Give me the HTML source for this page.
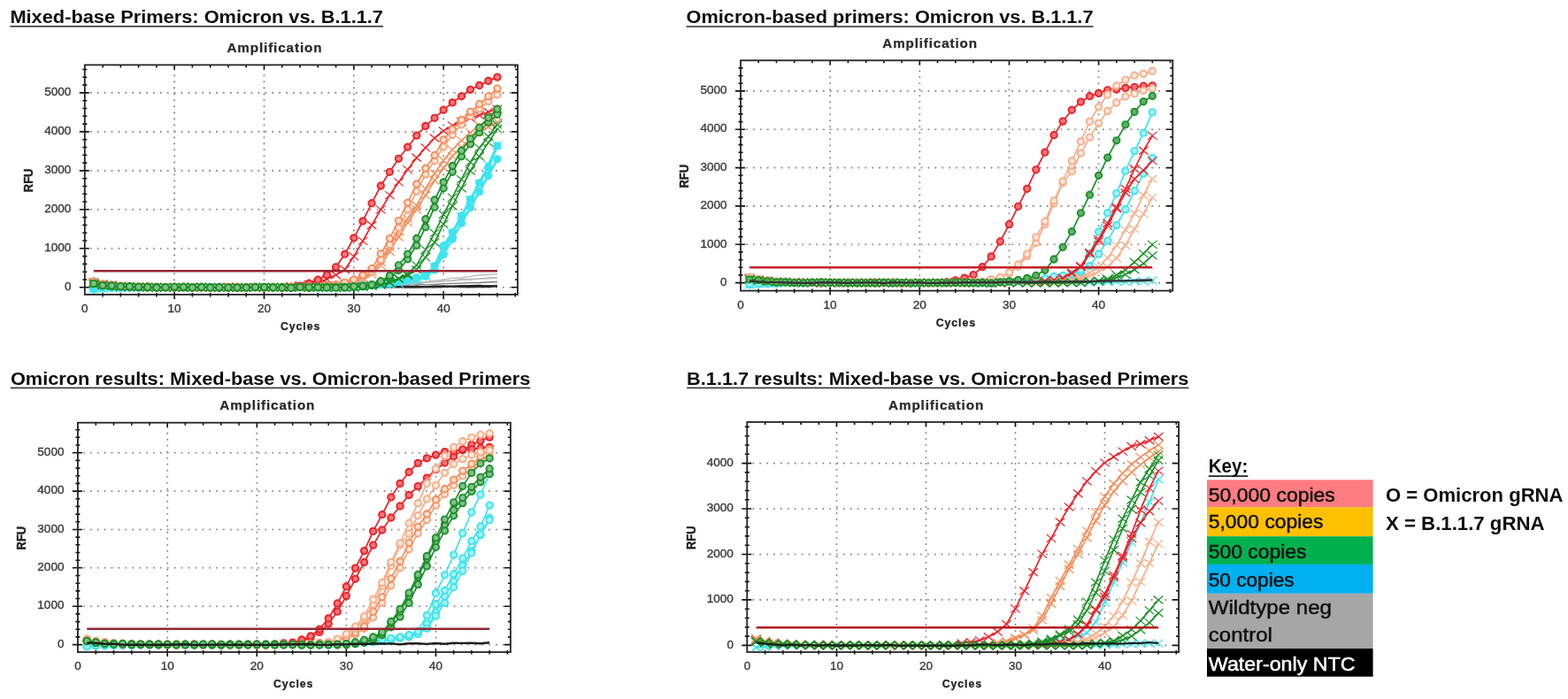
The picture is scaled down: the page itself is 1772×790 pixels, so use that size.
<!DOCTYPE html>
<html><head><meta charset="utf-8"><title>Amplification</title>
<style>html,body{margin:0;padding:0;background:#fff;width:1772px;height:790px;overflow:hidden}svg{display:block}text{font-family:"Liberation Sans", Arial, sans-serif}</style>
</head><body>
<svg width="1772" height="790" viewBox="0 0 1772 790">
<defs><filter id="bl" x="0" y="0" width="100%" height="100%"><feGaussianBlur stdDeviation="0.45"/></filter></defs>
<rect width="1772" height="790" fill="#fff"/>
<g filter="url(#bl)">
<text x="11.4" y="26.2" font-size="20" font-weight="bold" text-anchor="start" fill="#111" textLength="421.6" lengthAdjust="spacingAndGlyphs">Mixed-base Primers: Omicron vs. B.1.1.7</text>
<rect x="11.4" y="29" width="421.6" height="1.6" fill="#333"/>
<text x="256.4" y="58.8" font-size="13.9" font-weight="bold" text-anchor="start" fill="#2a2a2a" textLength="108" lengthAdjust="spacingAndGlyphs" stroke="#2a2a2a" stroke-width="0.25" letter-spacing="0.8">Amplification</text>
<path d="M197.1 78.4V329.9M298.5 78.4V329.9M399.9 78.4V329.9M501.2 78.4V329.9" stroke="#8c8c8c" stroke-width="2.1" stroke-dasharray="0 7" stroke-linecap="round" fill="none"/>
<path d="M102.8 324.8H582M102.8 280.8H582M102.8 236.8H582M102.8 192.9H582M102.8 148.9H582M102.8 104.9H582" stroke="#8c8c8c" stroke-width="2.1" stroke-dasharray="0 7.9" stroke-linecap="round" fill="none"/>
<path d="M89.8 324.8H100.8M578 324.8H585M93.3 316H98.3M582 316H585M93.3 307.2H98.3M582 307.2H585M93.3 298.4H98.3M582 298.4H585M93.3 289.6H98.3M582 289.6H585M89.8 280.8H100.8M578 280.8H585M93.3 272H98.3M582 272H585M93.3 263.2H98.3M582 263.2H585M93.3 254.4H98.3M582 254.4H585M93.3 245.6H98.3M582 245.6H585M89.8 236.8H100.8M578 236.8H585M93.3 228H98.3M582 228H585M93.3 219.2H98.3M582 219.2H585M93.3 210.5H98.3M582 210.5H585M93.3 201.7H98.3M582 201.7H585M89.8 192.9H100.8M578 192.9H585M93.3 184.1H98.3M582 184.1H585M93.3 175.3H98.3M582 175.3H585M93.3 166.5H98.3M582 166.5H585M93.3 157.7H98.3M582 157.7H585M89.8 148.9H100.8M578 148.9H585M93.3 140.1H98.3M582 140.1H585M93.3 131.3H98.3M582 131.3H585M93.3 122.5H98.3M582 122.5H585M93.3 113.7H98.3M582 113.7H585M89.8 104.9H100.8M578 104.9H585M93.3 96.1H98.3M582 96.1H585M93.3 87.3H98.3M582 87.3H585M93.3 78.5H98.3M582 78.5H585M116.1 330.9V335.4M116.1 73.4V76.4M136.3 330.9V335.4M136.3 73.4V76.4M156.6 330.9V335.4M156.6 73.4V76.4M176.9 330.9V335.4M176.9 73.4V76.4M197.1 328.9V337.9M197.1 73.4V78.4M217.4 330.9V335.4M217.4 73.4V76.4M237.7 330.9V335.4M237.7 73.4V76.4M258 330.9V335.4M258 73.4V76.4M278.2 330.9V335.4M278.2 73.4V76.4M298.5 328.9V337.9M298.5 73.4V78.4M318.8 330.9V335.4M318.8 73.4V76.4M339 330.9V335.4M339 73.4V76.4M359.3 330.9V335.4M359.3 73.4V76.4M379.6 330.9V335.4M379.6 73.4V76.4M399.9 328.9V337.9M399.9 73.4V78.4M420.1 330.9V335.4M420.1 73.4V76.4M440.4 330.9V335.4M440.4 73.4V76.4M460.7 330.9V335.4M460.7 73.4V76.4M480.9 330.9V335.4M480.9 73.4V76.4M501.2 328.9V337.9M501.2 73.4V78.4M521.5 330.9V335.4M521.5 73.4V76.4M541.7 330.9V335.4M541.7 73.4V76.4M562 330.9V335.4M562 73.4V76.4M582.3 330.9V335.4M582.3 73.4V76.4" stroke="#111" stroke-width="1.6" fill="none"/>
<rect x="95.8" y="73.4" width="489.2" height="259.5" fill="none" stroke="#222" stroke-width="1.8"/>
<text x="80.4" y="328" font-size="12.8" font-weight="normal" text-anchor="end" fill="#3a3a3a" textLength="7.5" lengthAdjust="spacingAndGlyphs" stroke="#3a3a3a" stroke-width="0.35">0</text>
<text x="80.4" y="284" font-size="12.8" font-weight="normal" text-anchor="end" fill="#3a3a3a" textLength="30.2" lengthAdjust="spacingAndGlyphs" stroke="#3a3a3a" stroke-width="0.35">1000</text>
<text x="80.4" y="240" font-size="12.8" font-weight="normal" text-anchor="end" fill="#3a3a3a" textLength="30.2" lengthAdjust="spacingAndGlyphs" stroke="#3a3a3a" stroke-width="0.35">2000</text>
<text x="80.4" y="196.1" font-size="12.8" font-weight="normal" text-anchor="end" fill="#3a3a3a" textLength="30.2" lengthAdjust="spacingAndGlyphs" stroke="#3a3a3a" stroke-width="0.35">3000</text>
<text x="80.4" y="152.1" font-size="12.8" font-weight="normal" text-anchor="end" fill="#3a3a3a" textLength="30.2" lengthAdjust="spacingAndGlyphs" stroke="#3a3a3a" stroke-width="0.35">4000</text>
<text x="80.4" y="108.1" font-size="12.8" font-weight="normal" text-anchor="end" fill="#3a3a3a" textLength="30.2" lengthAdjust="spacingAndGlyphs" stroke="#3a3a3a" stroke-width="0.35">5000</text>
<text x="95.8" y="353.3" font-size="12.8" font-weight="normal" text-anchor="middle" fill="#3a3a3a" textLength="7.5" lengthAdjust="spacingAndGlyphs" stroke="#3a3a3a" stroke-width="0.35">0</text>
<text x="197.1" y="353.3" font-size="12.8" font-weight="normal" text-anchor="middle" fill="#3a3a3a" textLength="15.1" lengthAdjust="spacingAndGlyphs" stroke="#3a3a3a" stroke-width="0.35">10</text>
<text x="298.5" y="353.3" font-size="12.8" font-weight="normal" text-anchor="middle" fill="#3a3a3a" textLength="15.1" lengthAdjust="spacingAndGlyphs" stroke="#3a3a3a" stroke-width="0.35">20</text>
<text x="399.9" y="353.3" font-size="12.8" font-weight="normal" text-anchor="middle" fill="#3a3a3a" textLength="15.1" lengthAdjust="spacingAndGlyphs" stroke="#3a3a3a" stroke-width="0.35">30</text>
<text x="501.2" y="353.3" font-size="12.8" font-weight="normal" text-anchor="middle" fill="#3a3a3a" textLength="15.1" lengthAdjust="spacingAndGlyphs" stroke="#3a3a3a" stroke-width="0.35">40</text>
<text x="339.6" y="373.1" font-size="12" font-weight="bold" text-anchor="middle" fill="#222" textLength="45.4" lengthAdjust="spacingAndGlyphs" stroke="#222" stroke-width="0.25" letter-spacing="0.9">Cycles</text>
<text x="0" y="0" font-size="14.2" font-weight="bold" fill="#222" stroke="#222" stroke-width="0.4" text-anchor="middle" textLength="26.6" lengthAdjust="spacingAndGlyphs" transform="translate(37.2 203.9) rotate(-90)">RFU</text>
<clipPath id="cp1"><rect x="95.8" y="73.4" width="489.2" height="259.5"/></clipPath>
<g clip-path="url(#cp1)">
<g>
<path d="M105.9 323 116.1 323.5 126.2 323.6 136.3 324 146.5 324.2 156.6 324.6 166.7 324.3 176.9 324.7 187 325.2 197.1 324.8 207.3 325.3 217.4 324.3 227.6 324.3 237.7 325 247.8 325 258 324.5 268.1 325.1 278.2 325.1 288.4 325.1 298.5 325 308.6 324.7 318.8 324.3 328.9 325.1 339 324.3 349.2 324.7 359.3 324.4 369.4 324.3 379.6 324.7 389.7 323.9 399.9 324.2 410 324 420.1 323.2 430.3 322.2 440.4 321.6 450.5 321.2 460.7 319.6 470.8 318.6 480.9 318.4 491.1 317.1 501.2 315.9 511.3 314.4 521.5 314 531.6 312.4 541.7 311 551.9 310.5 562 309.6" stroke="#bababa" stroke-width="1.3" fill="none" stroke-linejoin="round"/>
</g>
<g>
<path d="M105.9 322.5 116.1 323.7 126.2 323.4 136.3 323.8 146.5 324.5 156.6 324.4 166.7 325 176.9 325 187 325 197.1 324.6 207.3 325.1 217.4 324.3 227.6 325.2 237.7 325.1 247.8 325.2 258 324.5 268.1 324.9 278.2 324.8 288.4 325 298.5 324.7 308.6 324.9 318.8 325.1 328.9 324.9 339 325 349.2 325.2 359.3 324.5 369.4 324.5 379.6 324.2 389.7 323.7 399.9 324 410 323.7 420.1 323.3 430.3 322.9 440.4 322 450.5 322.1 460.7 320.9 470.8 320 480.9 319.3 491.1 318.7 501.2 317.1 511.3 317 521.5 315.6 531.6 315.3 541.7 314.8 551.9 314 562 313.7" stroke="#bababa" stroke-width="1.3" fill="none" stroke-linejoin="round"/>
</g>
<g>
<path d="M105.9 323 116.1 323.3 126.2 324.3 136.3 324 146.5 324.3 156.6 324.7 166.7 324.5 176.9 324.6 187 325.2 197.1 324.7 207.3 324.7 217.4 324.8 227.6 324.4 237.7 324.5 247.8 324.9 258 325.1 268.1 325.2 278.2 324.5 288.4 324.6 298.5 324.7 308.6 324.9 318.8 324.8 328.9 325.1 339 324.8 349.2 325.2 359.3 324.7 369.4 324.6 379.6 324.4 389.7 324.7 399.9 324.6 410 324.1 420.1 323.5 430.3 323.4 440.4 322.7 450.5 322.6 460.7 322.3 470.8 321.4 480.9 321.8 491.1 321.5 501.2 320.7 511.3 320.3 521.5 320.2 531.6 319.7 541.7 319.5 551.9 319 562 318.5" stroke="#7a7a7a" stroke-width="1.3" fill="none" stroke-linejoin="round"/>
</g>
<g>
<path d="M105.9 322.1 116.1 323.5 126.2 323.7 136.3 324 146.5 324.7 156.6 325 166.7 324.5 176.9 325.1 187 324.9 197.1 324.4 207.3 324.4 217.4 325.2 227.6 325.2 237.7 325.1 247.8 324.4 258 325.3 268.1 325.1 278.2 325.2 288.4 325.2 298.5 324.8 308.6 325.1 318.8 324.9 328.9 324.6 339 324.6 349.2 324.9 359.3 324.5 369.4 324.7 379.6 324.2 389.7 324.7 399.9 324.3 410 323.7 420.1 323 430.3 322.9 440.4 322.5 450.5 322.2 460.7 321.5 470.8 320.9 480.9 319.3 491.1 318.6 501.2 317.8 511.3 317.4 521.5 316.3 531.6 316 541.7 315.1 551.9 314.8 562 313.9" stroke="#bababa" stroke-width="1.3" fill="none" stroke-linejoin="round"/>
</g>
<g>
<path d="M105.9 322.1 116.1 323 126.2 323.7 136.3 324.5 146.5 324.6 156.6 324.3 166.7 324.3 176.9 325.2 187 325.1 197.1 324.3 207.3 325.2 217.4 324.6 227.6 325 237.7 324.6 247.8 324.4 258 324.7 268.1 324.9 278.2 325 288.4 324.7 298.5 324.7 308.6 324.9 318.8 324.8 328.9 324.7 339 325 349.2 325 359.3 324.5 369.4 325 379.6 324.4 389.7 324.1 399.9 324 410 324.6 420.1 324.3 430.3 323.7 440.4 324.2 450.5 323.5 460.7 324.2 470.8 323.4 480.9 324.2 491.1 323.4 501.2 323.2 511.3 323.3 521.5 323.1 531.6 322.7 541.7 322.5 551.9 323.3 562 322.8" stroke="#1c1c1c" stroke-width="1.6" fill="none" stroke-linejoin="round"/>
</g>
<g>
<path d="M105.9 322.2 116.1 323.6 126.2 323.6 136.3 323.8 146.5 324.6 156.6 324.3 166.7 324.8 176.9 325.1 187 324.9 197.1 324.5 207.3 325.1 217.4 324.6 227.6 324.9 237.7 325.1 247.8 324.9 258 324.9 268.1 324.8 278.2 324.4 288.4 324.5 298.5 325.3 308.6 324.5 318.8 324.9 328.9 324.5 339 324.6 349.2 324.8 359.3 325.1 369.4 324.3 379.6 324.2 389.7 324.5 399.9 325 410 324.2 420.1 324.2 430.3 324 440.4 323.8 450.5 323.8 460.7 324 470.8 324.2 480.9 324 491.1 324 501.2 323.6 511.3 323.7 521.5 323.4 531.6 323.7 541.7 323.5 551.9 323.1 562 323.2" stroke="#1c1c1c" stroke-width="1.6" fill="none" stroke-linejoin="round"/>
</g>
<g>
<path d="M105.9 322.4 116.1 323 126.2 324.4 136.3 323.8 146.5 324.1 156.6 325 166.7 324.3 176.9 324.4 187 325.1 197.1 324.3 207.3 324.9 217.4 324.8 227.6 324.6 237.7 324.6 247.8 324.5 258 325 268.1 324.8 278.2 325.2 288.4 325.3 298.5 325.2 308.6 325.7 318.8 325.4 328.9 324.8 339 325.5 349.2 325.1 359.3 325.5 369.4 324.7 379.6 325.3 389.7 325.2 399.9 324.5 410 324.8 420.1 324.7 430.3 324.6 440.4 324.6 450.5 324.7 460.7 324.9 470.8 324.9 480.9 324.8 491.1 324.7 501.2 324.5 511.3 323.9 521.5 324.5 531.6 324.6 541.7 324.3 551.9 324.4 562 323.6" stroke="#333" stroke-width="1.6" fill="none" stroke-linejoin="round"/>
</g>
<g>
<path d="M105.9 326.8 116.1 325.8 126.2 325 136.3 325.1 146.5 325.1 156.6 325.2 166.7 325.3 176.9 324.3 187 324.6 197.1 325.1 207.3 324.7 217.4 324.6 227.6 324.4 237.7 325 247.8 325 258 325.1 268.1 324.7 278.2 324.4 288.4 324.6 298.5 325.2 308.6 324.9 318.8 325.2 328.9 325.2 339 324.8 349.2 325.2 359.3 325 369.4 325.1 379.6 324.9 389.7 324 399.9 324 410 322.9 420.1 322.5 430.3 321.5 440.4 320.4 450.5 318.6 460.7 317 470.8 315.1 480.9 312.1 491.1 305.2 501.2 287.6 511.3 270.1 521.5 252.2 531.6 234.5 541.7 216.7 551.9 198.6 562 179.8" stroke="#3ce4ef" stroke-width="2.6" fill="none" stroke-linejoin="round"/>
<path d="M102.2 326.8a3.7 3.7 0 1 0 7.4 0a3.7 3.7 0 1 0 -7.4 0M112.4 325.8a3.7 3.7 0 1 0 7.4 0a3.7 3.7 0 1 0 -7.4 0M122.5 325a3.7 3.7 0 1 0 7.4 0a3.7 3.7 0 1 0 -7.4 0M132.6 325.1a3.7 3.7 0 1 0 7.4 0a3.7 3.7 0 1 0 -7.4 0M142.8 325.1a3.7 3.7 0 1 0 7.4 0a3.7 3.7 0 1 0 -7.4 0M152.9 325.2a3.7 3.7 0 1 0 7.4 0a3.7 3.7 0 1 0 -7.4 0M163 325.3a3.7 3.7 0 1 0 7.4 0a3.7 3.7 0 1 0 -7.4 0M173.2 324.3a3.7 3.7 0 1 0 7.4 0a3.7 3.7 0 1 0 -7.4 0M183.3 324.6a3.7 3.7 0 1 0 7.4 0a3.7 3.7 0 1 0 -7.4 0M193.4 325.1a3.7 3.7 0 1 0 7.4 0a3.7 3.7 0 1 0 -7.4 0M203.6 324.7a3.7 3.7 0 1 0 7.4 0a3.7 3.7 0 1 0 -7.4 0M213.7 324.6a3.7 3.7 0 1 0 7.4 0a3.7 3.7 0 1 0 -7.4 0M223.9 324.4a3.7 3.7 0 1 0 7.4 0a3.7 3.7 0 1 0 -7.4 0M234 325a3.7 3.7 0 1 0 7.4 0a3.7 3.7 0 1 0 -7.4 0M244.1 325a3.7 3.7 0 1 0 7.4 0a3.7 3.7 0 1 0 -7.4 0M254.3 325.1a3.7 3.7 0 1 0 7.4 0a3.7 3.7 0 1 0 -7.4 0M264.4 324.7a3.7 3.7 0 1 0 7.4 0a3.7 3.7 0 1 0 -7.4 0M274.5 324.4a3.7 3.7 0 1 0 7.4 0a3.7 3.7 0 1 0 -7.4 0M284.7 324.6a3.7 3.7 0 1 0 7.4 0a3.7 3.7 0 1 0 -7.4 0M294.8 325.2a3.7 3.7 0 1 0 7.4 0a3.7 3.7 0 1 0 -7.4 0M304.9 324.9a3.7 3.7 0 1 0 7.4 0a3.7 3.7 0 1 0 -7.4 0M315.1 325.2a3.7 3.7 0 1 0 7.4 0a3.7 3.7 0 1 0 -7.4 0M325.2 325.2a3.7 3.7 0 1 0 7.4 0a3.7 3.7 0 1 0 -7.4 0M335.3 324.8a3.7 3.7 0 1 0 7.4 0a3.7 3.7 0 1 0 -7.4 0M345.5 325.2a3.7 3.7 0 1 0 7.4 0a3.7 3.7 0 1 0 -7.4 0M355.6 325a3.7 3.7 0 1 0 7.4 0a3.7 3.7 0 1 0 -7.4 0M365.7 325.1a3.7 3.7 0 1 0 7.4 0a3.7 3.7 0 1 0 -7.4 0M375.9 324.9a3.7 3.7 0 1 0 7.4 0a3.7 3.7 0 1 0 -7.4 0M386 324a3.7 3.7 0 1 0 7.4 0a3.7 3.7 0 1 0 -7.4 0M396.2 324a3.7 3.7 0 1 0 7.4 0a3.7 3.7 0 1 0 -7.4 0M406.3 322.9a3.7 3.7 0 1 0 7.4 0a3.7 3.7 0 1 0 -7.4 0M416.4 322.5a3.7 3.7 0 1 0 7.4 0a3.7 3.7 0 1 0 -7.4 0M426.6 321.5a3.7 3.7 0 1 0 7.4 0a3.7 3.7 0 1 0 -7.4 0M436.7 320.4a3.7 3.7 0 1 0 7.4 0a3.7 3.7 0 1 0 -7.4 0M446.8 318.6a3.7 3.7 0 1 0 7.4 0a3.7 3.7 0 1 0 -7.4 0M457 317a3.7 3.7 0 1 0 7.4 0a3.7 3.7 0 1 0 -7.4 0M467.1 315.1a3.7 3.7 0 1 0 7.4 0a3.7 3.7 0 1 0 -7.4 0M477.2 312.1a3.7 3.7 0 1 0 7.4 0a3.7 3.7 0 1 0 -7.4 0M487.4 305.2a3.7 3.7 0 1 0 7.4 0a3.7 3.7 0 1 0 -7.4 0M497.5 287.6a3.7 3.7 0 1 0 7.4 0a3.7 3.7 0 1 0 -7.4 0M507.6 270.1a3.7 3.7 0 1 0 7.4 0a3.7 3.7 0 1 0 -7.4 0M517.8 252.2a3.7 3.7 0 1 0 7.4 0a3.7 3.7 0 1 0 -7.4 0M527.9 234.5a3.7 3.7 0 1 0 7.4 0a3.7 3.7 0 1 0 -7.4 0M538 216.7a3.7 3.7 0 1 0 7.4 0a3.7 3.7 0 1 0 -7.4 0M548.2 198.6a3.7 3.7 0 1 0 7.4 0a3.7 3.7 0 1 0 -7.4 0M558.3 179.8a3.7 3.7 0 1 0 7.4 0a3.7 3.7 0 1 0 -7.4 0" stroke="#3ce4ef" stroke-width="1.9" fill="#3ce4ef"/>
</g>
<g>
<path d="M105.9 326.9 116.1 325.6 126.2 325.1 136.3 325.4 146.5 325.3 156.6 325.3 166.7 325.4 176.9 325.2 187 325.2 197.1 324.5 207.3 325.1 217.4 325.1 227.6 324.4 237.7 324.4 247.8 325.2 258 325 268.1 324.3 278.2 324.9 288.4 324.7 298.5 324.6 308.6 324.6 318.8 325.3 328.9 324.6 339 324.5 349.2 324.9 359.3 325 369.4 324.6 379.6 324.3 389.7 323.8 399.9 323.8 410 322.5 420.1 322 430.3 320.3 440.4 319 450.5 318 460.7 315.8 470.8 313.8 480.9 311.1 491.1 300.6 501.2 277.7 511.3 262.6 521.5 243.8 531.6 225.4 541.7 206.8 551.9 189 562 165" stroke="#3ce4ef" stroke-width="2.6" fill="none" stroke-linejoin="round"/>
<path d="M102.2 326.9a3.7 3.7 0 1 0 7.4 0a3.7 3.7 0 1 0 -7.4 0M112.4 325.6a3.7 3.7 0 1 0 7.4 0a3.7 3.7 0 1 0 -7.4 0M122.5 325.1a3.7 3.7 0 1 0 7.4 0a3.7 3.7 0 1 0 -7.4 0M132.6 325.4a3.7 3.7 0 1 0 7.4 0a3.7 3.7 0 1 0 -7.4 0M142.8 325.3a3.7 3.7 0 1 0 7.4 0a3.7 3.7 0 1 0 -7.4 0M152.9 325.3a3.7 3.7 0 1 0 7.4 0a3.7 3.7 0 1 0 -7.4 0M163 325.4a3.7 3.7 0 1 0 7.4 0a3.7 3.7 0 1 0 -7.4 0M173.2 325.2a3.7 3.7 0 1 0 7.4 0a3.7 3.7 0 1 0 -7.4 0M183.3 325.2a3.7 3.7 0 1 0 7.4 0a3.7 3.7 0 1 0 -7.4 0M193.4 324.5a3.7 3.7 0 1 0 7.4 0a3.7 3.7 0 1 0 -7.4 0M203.6 325.1a3.7 3.7 0 1 0 7.4 0a3.7 3.7 0 1 0 -7.4 0M213.7 325.1a3.7 3.7 0 1 0 7.4 0a3.7 3.7 0 1 0 -7.4 0M223.9 324.4a3.7 3.7 0 1 0 7.4 0a3.7 3.7 0 1 0 -7.4 0M234 324.4a3.7 3.7 0 1 0 7.4 0a3.7 3.7 0 1 0 -7.4 0M244.1 325.2a3.7 3.7 0 1 0 7.4 0a3.7 3.7 0 1 0 -7.4 0M254.3 325a3.7 3.7 0 1 0 7.4 0a3.7 3.7 0 1 0 -7.4 0M264.4 324.3a3.7 3.7 0 1 0 7.4 0a3.7 3.7 0 1 0 -7.4 0M274.5 324.9a3.7 3.7 0 1 0 7.4 0a3.7 3.7 0 1 0 -7.4 0M284.7 324.7a3.7 3.7 0 1 0 7.4 0a3.7 3.7 0 1 0 -7.4 0M294.8 324.6a3.7 3.7 0 1 0 7.4 0a3.7 3.7 0 1 0 -7.4 0M304.9 324.6a3.7 3.7 0 1 0 7.4 0a3.7 3.7 0 1 0 -7.4 0M315.1 325.3a3.7 3.7 0 1 0 7.4 0a3.7 3.7 0 1 0 -7.4 0M325.2 324.6a3.7 3.7 0 1 0 7.4 0a3.7 3.7 0 1 0 -7.4 0M335.3 324.5a3.7 3.7 0 1 0 7.4 0a3.7 3.7 0 1 0 -7.4 0M345.5 324.9a3.7 3.7 0 1 0 7.4 0a3.7 3.7 0 1 0 -7.4 0M355.6 325a3.7 3.7 0 1 0 7.4 0a3.7 3.7 0 1 0 -7.4 0M365.7 324.6a3.7 3.7 0 1 0 7.4 0a3.7 3.7 0 1 0 -7.4 0M375.9 324.3a3.7 3.7 0 1 0 7.4 0a3.7 3.7 0 1 0 -7.4 0M386 323.8a3.7 3.7 0 1 0 7.4 0a3.7 3.7 0 1 0 -7.4 0M396.2 323.8a3.7 3.7 0 1 0 7.4 0a3.7 3.7 0 1 0 -7.4 0M406.3 322.5a3.7 3.7 0 1 0 7.4 0a3.7 3.7 0 1 0 -7.4 0M416.4 322a3.7 3.7 0 1 0 7.4 0a3.7 3.7 0 1 0 -7.4 0M426.6 320.3a3.7 3.7 0 1 0 7.4 0a3.7 3.7 0 1 0 -7.4 0M436.7 319a3.7 3.7 0 1 0 7.4 0a3.7 3.7 0 1 0 -7.4 0M446.8 318a3.7 3.7 0 1 0 7.4 0a3.7 3.7 0 1 0 -7.4 0M457 315.8a3.7 3.7 0 1 0 7.4 0a3.7 3.7 0 1 0 -7.4 0M467.1 313.8a3.7 3.7 0 1 0 7.4 0a3.7 3.7 0 1 0 -7.4 0M477.2 311.1a3.7 3.7 0 1 0 7.4 0a3.7 3.7 0 1 0 -7.4 0M487.4 300.6a3.7 3.7 0 1 0 7.4 0a3.7 3.7 0 1 0 -7.4 0M497.5 277.7a3.7 3.7 0 1 0 7.4 0a3.7 3.7 0 1 0 -7.4 0M507.6 262.6a3.7 3.7 0 1 0 7.4 0a3.7 3.7 0 1 0 -7.4 0M517.8 243.8a3.7 3.7 0 1 0 7.4 0a3.7 3.7 0 1 0 -7.4 0M527.9 225.4a3.7 3.7 0 1 0 7.4 0a3.7 3.7 0 1 0 -7.4 0M538 206.8a3.7 3.7 0 1 0 7.4 0a3.7 3.7 0 1 0 -7.4 0M548.2 189a3.7 3.7 0 1 0 7.4 0a3.7 3.7 0 1 0 -7.4 0M558.3 165a3.7 3.7 0 1 0 7.4 0a3.7 3.7 0 1 0 -7.4 0" stroke="#3ce4ef" stroke-width="1.9" fill="#3ce4ef"/>
</g>
<g>
<path d="M105.9 326.8 116.1 326 126.2 325.5 136.3 325.7 146.5 325.1 156.6 324.5 166.7 324.8 176.9 324.9 187 324.5 197.1 324.9 207.3 325.1 217.4 324.5 227.6 325.2 237.7 324.4 247.8 324.4 258 324.8 268.1 324.8 278.2 325.3 288.4 325.1 298.5 324.5 308.6 324.6 318.8 324.7 328.9 325.2 339 324.6 349.2 324.3 359.3 324.4 369.4 324.6 379.6 324.9 389.7 324.9 399.9 325.2 410 324.7 420.1 322.8 430.3 322.5 440.4 321.6 450.5 320.4 460.7 318.1 470.8 316 480.9 312.3 491.1 301.6 501.2 283 511.3 264 521.5 244.4 531.6 225.7 541.7 207.4 551.9 186.3 562 164.2" stroke="#3ce4ef" stroke-width="2.6" fill="none" stroke-linejoin="round"/>
<path d="M100.6 322.3l10.6 9m0 -9l-10.6 9M110.8 321.5l10.6 9m0 -9l-10.6 9M120.9 321l10.6 9m0 -9l-10.6 9M131 321.2l10.6 9m0 -9l-10.6 9M141.2 320.6l10.6 9m0 -9l-10.6 9M151.3 320l10.6 9m0 -9l-10.6 9M161.4 320.3l10.6 9m0 -9l-10.6 9M171.6 320.4l10.6 9m0 -9l-10.6 9M181.7 320l10.6 9m0 -9l-10.6 9M191.8 320.4l10.6 9m0 -9l-10.6 9M202 320.6l10.6 9m0 -9l-10.6 9M212.1 320l10.6 9m0 -9l-10.6 9M222.3 320.7l10.6 9m0 -9l-10.6 9M232.4 319.9l10.6 9m0 -9l-10.6 9M242.5 319.9l10.6 9m0 -9l-10.6 9M252.7 320.3l10.6 9m0 -9l-10.6 9M262.8 320.3l10.6 9m0 -9l-10.6 9M272.9 320.8l10.6 9m0 -9l-10.6 9M283.1 320.6l10.6 9m0 -9l-10.6 9M293.2 320l10.6 9m0 -9l-10.6 9M303.3 320.1l10.6 9m0 -9l-10.6 9M313.5 320.2l10.6 9m0 -9l-10.6 9M323.6 320.7l10.6 9m0 -9l-10.6 9M333.7 320.1l10.6 9m0 -9l-10.6 9M343.9 319.8l10.6 9m0 -9l-10.6 9M354 319.9l10.6 9m0 -9l-10.6 9M364.1 320.1l10.6 9m0 -9l-10.6 9M374.3 320.4l10.6 9m0 -9l-10.6 9M384.4 320.4l10.6 9m0 -9l-10.6 9M394.6 320.7l10.6 9m0 -9l-10.6 9M404.7 320.2l10.6 9m0 -9l-10.6 9M414.8 318.3l10.6 9m0 -9l-10.6 9M425 318l10.6 9m0 -9l-10.6 9M435.1 317.1l10.6 9m0 -9l-10.6 9M445.2 315.9l10.6 9m0 -9l-10.6 9M455.4 313.6l10.6 9m0 -9l-10.6 9M465.5 311.5l10.6 9m0 -9l-10.6 9M475.6 307.8l10.6 9m0 -9l-10.6 9M485.8 297.1l10.6 9m0 -9l-10.6 9M495.9 278.5l10.6 9m0 -9l-10.6 9M506 259.5l10.6 9m0 -9l-10.6 9M516.2 239.9l10.6 9m0 -9l-10.6 9M526.3 221.2l10.6 9m0 -9l-10.6 9M536.4 202.9l10.6 9m0 -9l-10.6 9M546.6 181.8l10.6 9m0 -9l-10.6 9M556.7 159.7l10.6 9m0 -9l-10.6 9" stroke="#3ce4ef" stroke-width="1.2" fill="none"/>
</g>
<g>
<path d="M105.9 319.1 116.1 321.6 126.2 322.3 136.3 323.7 146.5 324 156.6 324.5 166.7 324.4 176.9 325 187 324.7 197.1 324.9 207.3 325.2 217.4 324.4 227.6 324.3 237.7 325.2 247.8 324.7 258 324.8 268.1 324.9 278.2 324.7 288.4 324.6 298.5 325 308.6 324.9 318.8 324.8 328.9 323.7 339 322.6 349.2 321.4 359.3 319.6 369.4 315.6 379.6 310.7 389.7 304.5 399.9 289.9 410 272.4 420.1 254.5 430.3 236.9 440.4 220.6 450.5 205.9 460.7 191.6 470.8 178.2 480.9 166.9 491.1 156 501.2 148 511.3 141.9 521.5 137.5 531.6 133.3 541.7 130.3 551.9 126.5 562 123.2" stroke="#ec2027" stroke-width="1.7" fill="none" stroke-linejoin="round"/>
<path d="M100.6 314.6l10.6 9m0 -9l-10.6 9M110.8 317.1l10.6 9m0 -9l-10.6 9M120.9 317.8l10.6 9m0 -9l-10.6 9M131 319.2l10.6 9m0 -9l-10.6 9M141.2 319.5l10.6 9m0 -9l-10.6 9M151.3 320l10.6 9m0 -9l-10.6 9M161.4 319.9l10.6 9m0 -9l-10.6 9M171.6 320.5l10.6 9m0 -9l-10.6 9M181.7 320.2l10.6 9m0 -9l-10.6 9M191.8 320.4l10.6 9m0 -9l-10.6 9M202 320.7l10.6 9m0 -9l-10.6 9M212.1 319.9l10.6 9m0 -9l-10.6 9M222.3 319.8l10.6 9m0 -9l-10.6 9M232.4 320.7l10.6 9m0 -9l-10.6 9M242.5 320.2l10.6 9m0 -9l-10.6 9M252.7 320.3l10.6 9m0 -9l-10.6 9M262.8 320.4l10.6 9m0 -9l-10.6 9M272.9 320.2l10.6 9m0 -9l-10.6 9M283.1 320.1l10.6 9m0 -9l-10.6 9M293.2 320.5l10.6 9m0 -9l-10.6 9M303.3 320.4l10.6 9m0 -9l-10.6 9M313.5 320.3l10.6 9m0 -9l-10.6 9M323.6 319.2l10.6 9m0 -9l-10.6 9M333.7 318.1l10.6 9m0 -9l-10.6 9M343.9 316.9l10.6 9m0 -9l-10.6 9M354 315.1l10.6 9m0 -9l-10.6 9M364.1 311.1l10.6 9m0 -9l-10.6 9M374.3 306.2l10.6 9m0 -9l-10.6 9M384.4 300l10.6 9m0 -9l-10.6 9M394.6 285.4l10.6 9m0 -9l-10.6 9M404.7 267.9l10.6 9m0 -9l-10.6 9M414.8 250l10.6 9m0 -9l-10.6 9M425 232.4l10.6 9m0 -9l-10.6 9M435.1 216.1l10.6 9m0 -9l-10.6 9M445.2 201.4l10.6 9m0 -9l-10.6 9M455.4 187.1l10.6 9m0 -9l-10.6 9M465.5 173.7l10.6 9m0 -9l-10.6 9M475.6 162.4l10.6 9m0 -9l-10.6 9M485.8 151.5l10.6 9m0 -9l-10.6 9M495.9 143.5l10.6 9m0 -9l-10.6 9M506 137.4l10.6 9m0 -9l-10.6 9M516.2 133l10.6 9m0 -9l-10.6 9M526.3 128.8l10.6 9m0 -9l-10.6 9M536.4 125.8l10.6 9m0 -9l-10.6 9M546.6 122l10.6 9m0 -9l-10.6 9M556.7 118.7l10.6 9m0 -9l-10.6 9" stroke="#ec2027" stroke-width="1.2" fill="none"/>
</g>
<g>
<path d="M105.9 319.2 116.1 321.8 126.2 322.2 136.3 323.5 146.5 324.1 156.6 324.1 166.7 324.8 176.9 324.9 187 324.7 197.1 325 207.3 324.6 217.4 324.9 227.6 324.9 237.7 325 247.8 325.1 258 324.6 268.1 324.4 278.2 325 288.4 324.5 298.5 325 308.6 324.5 318.8 325.1 328.9 324.2 339 323.1 349.2 320.2 359.3 316.2 369.4 310.7 379.6 301.8 389.7 287.2 399.9 268.9 410 249.9 420.1 229.7 430.3 210 440.4 194.3 450.5 179.3 460.7 166.2 470.8 153.2 480.9 142.4 491.1 133.3 501.2 124.3 511.3 115.9 521.5 108.8 531.6 101.3 541.7 96.5 551.9 91.4 562 87.1" stroke="#ec2027" stroke-width="1.7" fill="none" stroke-linejoin="round"/>
<path d="M102.2 319.2a3.7 3.7 0 1 0 7.4 0a3.7 3.7 0 1 0 -7.4 0M112.4 321.8a3.7 3.7 0 1 0 7.4 0a3.7 3.7 0 1 0 -7.4 0M122.5 322.2a3.7 3.7 0 1 0 7.4 0a3.7 3.7 0 1 0 -7.4 0M132.6 323.5a3.7 3.7 0 1 0 7.4 0a3.7 3.7 0 1 0 -7.4 0M142.8 324.1a3.7 3.7 0 1 0 7.4 0a3.7 3.7 0 1 0 -7.4 0M152.9 324.1a3.7 3.7 0 1 0 7.4 0a3.7 3.7 0 1 0 -7.4 0M163 324.8a3.7 3.7 0 1 0 7.4 0a3.7 3.7 0 1 0 -7.4 0M173.2 324.9a3.7 3.7 0 1 0 7.4 0a3.7 3.7 0 1 0 -7.4 0M183.3 324.7a3.7 3.7 0 1 0 7.4 0a3.7 3.7 0 1 0 -7.4 0M193.4 325a3.7 3.7 0 1 0 7.4 0a3.7 3.7 0 1 0 -7.4 0M203.6 324.6a3.7 3.7 0 1 0 7.4 0a3.7 3.7 0 1 0 -7.4 0M213.7 324.9a3.7 3.7 0 1 0 7.4 0a3.7 3.7 0 1 0 -7.4 0M223.9 324.9a3.7 3.7 0 1 0 7.4 0a3.7 3.7 0 1 0 -7.4 0M234 325a3.7 3.7 0 1 0 7.4 0a3.7 3.7 0 1 0 -7.4 0M244.1 325.1a3.7 3.7 0 1 0 7.4 0a3.7 3.7 0 1 0 -7.4 0M254.3 324.6a3.7 3.7 0 1 0 7.4 0a3.7 3.7 0 1 0 -7.4 0M264.4 324.4a3.7 3.7 0 1 0 7.4 0a3.7 3.7 0 1 0 -7.4 0M274.5 325a3.7 3.7 0 1 0 7.4 0a3.7 3.7 0 1 0 -7.4 0M284.7 324.5a3.7 3.7 0 1 0 7.4 0a3.7 3.7 0 1 0 -7.4 0M294.8 325a3.7 3.7 0 1 0 7.4 0a3.7 3.7 0 1 0 -7.4 0M304.9 324.5a3.7 3.7 0 1 0 7.4 0a3.7 3.7 0 1 0 -7.4 0M315.1 325.1a3.7 3.7 0 1 0 7.4 0a3.7 3.7 0 1 0 -7.4 0M325.2 324.2a3.7 3.7 0 1 0 7.4 0a3.7 3.7 0 1 0 -7.4 0M335.3 323.1a3.7 3.7 0 1 0 7.4 0a3.7 3.7 0 1 0 -7.4 0M345.5 320.2a3.7 3.7 0 1 0 7.4 0a3.7 3.7 0 1 0 -7.4 0M355.6 316.2a3.7 3.7 0 1 0 7.4 0a3.7 3.7 0 1 0 -7.4 0M365.7 310.7a3.7 3.7 0 1 0 7.4 0a3.7 3.7 0 1 0 -7.4 0M375.9 301.8a3.7 3.7 0 1 0 7.4 0a3.7 3.7 0 1 0 -7.4 0M386 287.2a3.7 3.7 0 1 0 7.4 0a3.7 3.7 0 1 0 -7.4 0M396.2 268.9a3.7 3.7 0 1 0 7.4 0a3.7 3.7 0 1 0 -7.4 0M406.3 249.9a3.7 3.7 0 1 0 7.4 0a3.7 3.7 0 1 0 -7.4 0M416.4 229.7a3.7 3.7 0 1 0 7.4 0a3.7 3.7 0 1 0 -7.4 0M426.6 210a3.7 3.7 0 1 0 7.4 0a3.7 3.7 0 1 0 -7.4 0M436.7 194.3a3.7 3.7 0 1 0 7.4 0a3.7 3.7 0 1 0 -7.4 0M446.8 179.3a3.7 3.7 0 1 0 7.4 0a3.7 3.7 0 1 0 -7.4 0M457 166.2a3.7 3.7 0 1 0 7.4 0a3.7 3.7 0 1 0 -7.4 0M467.1 153.2a3.7 3.7 0 1 0 7.4 0a3.7 3.7 0 1 0 -7.4 0M477.2 142.4a3.7 3.7 0 1 0 7.4 0a3.7 3.7 0 1 0 -7.4 0M487.4 133.3a3.7 3.7 0 1 0 7.4 0a3.7 3.7 0 1 0 -7.4 0M497.5 124.3a3.7 3.7 0 1 0 7.4 0a3.7 3.7 0 1 0 -7.4 0M507.6 115.9a3.7 3.7 0 1 0 7.4 0a3.7 3.7 0 1 0 -7.4 0M517.8 108.8a3.7 3.7 0 1 0 7.4 0a3.7 3.7 0 1 0 -7.4 0M527.9 101.3a3.7 3.7 0 1 0 7.4 0a3.7 3.7 0 1 0 -7.4 0M538 96.5a3.7 3.7 0 1 0 7.4 0a3.7 3.7 0 1 0 -7.4 0M548.2 91.4a3.7 3.7 0 1 0 7.4 0a3.7 3.7 0 1 0 -7.4 0M558.3 87.1a3.7 3.7 0 1 0 7.4 0a3.7 3.7 0 1 0 -7.4 0" stroke="#ec2027" stroke-width="1.9" fill="#f37479"/>
</g>
<g>
<path d="M105.9 318.4 116.1 320.6 126.2 322.1 136.3 323 146.5 323.3 156.6 323.9 166.7 324.7 176.9 324.8 187 324.7 197.1 324.8 207.3 324.2 217.4 324.5 227.6 324.8 237.7 324.9 247.8 325.1 258 324.7 268.1 324.3 278.2 325.1 288.4 324.8 298.5 325 308.6 324.7 318.8 325.1 328.9 325.3 339 324.6 349.2 325 359.3 324.6 369.4 323.6 379.6 322.5 389.7 320.6 399.9 318.3 410 315.6 420.1 310.1 430.3 300 440.4 284.2 450.5 267.8 460.7 251.4 470.8 236.7 480.9 220.6 491.1 204 501.2 189.8 511.3 176.4 521.5 166.3 531.6 156.9 541.7 149.3 551.9 143.5 562 138.1" stroke="#f58d5a" stroke-width="1.7" fill="none" stroke-linejoin="round"/>
<path d="M100.6 313.9l10.6 9m0 -9l-10.6 9M110.8 316.1l10.6 9m0 -9l-10.6 9M120.9 317.6l10.6 9m0 -9l-10.6 9M131 318.5l10.6 9m0 -9l-10.6 9M141.2 318.8l10.6 9m0 -9l-10.6 9M151.3 319.4l10.6 9m0 -9l-10.6 9M161.4 320.2l10.6 9m0 -9l-10.6 9M171.6 320.3l10.6 9m0 -9l-10.6 9M181.7 320.2l10.6 9m0 -9l-10.6 9M191.8 320.3l10.6 9m0 -9l-10.6 9M202 319.7l10.6 9m0 -9l-10.6 9M212.1 320l10.6 9m0 -9l-10.6 9M222.3 320.3l10.6 9m0 -9l-10.6 9M232.4 320.4l10.6 9m0 -9l-10.6 9M242.5 320.6l10.6 9m0 -9l-10.6 9M252.7 320.2l10.6 9m0 -9l-10.6 9M262.8 319.8l10.6 9m0 -9l-10.6 9M272.9 320.6l10.6 9m0 -9l-10.6 9M283.1 320.3l10.6 9m0 -9l-10.6 9M293.2 320.5l10.6 9m0 -9l-10.6 9M303.3 320.2l10.6 9m0 -9l-10.6 9M313.5 320.6l10.6 9m0 -9l-10.6 9M323.6 320.8l10.6 9m0 -9l-10.6 9M333.7 320.1l10.6 9m0 -9l-10.6 9M343.9 320.5l10.6 9m0 -9l-10.6 9M354 320.1l10.6 9m0 -9l-10.6 9M364.1 319.1l10.6 9m0 -9l-10.6 9M374.3 318l10.6 9m0 -9l-10.6 9M384.4 316.1l10.6 9m0 -9l-10.6 9M394.6 313.8l10.6 9m0 -9l-10.6 9M404.7 311.1l10.6 9m0 -9l-10.6 9M414.8 305.6l10.6 9m0 -9l-10.6 9M425 295.5l10.6 9m0 -9l-10.6 9M435.1 279.7l10.6 9m0 -9l-10.6 9M445.2 263.3l10.6 9m0 -9l-10.6 9M455.4 246.9l10.6 9m0 -9l-10.6 9M465.5 232.2l10.6 9m0 -9l-10.6 9M475.6 216.1l10.6 9m0 -9l-10.6 9M485.8 199.5l10.6 9m0 -9l-10.6 9M495.9 185.3l10.6 9m0 -9l-10.6 9M506 171.9l10.6 9m0 -9l-10.6 9M516.2 161.8l10.6 9m0 -9l-10.6 9M526.3 152.4l10.6 9m0 -9l-10.6 9M536.4 144.8l10.6 9m0 -9l-10.6 9M546.6 139l10.6 9m0 -9l-10.6 9M556.7 133.6l10.6 9m0 -9l-10.6 9" stroke="#f58d5a" stroke-width="1.2" fill="none"/>
</g>
<g>
<path d="M105.9 318.9 116.1 320.4 126.2 322 136.3 323.7 146.5 323.7 156.6 324.4 166.7 324 176.9 324.2 187 324.8 197.1 324.6 207.3 324.7 217.4 325 227.6 324.8 237.7 324.9 247.8 324.8 258 324.3 268.1 324.6 278.2 325.3 288.4 325 298.5 324.3 308.6 324.5 318.8 324.7 328.9 324.6 339 324.6 349.2 325.2 359.3 324.9 369.4 324.1 379.6 322.5 389.7 320.2 399.9 318.3 410 314.1 420.1 307.4 430.3 296.2 440.4 279.3 450.5 262 460.7 247.1 470.8 232.2 480.9 213.2 491.1 196.3 501.2 181.3 511.3 169.1 521.5 158.9 531.6 149.6 541.7 142 551.9 136.7 562 131.5" stroke="#f58d5a" stroke-width="1.7" fill="none" stroke-linejoin="round"/>
<path d="M100.6 314.4l10.6 9m0 -9l-10.6 9M110.8 315.9l10.6 9m0 -9l-10.6 9M120.9 317.5l10.6 9m0 -9l-10.6 9M131 319.2l10.6 9m0 -9l-10.6 9M141.2 319.2l10.6 9m0 -9l-10.6 9M151.3 319.9l10.6 9m0 -9l-10.6 9M161.4 319.5l10.6 9m0 -9l-10.6 9M171.6 319.7l10.6 9m0 -9l-10.6 9M181.7 320.3l10.6 9m0 -9l-10.6 9M191.8 320.1l10.6 9m0 -9l-10.6 9M202 320.2l10.6 9m0 -9l-10.6 9M212.1 320.5l10.6 9m0 -9l-10.6 9M222.3 320.3l10.6 9m0 -9l-10.6 9M232.4 320.4l10.6 9m0 -9l-10.6 9M242.5 320.3l10.6 9m0 -9l-10.6 9M252.7 319.8l10.6 9m0 -9l-10.6 9M262.8 320.1l10.6 9m0 -9l-10.6 9M272.9 320.8l10.6 9m0 -9l-10.6 9M283.1 320.5l10.6 9m0 -9l-10.6 9M293.2 319.8l10.6 9m0 -9l-10.6 9M303.3 320l10.6 9m0 -9l-10.6 9M313.5 320.2l10.6 9m0 -9l-10.6 9M323.6 320.1l10.6 9m0 -9l-10.6 9M333.7 320.1l10.6 9m0 -9l-10.6 9M343.9 320.7l10.6 9m0 -9l-10.6 9M354 320.4l10.6 9m0 -9l-10.6 9M364.1 319.6l10.6 9m0 -9l-10.6 9M374.3 318l10.6 9m0 -9l-10.6 9M384.4 315.7l10.6 9m0 -9l-10.6 9M394.6 313.8l10.6 9m0 -9l-10.6 9M404.7 309.6l10.6 9m0 -9l-10.6 9M414.8 302.9l10.6 9m0 -9l-10.6 9M425 291.7l10.6 9m0 -9l-10.6 9M435.1 274.8l10.6 9m0 -9l-10.6 9M445.2 257.5l10.6 9m0 -9l-10.6 9M455.4 242.6l10.6 9m0 -9l-10.6 9M465.5 227.7l10.6 9m0 -9l-10.6 9M475.6 208.7l10.6 9m0 -9l-10.6 9M485.8 191.8l10.6 9m0 -9l-10.6 9M495.9 176.8l10.6 9m0 -9l-10.6 9M506 164.6l10.6 9m0 -9l-10.6 9M516.2 154.4l10.6 9m0 -9l-10.6 9M526.3 145.1l10.6 9m0 -9l-10.6 9M536.4 137.5l10.6 9m0 -9l-10.6 9M546.6 132.2l10.6 9m0 -9l-10.6 9M556.7 127l10.6 9m0 -9l-10.6 9" stroke="#f58d5a" stroke-width="1.2" fill="none"/>
</g>
<g>
<path d="M105.9 318.7 116.1 321.2 126.2 322.1 136.3 323.4 146.5 323.6 156.6 324.5 166.7 323.9 176.9 324.4 187 324.8 197.1 325.2 207.3 324.4 217.4 324.3 227.6 324.9 237.7 325.2 247.8 324.3 258 324.4 268.1 324.8 278.2 325.2 288.4 324.5 298.5 324.3 308.6 325 318.8 324.9 328.9 324.4 339 324.5 349.2 324.4 359.3 324.2 369.4 323.8 379.6 321.7 389.7 320.1 399.9 316.9 410 313.1 420.1 307 430.3 293.5 440.4 276.4 450.5 257.5 460.7 236.8 470.8 216.1 480.9 197.1 491.1 181.7 501.2 165.9 511.3 152.4 521.5 140.9 531.6 131.3 541.7 122.9 551.9 114.5 562 106.9" stroke="#f7a47c" stroke-width="1.7" fill="none" stroke-linejoin="round"/>
<path d="M102.2 318.7a3.7 3.7 0 1 0 7.4 0a3.7 3.7 0 1 0 -7.4 0M112.4 321.2a3.7 3.7 0 1 0 7.4 0a3.7 3.7 0 1 0 -7.4 0M122.5 322.1a3.7 3.7 0 1 0 7.4 0a3.7 3.7 0 1 0 -7.4 0M132.6 323.4a3.7 3.7 0 1 0 7.4 0a3.7 3.7 0 1 0 -7.4 0M142.8 323.6a3.7 3.7 0 1 0 7.4 0a3.7 3.7 0 1 0 -7.4 0M152.9 324.5a3.7 3.7 0 1 0 7.4 0a3.7 3.7 0 1 0 -7.4 0M163 323.9a3.7 3.7 0 1 0 7.4 0a3.7 3.7 0 1 0 -7.4 0M173.2 324.4a3.7 3.7 0 1 0 7.4 0a3.7 3.7 0 1 0 -7.4 0M183.3 324.8a3.7 3.7 0 1 0 7.4 0a3.7 3.7 0 1 0 -7.4 0M193.4 325.2a3.7 3.7 0 1 0 7.4 0a3.7 3.7 0 1 0 -7.4 0M203.6 324.4a3.7 3.7 0 1 0 7.4 0a3.7 3.7 0 1 0 -7.4 0M213.7 324.3a3.7 3.7 0 1 0 7.4 0a3.7 3.7 0 1 0 -7.4 0M223.9 324.9a3.7 3.7 0 1 0 7.4 0a3.7 3.7 0 1 0 -7.4 0M234 325.2a3.7 3.7 0 1 0 7.4 0a3.7 3.7 0 1 0 -7.4 0M244.1 324.3a3.7 3.7 0 1 0 7.4 0a3.7 3.7 0 1 0 -7.4 0M254.3 324.4a3.7 3.7 0 1 0 7.4 0a3.7 3.7 0 1 0 -7.4 0M264.4 324.8a3.7 3.7 0 1 0 7.4 0a3.7 3.7 0 1 0 -7.4 0M274.5 325.2a3.7 3.7 0 1 0 7.4 0a3.7 3.7 0 1 0 -7.4 0M284.7 324.5a3.7 3.7 0 1 0 7.4 0a3.7 3.7 0 1 0 -7.4 0M294.8 324.3a3.7 3.7 0 1 0 7.4 0a3.7 3.7 0 1 0 -7.4 0M304.9 325a3.7 3.7 0 1 0 7.4 0a3.7 3.7 0 1 0 -7.4 0M315.1 324.9a3.7 3.7 0 1 0 7.4 0a3.7 3.7 0 1 0 -7.4 0M325.2 324.4a3.7 3.7 0 1 0 7.4 0a3.7 3.7 0 1 0 -7.4 0M335.3 324.5a3.7 3.7 0 1 0 7.4 0a3.7 3.7 0 1 0 -7.4 0M345.5 324.4a3.7 3.7 0 1 0 7.4 0a3.7 3.7 0 1 0 -7.4 0M355.6 324.2a3.7 3.7 0 1 0 7.4 0a3.7 3.7 0 1 0 -7.4 0M365.7 323.8a3.7 3.7 0 1 0 7.4 0a3.7 3.7 0 1 0 -7.4 0M375.9 321.7a3.7 3.7 0 1 0 7.4 0a3.7 3.7 0 1 0 -7.4 0M386 320.1a3.7 3.7 0 1 0 7.4 0a3.7 3.7 0 1 0 -7.4 0M396.2 316.9a3.7 3.7 0 1 0 7.4 0a3.7 3.7 0 1 0 -7.4 0M406.3 313.1a3.7 3.7 0 1 0 7.4 0a3.7 3.7 0 1 0 -7.4 0M416.4 307a3.7 3.7 0 1 0 7.4 0a3.7 3.7 0 1 0 -7.4 0M426.6 293.5a3.7 3.7 0 1 0 7.4 0a3.7 3.7 0 1 0 -7.4 0M436.7 276.4a3.7 3.7 0 1 0 7.4 0a3.7 3.7 0 1 0 -7.4 0M446.8 257.5a3.7 3.7 0 1 0 7.4 0a3.7 3.7 0 1 0 -7.4 0M457 236.8a3.7 3.7 0 1 0 7.4 0a3.7 3.7 0 1 0 -7.4 0M467.1 216.1a3.7 3.7 0 1 0 7.4 0a3.7 3.7 0 1 0 -7.4 0M477.2 197.1a3.7 3.7 0 1 0 7.4 0a3.7 3.7 0 1 0 -7.4 0M487.4 181.7a3.7 3.7 0 1 0 7.4 0a3.7 3.7 0 1 0 -7.4 0M497.5 165.9a3.7 3.7 0 1 0 7.4 0a3.7 3.7 0 1 0 -7.4 0M507.6 152.4a3.7 3.7 0 1 0 7.4 0a3.7 3.7 0 1 0 -7.4 0M517.8 140.9a3.7 3.7 0 1 0 7.4 0a3.7 3.7 0 1 0 -7.4 0M527.9 131.3a3.7 3.7 0 1 0 7.4 0a3.7 3.7 0 1 0 -7.4 0M538 122.9a3.7 3.7 0 1 0 7.4 0a3.7 3.7 0 1 0 -7.4 0M548.2 114.5a3.7 3.7 0 1 0 7.4 0a3.7 3.7 0 1 0 -7.4 0M558.3 106.9a3.7 3.7 0 1 0 7.4 0a3.7 3.7 0 1 0 -7.4 0" stroke="#f7a47c" stroke-width="1.9" fill="#fce5da"/>
</g>
<g>
<path d="M105.9 318 116.1 321.1 126.2 322.6 136.3 323.6 146.5 323.5 156.6 323.8 166.7 323.9 176.9 324.3 187 324.5 197.1 324.5 207.3 324.8 217.4 324.7 227.6 325.1 237.7 325.3 247.8 324.4 258 324.5 268.1 324.3 278.2 324.5 288.4 324.7 298.5 325.2 308.6 324.4 318.8 324.8 328.9 324.4 339 324.5 349.2 324.5 359.3 324.1 369.4 322.7 379.6 321.8 389.7 319.3 399.9 316 410 311.1 420.1 303.6 430.3 286.7 440.4 269.7 450.5 249.3 460.7 229.2 470.8 208 480.9 190.2 491.1 175.5 501.2 157.9 511.3 146.3 521.5 135.5 531.6 126.3 541.7 117.7 551.9 108.8 562 100.1" stroke="#f58d5a" stroke-width="1.7" fill="none" stroke-linejoin="round"/>
<path d="M102.2 318a3.7 3.7 0 1 0 7.4 0a3.7 3.7 0 1 0 -7.4 0M112.4 321.1a3.7 3.7 0 1 0 7.4 0a3.7 3.7 0 1 0 -7.4 0M122.5 322.6a3.7 3.7 0 1 0 7.4 0a3.7 3.7 0 1 0 -7.4 0M132.6 323.6a3.7 3.7 0 1 0 7.4 0a3.7 3.7 0 1 0 -7.4 0M142.8 323.5a3.7 3.7 0 1 0 7.4 0a3.7 3.7 0 1 0 -7.4 0M152.9 323.8a3.7 3.7 0 1 0 7.4 0a3.7 3.7 0 1 0 -7.4 0M163 323.9a3.7 3.7 0 1 0 7.4 0a3.7 3.7 0 1 0 -7.4 0M173.2 324.3a3.7 3.7 0 1 0 7.4 0a3.7 3.7 0 1 0 -7.4 0M183.3 324.5a3.7 3.7 0 1 0 7.4 0a3.7 3.7 0 1 0 -7.4 0M193.4 324.5a3.7 3.7 0 1 0 7.4 0a3.7 3.7 0 1 0 -7.4 0M203.6 324.8a3.7 3.7 0 1 0 7.4 0a3.7 3.7 0 1 0 -7.4 0M213.7 324.7a3.7 3.7 0 1 0 7.4 0a3.7 3.7 0 1 0 -7.4 0M223.9 325.1a3.7 3.7 0 1 0 7.4 0a3.7 3.7 0 1 0 -7.4 0M234 325.3a3.7 3.7 0 1 0 7.4 0a3.7 3.7 0 1 0 -7.4 0M244.1 324.4a3.7 3.7 0 1 0 7.4 0a3.7 3.7 0 1 0 -7.4 0M254.3 324.5a3.7 3.7 0 1 0 7.4 0a3.7 3.7 0 1 0 -7.4 0M264.4 324.3a3.7 3.7 0 1 0 7.4 0a3.7 3.7 0 1 0 -7.4 0M274.5 324.5a3.7 3.7 0 1 0 7.4 0a3.7 3.7 0 1 0 -7.4 0M284.7 324.7a3.7 3.7 0 1 0 7.4 0a3.7 3.7 0 1 0 -7.4 0M294.8 325.2a3.7 3.7 0 1 0 7.4 0a3.7 3.7 0 1 0 -7.4 0M304.9 324.4a3.7 3.7 0 1 0 7.4 0a3.7 3.7 0 1 0 -7.4 0M315.1 324.8a3.7 3.7 0 1 0 7.4 0a3.7 3.7 0 1 0 -7.4 0M325.2 324.4a3.7 3.7 0 1 0 7.4 0a3.7 3.7 0 1 0 -7.4 0M335.3 324.5a3.7 3.7 0 1 0 7.4 0a3.7 3.7 0 1 0 -7.4 0M345.5 324.5a3.7 3.7 0 1 0 7.4 0a3.7 3.7 0 1 0 -7.4 0M355.6 324.1a3.7 3.7 0 1 0 7.4 0a3.7 3.7 0 1 0 -7.4 0M365.7 322.7a3.7 3.7 0 1 0 7.4 0a3.7 3.7 0 1 0 -7.4 0M375.9 321.8a3.7 3.7 0 1 0 7.4 0a3.7 3.7 0 1 0 -7.4 0M386 319.3a3.7 3.7 0 1 0 7.4 0a3.7 3.7 0 1 0 -7.4 0M396.2 316a3.7 3.7 0 1 0 7.4 0a3.7 3.7 0 1 0 -7.4 0M406.3 311.1a3.7 3.7 0 1 0 7.4 0a3.7 3.7 0 1 0 -7.4 0M416.4 303.6a3.7 3.7 0 1 0 7.4 0a3.7 3.7 0 1 0 -7.4 0M426.6 286.7a3.7 3.7 0 1 0 7.4 0a3.7 3.7 0 1 0 -7.4 0M436.7 269.7a3.7 3.7 0 1 0 7.4 0a3.7 3.7 0 1 0 -7.4 0M446.8 249.3a3.7 3.7 0 1 0 7.4 0a3.7 3.7 0 1 0 -7.4 0M457 229.2a3.7 3.7 0 1 0 7.4 0a3.7 3.7 0 1 0 -7.4 0M467.1 208a3.7 3.7 0 1 0 7.4 0a3.7 3.7 0 1 0 -7.4 0M477.2 190.2a3.7 3.7 0 1 0 7.4 0a3.7 3.7 0 1 0 -7.4 0M487.4 175.5a3.7 3.7 0 1 0 7.4 0a3.7 3.7 0 1 0 -7.4 0M497.5 157.9a3.7 3.7 0 1 0 7.4 0a3.7 3.7 0 1 0 -7.4 0M507.6 146.3a3.7 3.7 0 1 0 7.4 0a3.7 3.7 0 1 0 -7.4 0M517.8 135.5a3.7 3.7 0 1 0 7.4 0a3.7 3.7 0 1 0 -7.4 0M527.9 126.3a3.7 3.7 0 1 0 7.4 0a3.7 3.7 0 1 0 -7.4 0M538 117.7a3.7 3.7 0 1 0 7.4 0a3.7 3.7 0 1 0 -7.4 0M548.2 108.8a3.7 3.7 0 1 0 7.4 0a3.7 3.7 0 1 0 -7.4 0M558.3 100.1a3.7 3.7 0 1 0 7.4 0a3.7 3.7 0 1 0 -7.4 0" stroke="#f58d5a" stroke-width="1.9" fill="#fcdfd0"/>
</g>
<g>
<path d="M105.9 320.5 116.1 322.2 126.2 323 136.3 324.3 146.5 324 156.6 324.1 166.7 324.6 176.9 324.7 187 325 197.1 324.8 207.3 324.7 217.4 324.4 227.6 324.7 237.7 324.8 247.8 325 258 324.5 268.1 325 278.2 325.3 288.4 324.7 298.5 324.8 308.6 324.5 318.8 324.9 328.9 324.6 339 324.9 349.2 324.8 359.3 325.2 369.4 324.8 379.6 325.1 389.7 324.9 399.9 324.7 410 323.5 420.1 323 430.3 321.8 440.4 319.6 450.5 315.4 460.7 311.3 470.8 304.7 480.9 290.9 491.1 273.8 501.2 253.3 511.3 232.7 521.5 212.7 531.6 193 541.7 176.7 551.9 161.1 562 145.9" stroke="#1c9029" stroke-width="1.7" fill="none" stroke-linejoin="round"/>
<path d="M100.6 316l10.6 9m0 -9l-10.6 9M110.8 317.7l10.6 9m0 -9l-10.6 9M120.9 318.5l10.6 9m0 -9l-10.6 9M131 319.8l10.6 9m0 -9l-10.6 9M141.2 319.5l10.6 9m0 -9l-10.6 9M151.3 319.6l10.6 9m0 -9l-10.6 9M161.4 320.1l10.6 9m0 -9l-10.6 9M171.6 320.2l10.6 9m0 -9l-10.6 9M181.7 320.5l10.6 9m0 -9l-10.6 9M191.8 320.3l10.6 9m0 -9l-10.6 9M202 320.2l10.6 9m0 -9l-10.6 9M212.1 319.9l10.6 9m0 -9l-10.6 9M222.3 320.2l10.6 9m0 -9l-10.6 9M232.4 320.3l10.6 9m0 -9l-10.6 9M242.5 320.5l10.6 9m0 -9l-10.6 9M252.7 320l10.6 9m0 -9l-10.6 9M262.8 320.5l10.6 9m0 -9l-10.6 9M272.9 320.8l10.6 9m0 -9l-10.6 9M283.1 320.2l10.6 9m0 -9l-10.6 9M293.2 320.3l10.6 9m0 -9l-10.6 9M303.3 320l10.6 9m0 -9l-10.6 9M313.5 320.4l10.6 9m0 -9l-10.6 9M323.6 320.1l10.6 9m0 -9l-10.6 9M333.7 320.4l10.6 9m0 -9l-10.6 9M343.9 320.3l10.6 9m0 -9l-10.6 9M354 320.7l10.6 9m0 -9l-10.6 9M364.1 320.3l10.6 9m0 -9l-10.6 9M374.3 320.6l10.6 9m0 -9l-10.6 9M384.4 320.4l10.6 9m0 -9l-10.6 9M394.6 320.2l10.6 9m0 -9l-10.6 9M404.7 319l10.6 9m0 -9l-10.6 9M414.8 318.5l10.6 9m0 -9l-10.6 9M425 317.3l10.6 9m0 -9l-10.6 9M435.1 315.1l10.6 9m0 -9l-10.6 9M445.2 310.9l10.6 9m0 -9l-10.6 9M455.4 306.8l10.6 9m0 -9l-10.6 9M465.5 300.2l10.6 9m0 -9l-10.6 9M475.6 286.4l10.6 9m0 -9l-10.6 9M485.8 269.3l10.6 9m0 -9l-10.6 9M495.9 248.8l10.6 9m0 -9l-10.6 9M506 228.2l10.6 9m0 -9l-10.6 9M516.2 208.2l10.6 9m0 -9l-10.6 9M526.3 188.5l10.6 9m0 -9l-10.6 9M536.4 172.2l10.6 9m0 -9l-10.6 9M546.6 156.6l10.6 9m0 -9l-10.6 9M556.7 141.4l10.6 9m0 -9l-10.6 9" stroke="#1c9029" stroke-width="1.2" fill="none"/>
</g>
<g>
<path d="M105.9 321.1 116.1 322.6 126.2 323.3 136.3 324.1 146.5 324.3 156.6 324.8 166.7 324.5 176.9 324.6 187 324.9 197.1 324.4 207.3 325.3 217.4 324.3 227.6 324.9 237.7 325.1 247.8 324.9 258 324.9 268.1 325.3 278.2 324.6 288.4 324.7 298.5 324.7 308.6 324.7 318.8 324.4 328.9 324.8 339 324.7 349.2 324.3 359.3 324.4 369.4 325.1 379.6 325.2 389.7 324.4 399.9 324.2 410 324 420.1 322.9 430.3 321.5 440.4 318.7 450.5 314.5 460.7 309.5 470.8 299.9 480.9 282.1 491.1 263.4 501.2 242.5 511.3 223.1 521.5 202.6 531.6 183.3 541.7 167.1 551.9 154.3 562 140.8" stroke="#1c9029" stroke-width="1.7" fill="none" stroke-linejoin="round"/>
<path d="M100.6 316.6l10.6 9m0 -9l-10.6 9M110.8 318.1l10.6 9m0 -9l-10.6 9M120.9 318.8l10.6 9m0 -9l-10.6 9M131 319.6l10.6 9m0 -9l-10.6 9M141.2 319.8l10.6 9m0 -9l-10.6 9M151.3 320.3l10.6 9m0 -9l-10.6 9M161.4 320l10.6 9m0 -9l-10.6 9M171.6 320.1l10.6 9m0 -9l-10.6 9M181.7 320.4l10.6 9m0 -9l-10.6 9M191.8 319.9l10.6 9m0 -9l-10.6 9M202 320.8l10.6 9m0 -9l-10.6 9M212.1 319.8l10.6 9m0 -9l-10.6 9M222.3 320.4l10.6 9m0 -9l-10.6 9M232.4 320.6l10.6 9m0 -9l-10.6 9M242.5 320.4l10.6 9m0 -9l-10.6 9M252.7 320.4l10.6 9m0 -9l-10.6 9M262.8 320.8l10.6 9m0 -9l-10.6 9M272.9 320.1l10.6 9m0 -9l-10.6 9M283.1 320.2l10.6 9m0 -9l-10.6 9M293.2 320.2l10.6 9m0 -9l-10.6 9M303.3 320.2l10.6 9m0 -9l-10.6 9M313.5 319.9l10.6 9m0 -9l-10.6 9M323.6 320.3l10.6 9m0 -9l-10.6 9M333.7 320.2l10.6 9m0 -9l-10.6 9M343.9 319.8l10.6 9m0 -9l-10.6 9M354 319.9l10.6 9m0 -9l-10.6 9M364.1 320.6l10.6 9m0 -9l-10.6 9M374.3 320.7l10.6 9m0 -9l-10.6 9M384.4 319.9l10.6 9m0 -9l-10.6 9M394.6 319.7l10.6 9m0 -9l-10.6 9M404.7 319.5l10.6 9m0 -9l-10.6 9M414.8 318.4l10.6 9m0 -9l-10.6 9M425 317l10.6 9m0 -9l-10.6 9M435.1 314.2l10.6 9m0 -9l-10.6 9M445.2 310l10.6 9m0 -9l-10.6 9M455.4 305l10.6 9m0 -9l-10.6 9M465.5 295.4l10.6 9m0 -9l-10.6 9M475.6 277.6l10.6 9m0 -9l-10.6 9M485.8 258.9l10.6 9m0 -9l-10.6 9M495.9 238l10.6 9m0 -9l-10.6 9M506 218.6l10.6 9m0 -9l-10.6 9M516.2 198.1l10.6 9m0 -9l-10.6 9M526.3 178.8l10.6 9m0 -9l-10.6 9M536.4 162.6l10.6 9m0 -9l-10.6 9M546.6 149.8l10.6 9m0 -9l-10.6 9M556.7 136.3l10.6 9m0 -9l-10.6 9" stroke="#1c9029" stroke-width="1.2" fill="none"/>
</g>
<g>
<path d="M105.9 320.6 116.1 322.6 126.2 323.6 136.3 323.9 146.5 323.9 156.6 324.6 166.7 324.1 176.9 324.5 187 324.7 197.1 324.6 207.3 324.7 217.4 324.8 227.6 324.5 237.7 324.6 247.8 324.8 258 325.3 268.1 325.1 278.2 325.2 288.4 324.4 298.5 324.3 308.6 324.9 318.8 324.5 328.9 325.3 339 324.4 349.2 325.3 359.3 324.5 369.4 324.6 379.6 324.4 389.7 324.5 399.9 324.4 410 323.9 420.1 322.5 430.3 319.1 440.4 313.6 450.5 305.5 460.7 292.8 470.8 277.3 480.9 256.7 491.1 234.2 501.2 212.7 511.3 194.3 521.5 176.7 531.6 162.8 541.7 149.7 551.9 138 562 129.3" stroke="#1c9029" stroke-width="1.7" fill="none" stroke-linejoin="round"/>
<path d="M102.2 320.6a3.7 3.7 0 1 0 7.4 0a3.7 3.7 0 1 0 -7.4 0M112.4 322.6a3.7 3.7 0 1 0 7.4 0a3.7 3.7 0 1 0 -7.4 0M122.5 323.6a3.7 3.7 0 1 0 7.4 0a3.7 3.7 0 1 0 -7.4 0M132.6 323.9a3.7 3.7 0 1 0 7.4 0a3.7 3.7 0 1 0 -7.4 0M142.8 323.9a3.7 3.7 0 1 0 7.4 0a3.7 3.7 0 1 0 -7.4 0M152.9 324.6a3.7 3.7 0 1 0 7.4 0a3.7 3.7 0 1 0 -7.4 0M163 324.1a3.7 3.7 0 1 0 7.4 0a3.7 3.7 0 1 0 -7.4 0M173.2 324.5a3.7 3.7 0 1 0 7.4 0a3.7 3.7 0 1 0 -7.4 0M183.3 324.7a3.7 3.7 0 1 0 7.4 0a3.7 3.7 0 1 0 -7.4 0M193.4 324.6a3.7 3.7 0 1 0 7.4 0a3.7 3.7 0 1 0 -7.4 0M203.6 324.7a3.7 3.7 0 1 0 7.4 0a3.7 3.7 0 1 0 -7.4 0M213.7 324.8a3.7 3.7 0 1 0 7.4 0a3.7 3.7 0 1 0 -7.4 0M223.9 324.5a3.7 3.7 0 1 0 7.4 0a3.7 3.7 0 1 0 -7.4 0M234 324.6a3.7 3.7 0 1 0 7.4 0a3.7 3.7 0 1 0 -7.4 0M244.1 324.8a3.7 3.7 0 1 0 7.4 0a3.7 3.7 0 1 0 -7.4 0M254.3 325.3a3.7 3.7 0 1 0 7.4 0a3.7 3.7 0 1 0 -7.4 0M264.4 325.1a3.7 3.7 0 1 0 7.4 0a3.7 3.7 0 1 0 -7.4 0M274.5 325.2a3.7 3.7 0 1 0 7.4 0a3.7 3.7 0 1 0 -7.4 0M284.7 324.4a3.7 3.7 0 1 0 7.4 0a3.7 3.7 0 1 0 -7.4 0M294.8 324.3a3.7 3.7 0 1 0 7.4 0a3.7 3.7 0 1 0 -7.4 0M304.9 324.9a3.7 3.7 0 1 0 7.4 0a3.7 3.7 0 1 0 -7.4 0M315.1 324.5a3.7 3.7 0 1 0 7.4 0a3.7 3.7 0 1 0 -7.4 0M325.2 325.3a3.7 3.7 0 1 0 7.4 0a3.7 3.7 0 1 0 -7.4 0M335.3 324.4a3.7 3.7 0 1 0 7.4 0a3.7 3.7 0 1 0 -7.4 0M345.5 325.3a3.7 3.7 0 1 0 7.4 0a3.7 3.7 0 1 0 -7.4 0M355.6 324.5a3.7 3.7 0 1 0 7.4 0a3.7 3.7 0 1 0 -7.4 0M365.7 324.6a3.7 3.7 0 1 0 7.4 0a3.7 3.7 0 1 0 -7.4 0M375.9 324.4a3.7 3.7 0 1 0 7.4 0a3.7 3.7 0 1 0 -7.4 0M386 324.5a3.7 3.7 0 1 0 7.4 0a3.7 3.7 0 1 0 -7.4 0M396.2 324.4a3.7 3.7 0 1 0 7.4 0a3.7 3.7 0 1 0 -7.4 0M406.3 323.9a3.7 3.7 0 1 0 7.4 0a3.7 3.7 0 1 0 -7.4 0M416.4 322.5a3.7 3.7 0 1 0 7.4 0a3.7 3.7 0 1 0 -7.4 0M426.6 319.1a3.7 3.7 0 1 0 7.4 0a3.7 3.7 0 1 0 -7.4 0M436.7 313.6a3.7 3.7 0 1 0 7.4 0a3.7 3.7 0 1 0 -7.4 0M446.8 305.5a3.7 3.7 0 1 0 7.4 0a3.7 3.7 0 1 0 -7.4 0M457 292.8a3.7 3.7 0 1 0 7.4 0a3.7 3.7 0 1 0 -7.4 0M467.1 277.3a3.7 3.7 0 1 0 7.4 0a3.7 3.7 0 1 0 -7.4 0M477.2 256.7a3.7 3.7 0 1 0 7.4 0a3.7 3.7 0 1 0 -7.4 0M487.4 234.2a3.7 3.7 0 1 0 7.4 0a3.7 3.7 0 1 0 -7.4 0M497.5 212.7a3.7 3.7 0 1 0 7.4 0a3.7 3.7 0 1 0 -7.4 0M507.6 194.3a3.7 3.7 0 1 0 7.4 0a3.7 3.7 0 1 0 -7.4 0M517.8 176.7a3.7 3.7 0 1 0 7.4 0a3.7 3.7 0 1 0 -7.4 0M527.9 162.8a3.7 3.7 0 1 0 7.4 0a3.7 3.7 0 1 0 -7.4 0M538 149.7a3.7 3.7 0 1 0 7.4 0a3.7 3.7 0 1 0 -7.4 0M548.2 138a3.7 3.7 0 1 0 7.4 0a3.7 3.7 0 1 0 -7.4 0M558.3 129.3a3.7 3.7 0 1 0 7.4 0a3.7 3.7 0 1 0 -7.4 0" stroke="#1c9029" stroke-width="1.9" fill="#82c189"/>
</g>
<g>
<path d="M105.9 320.4 116.1 322.6 126.2 322.9 136.3 323.7 146.5 323.7 156.6 324.3 166.7 324.6 176.9 325.1 187 324.8 197.1 324.2 207.3 324.2 217.4 325 227.6 324.5 237.7 325.1 247.8 324.7 258 324.9 268.1 325.1 278.2 324.9 288.4 324.6 298.5 324.6 308.6 325 318.8 325.2 328.9 325.3 339 324.4 349.2 324.8 359.3 324.8 369.4 324.9 379.6 325.2 389.7 325.1 399.9 323.7 410 323.2 420.1 321.7 430.3 317.7 440.4 311.5 450.5 299.8 460.7 287.1 470.8 269.5 480.9 247.7 491.1 226 501.2 205.9 511.3 187.4 521.5 170.2 531.6 156.8 541.7 144.2 551.9 133 562 123.2" stroke="#1c9029" stroke-width="1.7" fill="none" stroke-linejoin="round"/>
<path d="M102.2 320.4a3.7 3.7 0 1 0 7.4 0a3.7 3.7 0 1 0 -7.4 0M112.4 322.6a3.7 3.7 0 1 0 7.4 0a3.7 3.7 0 1 0 -7.4 0M122.5 322.9a3.7 3.7 0 1 0 7.4 0a3.7 3.7 0 1 0 -7.4 0M132.6 323.7a3.7 3.7 0 1 0 7.4 0a3.7 3.7 0 1 0 -7.4 0M142.8 323.7a3.7 3.7 0 1 0 7.4 0a3.7 3.7 0 1 0 -7.4 0M152.9 324.3a3.7 3.7 0 1 0 7.4 0a3.7 3.7 0 1 0 -7.4 0M163 324.6a3.7 3.7 0 1 0 7.4 0a3.7 3.7 0 1 0 -7.4 0M173.2 325.1a3.7 3.7 0 1 0 7.4 0a3.7 3.7 0 1 0 -7.4 0M183.3 324.8a3.7 3.7 0 1 0 7.4 0a3.7 3.7 0 1 0 -7.4 0M193.4 324.2a3.7 3.7 0 1 0 7.4 0a3.7 3.7 0 1 0 -7.4 0M203.6 324.2a3.7 3.7 0 1 0 7.4 0a3.7 3.7 0 1 0 -7.4 0M213.7 325a3.7 3.7 0 1 0 7.4 0a3.7 3.7 0 1 0 -7.4 0M223.9 324.5a3.7 3.7 0 1 0 7.4 0a3.7 3.7 0 1 0 -7.4 0M234 325.1a3.7 3.7 0 1 0 7.4 0a3.7 3.7 0 1 0 -7.4 0M244.1 324.7a3.7 3.7 0 1 0 7.4 0a3.7 3.7 0 1 0 -7.4 0M254.3 324.9a3.7 3.7 0 1 0 7.4 0a3.7 3.7 0 1 0 -7.4 0M264.4 325.1a3.7 3.7 0 1 0 7.4 0a3.7 3.7 0 1 0 -7.4 0M274.5 324.9a3.7 3.7 0 1 0 7.4 0a3.7 3.7 0 1 0 -7.4 0M284.7 324.6a3.7 3.7 0 1 0 7.4 0a3.7 3.7 0 1 0 -7.4 0M294.8 324.6a3.7 3.7 0 1 0 7.4 0a3.7 3.7 0 1 0 -7.4 0M304.9 325a3.7 3.7 0 1 0 7.4 0a3.7 3.7 0 1 0 -7.4 0M315.1 325.2a3.7 3.7 0 1 0 7.4 0a3.7 3.7 0 1 0 -7.4 0M325.2 325.3a3.7 3.7 0 1 0 7.4 0a3.7 3.7 0 1 0 -7.4 0M335.3 324.4a3.7 3.7 0 1 0 7.4 0a3.7 3.7 0 1 0 -7.4 0M345.5 324.8a3.7 3.7 0 1 0 7.4 0a3.7 3.7 0 1 0 -7.4 0M355.6 324.8a3.7 3.7 0 1 0 7.4 0a3.7 3.7 0 1 0 -7.4 0M365.7 324.9a3.7 3.7 0 1 0 7.4 0a3.7 3.7 0 1 0 -7.4 0M375.9 325.2a3.7 3.7 0 1 0 7.4 0a3.7 3.7 0 1 0 -7.4 0M386 325.1a3.7 3.7 0 1 0 7.4 0a3.7 3.7 0 1 0 -7.4 0M396.2 323.7a3.7 3.7 0 1 0 7.4 0a3.7 3.7 0 1 0 -7.4 0M406.3 323.2a3.7 3.7 0 1 0 7.4 0a3.7 3.7 0 1 0 -7.4 0M416.4 321.7a3.7 3.7 0 1 0 7.4 0a3.7 3.7 0 1 0 -7.4 0M426.6 317.7a3.7 3.7 0 1 0 7.4 0a3.7 3.7 0 1 0 -7.4 0M436.7 311.5a3.7 3.7 0 1 0 7.4 0a3.7 3.7 0 1 0 -7.4 0M446.8 299.8a3.7 3.7 0 1 0 7.4 0a3.7 3.7 0 1 0 -7.4 0M457 287.1a3.7 3.7 0 1 0 7.4 0a3.7 3.7 0 1 0 -7.4 0M467.1 269.5a3.7 3.7 0 1 0 7.4 0a3.7 3.7 0 1 0 -7.4 0M477.2 247.7a3.7 3.7 0 1 0 7.4 0a3.7 3.7 0 1 0 -7.4 0M487.4 226a3.7 3.7 0 1 0 7.4 0a3.7 3.7 0 1 0 -7.4 0M497.5 205.9a3.7 3.7 0 1 0 7.4 0a3.7 3.7 0 1 0 -7.4 0M507.6 187.4a3.7 3.7 0 1 0 7.4 0a3.7 3.7 0 1 0 -7.4 0M517.8 170.2a3.7 3.7 0 1 0 7.4 0a3.7 3.7 0 1 0 -7.4 0M527.9 156.8a3.7 3.7 0 1 0 7.4 0a3.7 3.7 0 1 0 -7.4 0M538 144.2a3.7 3.7 0 1 0 7.4 0a3.7 3.7 0 1 0 -7.4 0M548.2 133a3.7 3.7 0 1 0 7.4 0a3.7 3.7 0 1 0 -7.4 0M558.3 123.2a3.7 3.7 0 1 0 7.4 0a3.7 3.7 0 1 0 -7.4 0" stroke="#1c9029" stroke-width="1.9" fill="#82c189"/>
</g>
<path d="M105.9 306.3H562" stroke="#982430" stroke-width="2.4" fill="none"/>
</g>
<text x="775.6" y="26.4" font-size="20" font-weight="bold" text-anchor="start" fill="#111" textLength="459.9" lengthAdjust="spacingAndGlyphs">Omicron-based primers: Omicron vs. B.1.1.7</text>
<rect x="775.6" y="29.2" width="459.9" height="1.6" fill="#333"/>
<text x="997.3" y="53.8" font-size="13.9" font-weight="bold" text-anchor="start" fill="#2a2a2a" textLength="107.5" lengthAdjust="spacingAndGlyphs" stroke="#2a2a2a" stroke-width="0.25" letter-spacing="0.8">Amplification</text>
<path d="M938.1 73.3V325.6M1039.3 73.3V325.6M1140.5 73.3V325.6M1241.6 73.3V325.6" stroke="#8c8c8c" stroke-width="2.1" stroke-dasharray="0 7" stroke-linecap="round" fill="none"/>
<path d="M844 319.6H1322.3M844 276.3H1322.3M844 232.9H1322.3M844 189.6H1322.3M844 146.2H1322.3M844 102.9H1322.3" stroke="#8c8c8c" stroke-width="2.1" stroke-dasharray="0 7.9" stroke-linecap="round" fill="none"/>
<path d="M831 319.6H842M1318.3 319.6H1325.3M834.5 310.9H839.5M1322.3 310.9H1325.3M834.5 302.3H839.5M1322.3 302.3H1325.3M834.5 293.6H839.5M1322.3 293.6H1325.3M834.5 284.9H839.5M1322.3 284.9H1325.3M831 276.3H842M1318.3 276.3H1325.3M834.5 267.6H839.5M1322.3 267.6H1325.3M834.5 258.9H839.5M1322.3 258.9H1325.3M834.5 250.3H839.5M1322.3 250.3H1325.3M834.5 241.6H839.5M1322.3 241.6H1325.3M831 232.9H842M1318.3 232.9H1325.3M834.5 224.3H839.5M1322.3 224.3H1325.3M834.5 215.6H839.5M1322.3 215.6H1325.3M834.5 206.9H839.5M1322.3 206.9H1325.3M834.5 198.2H839.5M1322.3 198.2H1325.3M831 189.6H842M1318.3 189.6H1325.3M834.5 180.9H839.5M1322.3 180.9H1325.3M834.5 172.2H839.5M1322.3 172.2H1325.3M834.5 163.6H839.5M1322.3 163.6H1325.3M834.5 154.9H839.5M1322.3 154.9H1325.3M831 146.2H842M1318.3 146.2H1325.3M834.5 137.6H839.5M1322.3 137.6H1325.3M834.5 128.9H839.5M1322.3 128.9H1325.3M834.5 120.2H839.5M1322.3 120.2H1325.3M834.5 111.6H839.5M1322.3 111.6H1325.3M831 102.9H842M1318.3 102.9H1325.3M834.5 94.2H839.5M1322.3 94.2H1325.3M834.5 85.6H839.5M1322.3 85.6H1325.3M834.5 76.9H839.5M1322.3 76.9H1325.3M857.2 326.6V331.1M857.2 68.3V71.3M877.5 326.6V331.1M877.5 68.3V71.3M897.7 326.6V331.1M897.7 68.3V71.3M917.9 326.6V331.1M917.9 68.3V71.3M938.1 324.6V333.6M938.1 68.3V73.3M958.4 326.6V331.1M958.4 68.3V71.3M978.6 326.6V331.1M978.6 68.3V71.3M998.8 326.6V331.1M998.8 68.3V71.3M1019.1 326.6V331.1M1019.1 68.3V71.3M1039.3 324.6V333.6M1039.3 68.3V73.3M1059.5 326.6V331.1M1059.5 68.3V71.3M1079.8 326.6V331.1M1079.8 68.3V71.3M1100 326.6V331.1M1100 68.3V71.3M1120.2 326.6V331.1M1120.2 68.3V71.3M1140.5 324.6V333.6M1140.5 68.3V73.3M1160.7 326.6V331.1M1160.7 68.3V71.3M1180.9 326.6V331.1M1180.9 68.3V71.3M1201.1 326.6V331.1M1201.1 68.3V71.3M1221.4 326.6V331.1M1221.4 68.3V71.3M1241.6 324.6V333.6M1241.6 68.3V73.3M1261.8 326.6V331.1M1261.8 68.3V71.3M1282.1 326.6V331.1M1282.1 68.3V71.3M1302.3 326.6V331.1M1302.3 68.3V71.3M1322.5 326.6V331.1M1322.5 68.3V71.3" stroke="#111" stroke-width="1.6" fill="none"/>
<rect x="837" y="68.3" width="488.3" height="260.3" fill="none" stroke="#222" stroke-width="1.8"/>
<text x="821.6" y="322.8" font-size="12.8" font-weight="normal" text-anchor="end" fill="#3a3a3a" textLength="7.5" lengthAdjust="spacingAndGlyphs" stroke="#3a3a3a" stroke-width="0.35">0</text>
<text x="821.6" y="279.5" font-size="12.8" font-weight="normal" text-anchor="end" fill="#3a3a3a" textLength="30.2" lengthAdjust="spacingAndGlyphs" stroke="#3a3a3a" stroke-width="0.35">1000</text>
<text x="821.6" y="236.1" font-size="12.8" font-weight="normal" text-anchor="end" fill="#3a3a3a" textLength="30.2" lengthAdjust="spacingAndGlyphs" stroke="#3a3a3a" stroke-width="0.35">2000</text>
<text x="821.6" y="192.8" font-size="12.8" font-weight="normal" text-anchor="end" fill="#3a3a3a" textLength="30.2" lengthAdjust="spacingAndGlyphs" stroke="#3a3a3a" stroke-width="0.35">3000</text>
<text x="821.6" y="149.4" font-size="12.8" font-weight="normal" text-anchor="end" fill="#3a3a3a" textLength="30.2" lengthAdjust="spacingAndGlyphs" stroke="#3a3a3a" stroke-width="0.35">4000</text>
<text x="821.6" y="106.1" font-size="12.8" font-weight="normal" text-anchor="end" fill="#3a3a3a" textLength="30.2" lengthAdjust="spacingAndGlyphs" stroke="#3a3a3a" stroke-width="0.35">5000</text>
<text x="837" y="349" font-size="12.8" font-weight="normal" text-anchor="middle" fill="#3a3a3a" textLength="7.5" lengthAdjust="spacingAndGlyphs" stroke="#3a3a3a" stroke-width="0.35">0</text>
<text x="938.1" y="349" font-size="12.8" font-weight="normal" text-anchor="middle" fill="#3a3a3a" textLength="15.1" lengthAdjust="spacingAndGlyphs" stroke="#3a3a3a" stroke-width="0.35">10</text>
<text x="1039.3" y="349" font-size="12.8" font-weight="normal" text-anchor="middle" fill="#3a3a3a" textLength="15.1" lengthAdjust="spacingAndGlyphs" stroke="#3a3a3a" stroke-width="0.35">20</text>
<text x="1140.5" y="349" font-size="12.8" font-weight="normal" text-anchor="middle" fill="#3a3a3a" textLength="15.1" lengthAdjust="spacingAndGlyphs" stroke="#3a3a3a" stroke-width="0.35">30</text>
<text x="1241.6" y="349" font-size="12.8" font-weight="normal" text-anchor="middle" fill="#3a3a3a" textLength="15.1" lengthAdjust="spacingAndGlyphs" stroke="#3a3a3a" stroke-width="0.35">40</text>
<text x="1080.4" y="368.8" font-size="12" font-weight="bold" text-anchor="middle" fill="#222" textLength="45.4" lengthAdjust="spacingAndGlyphs" stroke="#222" stroke-width="0.25" letter-spacing="0.9">Cycles</text>
<text x="0" y="0" font-size="14.2" font-weight="bold" fill="#222" stroke="#222" stroke-width="0.4" text-anchor="middle" textLength="26.6" lengthAdjust="spacingAndGlyphs" transform="translate(778.4 199.3) rotate(-90)">RFU</text>
<clipPath id="cp2"><rect x="837" y="68.3" width="488.3" height="260.3"/></clipPath>
<g clip-path="url(#cp2)">
<g>
<path d="M847.1 321.8 857.2 321 867.3 320.1 877.5 320.4 887.6 319.5 897.7 320 907.8 320.2 917.9 319.7 928 320 938.1 320.1 948.3 319.8 958.4 319.7 968.5 319.9 978.6 319.2 988.7 319.8 998.8 319.4 1009 319.8 1019.1 320 1029.2 319.7 1039.3 319.4 1049.4 319.6 1059.5 319.5 1069.6 320 1079.8 320 1089.9 320 1100 319.6 1110.1 319.2 1120.2 319.7 1130.3 319.3 1140.5 320 1150.6 319.9 1160.7 319.4 1170.8 319.3 1180.9 319.3 1191 320 1201.1 319.6 1211.3 319.9 1221.4 319.3 1231.5 319.4 1241.6 319 1251.7 318.7 1261.8 318.3 1271.9 318.6 1282.1 317.7 1292.2 318.1 1302.3 317" stroke="#3ce4ef" stroke-width="1.7" fill="none" stroke-linejoin="round"/>
<path d="M841.8 317.3l10.6 9m0 -9l-10.6 9M851.9 316.5l10.6 9m0 -9l-10.6 9M862 315.6l10.6 9m0 -9l-10.6 9M872.2 315.9l10.6 9m0 -9l-10.6 9M882.3 315l10.6 9m0 -9l-10.6 9M892.4 315.5l10.6 9m0 -9l-10.6 9M902.5 315.7l10.6 9m0 -9l-10.6 9M912.6 315.2l10.6 9m0 -9l-10.6 9M922.7 315.5l10.6 9m0 -9l-10.6 9M932.9 315.6l10.6 9m0 -9l-10.6 9M943 315.3l10.6 9m0 -9l-10.6 9M953.1 315.2l10.6 9m0 -9l-10.6 9M963.2 315.4l10.6 9m0 -9l-10.6 9M973.3 314.7l10.6 9m0 -9l-10.6 9M983.4 315.3l10.6 9m0 -9l-10.6 9M993.5 314.9l10.6 9m0 -9l-10.6 9M1003.7 315.3l10.6 9m0 -9l-10.6 9M1013.8 315.5l10.6 9m0 -9l-10.6 9M1023.9 315.2l10.6 9m0 -9l-10.6 9M1034 314.9l10.6 9m0 -9l-10.6 9M1044.1 315.1l10.6 9m0 -9l-10.6 9M1054.2 315l10.6 9m0 -9l-10.6 9M1064.3 315.5l10.6 9m0 -9l-10.6 9M1074.5 315.5l10.6 9m0 -9l-10.6 9M1084.6 315.5l10.6 9m0 -9l-10.6 9M1094.7 315.1l10.6 9m0 -9l-10.6 9M1104.8 314.7l10.6 9m0 -9l-10.6 9M1114.9 315.2l10.6 9m0 -9l-10.6 9M1125 314.8l10.6 9m0 -9l-10.6 9M1135.2 315.5l10.6 9m0 -9l-10.6 9M1145.3 315.4l10.6 9m0 -9l-10.6 9M1155.4 314.9l10.6 9m0 -9l-10.6 9M1165.5 314.8l10.6 9m0 -9l-10.6 9M1175.6 314.8l10.6 9m0 -9l-10.6 9M1185.7 315.5l10.6 9m0 -9l-10.6 9M1195.8 315.1l10.6 9m0 -9l-10.6 9M1206 315.4l10.6 9m0 -9l-10.6 9M1216.1 314.8l10.6 9m0 -9l-10.6 9M1226.2 314.9l10.6 9m0 -9l-10.6 9M1236.3 314.5l10.6 9m0 -9l-10.6 9M1246.4 314.2l10.6 9m0 -9l-10.6 9M1256.5 313.8l10.6 9m0 -9l-10.6 9M1266.6 314.1l10.6 9m0 -9l-10.6 9M1276.8 313.2l10.6 9m0 -9l-10.6 9M1286.9 313.6l10.6 9m0 -9l-10.6 9M1297 312.5l10.6 9m0 -9l-10.6 9" stroke="#3ce4ef" stroke-width="1.2" fill="none"/>
</g>
<g>
<path d="M847.1 321.8 857.2 320.9 867.3 320.8 877.5 320.3 887.6 319.6 897.7 319.6 907.8 319.7 917.9 319.4 928 319.7 938.1 319.2 948.3 319.5 958.4 320 968.5 319.5 978.6 319.6 988.7 319.6 998.8 319.9 1009 319.4 1019.1 319.9 1029.2 319.8 1039.3 319.9 1049.4 319.8 1059.5 319.9 1069.6 319.3 1079.8 319.4 1089.9 320.1 1100 319.5 1110.1 320 1120.2 319.5 1130.3 319.3 1140.5 318.5 1150.6 317.6 1160.7 316.9 1170.8 316.2 1180.9 315.5 1191 314.4 1201.1 312.4 1211.3 310.7 1221.4 307.5 1231.5 300.6 1241.6 287.1 1251.7 272.1 1261.8 254.6 1271.9 236.7 1282.1 215.6 1292.2 196.1 1302.3 178.6" stroke="#3ce4ef" stroke-width="1.7" fill="none" stroke-linejoin="round"/>
<path d="M843.4 321.8a3.7 3.7 0 1 0 7.4 0a3.7 3.7 0 1 0 -7.4 0M853.5 320.9a3.7 3.7 0 1 0 7.4 0a3.7 3.7 0 1 0 -7.4 0M863.6 320.8a3.7 3.7 0 1 0 7.4 0a3.7 3.7 0 1 0 -7.4 0M873.8 320.3a3.7 3.7 0 1 0 7.4 0a3.7 3.7 0 1 0 -7.4 0M883.9 319.6a3.7 3.7 0 1 0 7.4 0a3.7 3.7 0 1 0 -7.4 0M894 319.6a3.7 3.7 0 1 0 7.4 0a3.7 3.7 0 1 0 -7.4 0M904.1 319.7a3.7 3.7 0 1 0 7.4 0a3.7 3.7 0 1 0 -7.4 0M914.2 319.4a3.7 3.7 0 1 0 7.4 0a3.7 3.7 0 1 0 -7.4 0M924.3 319.7a3.7 3.7 0 1 0 7.4 0a3.7 3.7 0 1 0 -7.4 0M934.4 319.2a3.7 3.7 0 1 0 7.4 0a3.7 3.7 0 1 0 -7.4 0M944.6 319.5a3.7 3.7 0 1 0 7.4 0a3.7 3.7 0 1 0 -7.4 0M954.7 320a3.7 3.7 0 1 0 7.4 0a3.7 3.7 0 1 0 -7.4 0M964.8 319.5a3.7 3.7 0 1 0 7.4 0a3.7 3.7 0 1 0 -7.4 0M974.9 319.6a3.7 3.7 0 1 0 7.4 0a3.7 3.7 0 1 0 -7.4 0M985 319.6a3.7 3.7 0 1 0 7.4 0a3.7 3.7 0 1 0 -7.4 0M995.1 319.9a3.7 3.7 0 1 0 7.4 0a3.7 3.7 0 1 0 -7.4 0M1005.3 319.4a3.7 3.7 0 1 0 7.4 0a3.7 3.7 0 1 0 -7.4 0M1015.4 319.9a3.7 3.7 0 1 0 7.4 0a3.7 3.7 0 1 0 -7.4 0M1025.5 319.8a3.7 3.7 0 1 0 7.4 0a3.7 3.7 0 1 0 -7.4 0M1035.6 319.9a3.7 3.7 0 1 0 7.4 0a3.7 3.7 0 1 0 -7.4 0M1045.7 319.8a3.7 3.7 0 1 0 7.4 0a3.7 3.7 0 1 0 -7.4 0M1055.8 319.9a3.7 3.7 0 1 0 7.4 0a3.7 3.7 0 1 0 -7.4 0M1065.9 319.3a3.7 3.7 0 1 0 7.4 0a3.7 3.7 0 1 0 -7.4 0M1076.1 319.4a3.7 3.7 0 1 0 7.4 0a3.7 3.7 0 1 0 -7.4 0M1086.2 320.1a3.7 3.7 0 1 0 7.4 0a3.7 3.7 0 1 0 -7.4 0M1096.3 319.5a3.7 3.7 0 1 0 7.4 0a3.7 3.7 0 1 0 -7.4 0M1106.4 320a3.7 3.7 0 1 0 7.4 0a3.7 3.7 0 1 0 -7.4 0M1116.5 319.5a3.7 3.7 0 1 0 7.4 0a3.7 3.7 0 1 0 -7.4 0M1126.6 319.3a3.7 3.7 0 1 0 7.4 0a3.7 3.7 0 1 0 -7.4 0M1136.8 318.5a3.7 3.7 0 1 0 7.4 0a3.7 3.7 0 1 0 -7.4 0M1146.9 317.6a3.7 3.7 0 1 0 7.4 0a3.7 3.7 0 1 0 -7.4 0M1157 316.9a3.7 3.7 0 1 0 7.4 0a3.7 3.7 0 1 0 -7.4 0M1167.1 316.2a3.7 3.7 0 1 0 7.4 0a3.7 3.7 0 1 0 -7.4 0M1177.2 315.5a3.7 3.7 0 1 0 7.4 0a3.7 3.7 0 1 0 -7.4 0M1187.3 314.4a3.7 3.7 0 1 0 7.4 0a3.7 3.7 0 1 0 -7.4 0M1197.4 312.4a3.7 3.7 0 1 0 7.4 0a3.7 3.7 0 1 0 -7.4 0M1207.6 310.7a3.7 3.7 0 1 0 7.4 0a3.7 3.7 0 1 0 -7.4 0M1217.7 307.5a3.7 3.7 0 1 0 7.4 0a3.7 3.7 0 1 0 -7.4 0M1227.8 300.6a3.7 3.7 0 1 0 7.4 0a3.7 3.7 0 1 0 -7.4 0M1237.9 287.1a3.7 3.7 0 1 0 7.4 0a3.7 3.7 0 1 0 -7.4 0M1248 272.1a3.7 3.7 0 1 0 7.4 0a3.7 3.7 0 1 0 -7.4 0M1258.1 254.6a3.7 3.7 0 1 0 7.4 0a3.7 3.7 0 1 0 -7.4 0M1268.2 236.7a3.7 3.7 0 1 0 7.4 0a3.7 3.7 0 1 0 -7.4 0M1278.4 215.6a3.7 3.7 0 1 0 7.4 0a3.7 3.7 0 1 0 -7.4 0M1288.5 196.1a3.7 3.7 0 1 0 7.4 0a3.7 3.7 0 1 0 -7.4 0M1298.6 178.6a3.7 3.7 0 1 0 7.4 0a3.7 3.7 0 1 0 -7.4 0" stroke="#3ce4ef" stroke-width="1.9" fill="#a7f2f7"/>
</g>
<g>
<path d="M847.1 321.1 857.2 320.5 867.3 320.4 877.5 320.4 887.6 319.7 897.7 319.3 907.8 319.8 917.9 319.3 928 320.1 938.1 319.6 948.3 319.9 958.4 319.6 968.5 319.5 978.6 319.2 988.7 319.6 998.8 319.2 1009 319.8 1019.1 320 1029.2 319.6 1039.3 319.4 1049.4 319.4 1059.5 320.1 1069.6 319.9 1079.8 319.9 1089.9 319.6 1100 319.2 1110.1 319.8 1120.2 320.1 1130.3 318.7 1140.5 317.9 1150.6 317.4 1160.7 317.3 1170.8 315.9 1180.9 314.7 1191 312.5 1201.1 311.5 1211.3 309.6 1221.4 305.2 1231.5 286.5 1241.6 262 1251.7 240.7 1261.8 218.6 1271.9 193.2 1282.1 170.8 1292.2 150.2 1302.3 126.8" stroke="#3ce4ef" stroke-width="1.7" fill="none" stroke-linejoin="round"/>
<path d="M843.4 321.1a3.7 3.7 0 1 0 7.4 0a3.7 3.7 0 1 0 -7.4 0M853.5 320.5a3.7 3.7 0 1 0 7.4 0a3.7 3.7 0 1 0 -7.4 0M863.6 320.4a3.7 3.7 0 1 0 7.4 0a3.7 3.7 0 1 0 -7.4 0M873.8 320.4a3.7 3.7 0 1 0 7.4 0a3.7 3.7 0 1 0 -7.4 0M883.9 319.7a3.7 3.7 0 1 0 7.4 0a3.7 3.7 0 1 0 -7.4 0M894 319.3a3.7 3.7 0 1 0 7.4 0a3.7 3.7 0 1 0 -7.4 0M904.1 319.8a3.7 3.7 0 1 0 7.4 0a3.7 3.7 0 1 0 -7.4 0M914.2 319.3a3.7 3.7 0 1 0 7.4 0a3.7 3.7 0 1 0 -7.4 0M924.3 320.1a3.7 3.7 0 1 0 7.4 0a3.7 3.7 0 1 0 -7.4 0M934.4 319.6a3.7 3.7 0 1 0 7.4 0a3.7 3.7 0 1 0 -7.4 0M944.6 319.9a3.7 3.7 0 1 0 7.4 0a3.7 3.7 0 1 0 -7.4 0M954.7 319.6a3.7 3.7 0 1 0 7.4 0a3.7 3.7 0 1 0 -7.4 0M964.8 319.5a3.7 3.7 0 1 0 7.4 0a3.7 3.7 0 1 0 -7.4 0M974.9 319.2a3.7 3.7 0 1 0 7.4 0a3.7 3.7 0 1 0 -7.4 0M985 319.6a3.7 3.7 0 1 0 7.4 0a3.7 3.7 0 1 0 -7.4 0M995.1 319.2a3.7 3.7 0 1 0 7.4 0a3.7 3.7 0 1 0 -7.4 0M1005.3 319.8a3.7 3.7 0 1 0 7.4 0a3.7 3.7 0 1 0 -7.4 0M1015.4 320a3.7 3.7 0 1 0 7.4 0a3.7 3.7 0 1 0 -7.4 0M1025.5 319.6a3.7 3.7 0 1 0 7.4 0a3.7 3.7 0 1 0 -7.4 0M1035.6 319.4a3.7 3.7 0 1 0 7.4 0a3.7 3.7 0 1 0 -7.4 0M1045.7 319.4a3.7 3.7 0 1 0 7.4 0a3.7 3.7 0 1 0 -7.4 0M1055.8 320.1a3.7 3.7 0 1 0 7.4 0a3.7 3.7 0 1 0 -7.4 0M1065.9 319.9a3.7 3.7 0 1 0 7.4 0a3.7 3.7 0 1 0 -7.4 0M1076.1 319.9a3.7 3.7 0 1 0 7.4 0a3.7 3.7 0 1 0 -7.4 0M1086.2 319.6a3.7 3.7 0 1 0 7.4 0a3.7 3.7 0 1 0 -7.4 0M1096.3 319.2a3.7 3.7 0 1 0 7.4 0a3.7 3.7 0 1 0 -7.4 0M1106.4 319.8a3.7 3.7 0 1 0 7.4 0a3.7 3.7 0 1 0 -7.4 0M1116.5 320.1a3.7 3.7 0 1 0 7.4 0a3.7 3.7 0 1 0 -7.4 0M1126.6 318.7a3.7 3.7 0 1 0 7.4 0a3.7 3.7 0 1 0 -7.4 0M1136.8 317.9a3.7 3.7 0 1 0 7.4 0a3.7 3.7 0 1 0 -7.4 0M1146.9 317.4a3.7 3.7 0 1 0 7.4 0a3.7 3.7 0 1 0 -7.4 0M1157 317.3a3.7 3.7 0 1 0 7.4 0a3.7 3.7 0 1 0 -7.4 0M1167.1 315.9a3.7 3.7 0 1 0 7.4 0a3.7 3.7 0 1 0 -7.4 0M1177.2 314.7a3.7 3.7 0 1 0 7.4 0a3.7 3.7 0 1 0 -7.4 0M1187.3 312.5a3.7 3.7 0 1 0 7.4 0a3.7 3.7 0 1 0 -7.4 0M1197.4 311.5a3.7 3.7 0 1 0 7.4 0a3.7 3.7 0 1 0 -7.4 0M1207.6 309.6a3.7 3.7 0 1 0 7.4 0a3.7 3.7 0 1 0 -7.4 0M1217.7 305.2a3.7 3.7 0 1 0 7.4 0a3.7 3.7 0 1 0 -7.4 0M1227.8 286.5a3.7 3.7 0 1 0 7.4 0a3.7 3.7 0 1 0 -7.4 0M1237.9 262a3.7 3.7 0 1 0 7.4 0a3.7 3.7 0 1 0 -7.4 0M1248 240.7a3.7 3.7 0 1 0 7.4 0a3.7 3.7 0 1 0 -7.4 0M1258.1 218.6a3.7 3.7 0 1 0 7.4 0a3.7 3.7 0 1 0 -7.4 0M1268.2 193.2a3.7 3.7 0 1 0 7.4 0a3.7 3.7 0 1 0 -7.4 0M1278.4 170.8a3.7 3.7 0 1 0 7.4 0a3.7 3.7 0 1 0 -7.4 0M1288.5 150.2a3.7 3.7 0 1 0 7.4 0a3.7 3.7 0 1 0 -7.4 0M1298.6 126.8a3.7 3.7 0 1 0 7.4 0a3.7 3.7 0 1 0 -7.4 0" stroke="#3ce4ef" stroke-width="1.9" fill="#a7f2f7"/>
</g>
<g>
<path d="M847.1 314.8 857.2 315.9 867.3 317.4 877.5 318.6 887.6 318.5 897.7 319 907.8 318.9 917.9 319.3 928 319.2 938.1 319.2 948.3 319.7 958.4 320 968.5 319.2 978.6 320 988.7 319.5 998.8 319.1 1009 319.8 1019.1 319.8 1029.2 319.7 1039.3 319.9 1049.4 319.3 1059.5 319.8 1069.6 320 1079.8 319.5 1089.9 319.9 1100 319.9 1110.1 320.1 1120.2 319.2 1130.3 319.7 1140.5 319.5 1150.6 319.6 1160.7 318.9 1170.8 319.2 1180.9 317.7 1191 316.4 1201.1 314.6 1211.3 309.3 1221.4 301.6 1231.5 286.8 1241.6 272.6 1251.7 255.1 1261.8 235.7 1271.9 217.8 1282.1 202.2 1292.2 192.6 1302.3 181.6" stroke="#ec2027" stroke-width="1.7" fill="none" stroke-linejoin="round"/>
<path d="M841.8 310.3l10.6 9m0 -9l-10.6 9M851.9 311.4l10.6 9m0 -9l-10.6 9M862 312.9l10.6 9m0 -9l-10.6 9M872.2 314.1l10.6 9m0 -9l-10.6 9M882.3 314l10.6 9m0 -9l-10.6 9M892.4 314.5l10.6 9m0 -9l-10.6 9M902.5 314.4l10.6 9m0 -9l-10.6 9M912.6 314.8l10.6 9m0 -9l-10.6 9M922.7 314.7l10.6 9m0 -9l-10.6 9M932.9 314.7l10.6 9m0 -9l-10.6 9M943 315.2l10.6 9m0 -9l-10.6 9M953.1 315.5l10.6 9m0 -9l-10.6 9M963.2 314.7l10.6 9m0 -9l-10.6 9M973.3 315.5l10.6 9m0 -9l-10.6 9M983.4 315l10.6 9m0 -9l-10.6 9M993.5 314.6l10.6 9m0 -9l-10.6 9M1003.7 315.3l10.6 9m0 -9l-10.6 9M1013.8 315.3l10.6 9m0 -9l-10.6 9M1023.9 315.2l10.6 9m0 -9l-10.6 9M1034 315.4l10.6 9m0 -9l-10.6 9M1044.1 314.8l10.6 9m0 -9l-10.6 9M1054.2 315.3l10.6 9m0 -9l-10.6 9M1064.3 315.5l10.6 9m0 -9l-10.6 9M1074.5 315l10.6 9m0 -9l-10.6 9M1084.6 315.4l10.6 9m0 -9l-10.6 9M1094.7 315.4l10.6 9m0 -9l-10.6 9M1104.8 315.6l10.6 9m0 -9l-10.6 9M1114.9 314.7l10.6 9m0 -9l-10.6 9M1125 315.2l10.6 9m0 -9l-10.6 9M1135.2 315l10.6 9m0 -9l-10.6 9M1145.3 315.1l10.6 9m0 -9l-10.6 9M1155.4 314.4l10.6 9m0 -9l-10.6 9M1165.5 314.7l10.6 9m0 -9l-10.6 9M1175.6 313.2l10.6 9m0 -9l-10.6 9M1185.7 311.9l10.6 9m0 -9l-10.6 9M1195.8 310.1l10.6 9m0 -9l-10.6 9M1206 304.8l10.6 9m0 -9l-10.6 9M1216.1 297.1l10.6 9m0 -9l-10.6 9M1226.2 282.3l10.6 9m0 -9l-10.6 9M1236.3 268.1l10.6 9m0 -9l-10.6 9M1246.4 250.6l10.6 9m0 -9l-10.6 9M1256.5 231.2l10.6 9m0 -9l-10.6 9M1266.6 213.3l10.6 9m0 -9l-10.6 9M1276.8 197.7l10.6 9m0 -9l-10.6 9M1286.9 188.1l10.6 9m0 -9l-10.6 9M1297 177.1l10.6 9m0 -9l-10.6 9" stroke="#ec2027" stroke-width="1.2" fill="none"/>
</g>
<g>
<path d="M847.1 314.5 857.2 316.7 867.3 317.4 877.5 318.7 887.6 318.8 897.7 319.2 907.8 319.1 917.9 319.7 928 319 938.1 320 948.3 320 958.4 319.4 968.5 319.1 978.6 319.2 988.7 319.3 998.8 320 1009 319.9 1019.1 319.8 1029.2 319.9 1039.3 319.9 1049.4 319.8 1059.5 319.7 1069.6 319.8 1079.8 319.3 1089.9 319.3 1100 320 1110.1 319.6 1120.2 319.4 1130.3 320.1 1140.5 319.1 1150.6 319.5 1160.7 319.4 1170.8 318.8 1180.9 317.4 1191 316.5 1201.1 314 1211.3 308.3 1221.4 300.8 1231.5 285.4 1241.6 270.4 1251.7 252.2 1261.8 234.1 1271.9 213.5 1282.1 190.8 1292.2 170.3 1302.3 153.4" stroke="#ec2027" stroke-width="1.7" fill="none" stroke-linejoin="round"/>
<path d="M841.8 310l10.6 9m0 -9l-10.6 9M851.9 312.2l10.6 9m0 -9l-10.6 9M862 312.9l10.6 9m0 -9l-10.6 9M872.2 314.2l10.6 9m0 -9l-10.6 9M882.3 314.3l10.6 9m0 -9l-10.6 9M892.4 314.7l10.6 9m0 -9l-10.6 9M902.5 314.6l10.6 9m0 -9l-10.6 9M912.6 315.2l10.6 9m0 -9l-10.6 9M922.7 314.5l10.6 9m0 -9l-10.6 9M932.9 315.5l10.6 9m0 -9l-10.6 9M943 315.5l10.6 9m0 -9l-10.6 9M953.1 314.9l10.6 9m0 -9l-10.6 9M963.2 314.6l10.6 9m0 -9l-10.6 9M973.3 314.7l10.6 9m0 -9l-10.6 9M983.4 314.8l10.6 9m0 -9l-10.6 9M993.5 315.5l10.6 9m0 -9l-10.6 9M1003.7 315.4l10.6 9m0 -9l-10.6 9M1013.8 315.3l10.6 9m0 -9l-10.6 9M1023.9 315.4l10.6 9m0 -9l-10.6 9M1034 315.4l10.6 9m0 -9l-10.6 9M1044.1 315.3l10.6 9m0 -9l-10.6 9M1054.2 315.2l10.6 9m0 -9l-10.6 9M1064.3 315.3l10.6 9m0 -9l-10.6 9M1074.5 314.8l10.6 9m0 -9l-10.6 9M1084.6 314.8l10.6 9m0 -9l-10.6 9M1094.7 315.5l10.6 9m0 -9l-10.6 9M1104.8 315.1l10.6 9m0 -9l-10.6 9M1114.9 314.9l10.6 9m0 -9l-10.6 9M1125 315.6l10.6 9m0 -9l-10.6 9M1135.2 314.6l10.6 9m0 -9l-10.6 9M1145.3 315l10.6 9m0 -9l-10.6 9M1155.4 314.9l10.6 9m0 -9l-10.6 9M1165.5 314.3l10.6 9m0 -9l-10.6 9M1175.6 312.9l10.6 9m0 -9l-10.6 9M1185.7 312l10.6 9m0 -9l-10.6 9M1195.8 309.5l10.6 9m0 -9l-10.6 9M1206 303.8l10.6 9m0 -9l-10.6 9M1216.1 296.3l10.6 9m0 -9l-10.6 9M1226.2 280.9l10.6 9m0 -9l-10.6 9M1236.3 265.9l10.6 9m0 -9l-10.6 9M1246.4 247.7l10.6 9m0 -9l-10.6 9M1256.5 229.6l10.6 9m0 -9l-10.6 9M1266.6 209l10.6 9m0 -9l-10.6 9M1276.8 186.3l10.6 9m0 -9l-10.6 9M1286.9 165.8l10.6 9m0 -9l-10.6 9M1297 148.9l10.6 9m0 -9l-10.6 9" stroke="#ec2027" stroke-width="1.2" fill="none"/>
</g>
<g>
<path d="M847.1 314.5 857.2 316.1 867.3 317.5 877.5 318.3 887.6 318.4 897.7 319.4 907.8 318.8 917.9 319.4 928 319.9 938.1 319.3 948.3 319.8 958.4 319.1 968.5 319.4 978.6 319.9 988.7 319.1 998.8 319.8 1009 319.1 1019.1 320.1 1029.2 319.8 1039.3 319.5 1049.4 319.8 1059.5 319.3 1069.6 318.7 1079.8 316.9 1089.9 314.1 1100 310.6 1110.1 301.7 1120.2 289.9 1130.3 273 1140.5 253.6 1150.6 233.3 1160.7 213.3 1170.8 191.8 1180.9 172.2 1191 152.7 1201.1 137.1 1211.3 124.3 1221.4 115.1 1231.5 108.7 1241.6 105.4 1251.7 101.8 1261.8 101.1 1271.9 99.4 1282.1 98.3 1292.2 97.2 1302.3 96.8" stroke="#ec2027" stroke-width="1.7" fill="none" stroke-linejoin="round"/>
<path d="M843.4 314.5a3.7 3.7 0 1 0 7.4 0a3.7 3.7 0 1 0 -7.4 0M853.5 316.1a3.7 3.7 0 1 0 7.4 0a3.7 3.7 0 1 0 -7.4 0M863.6 317.5a3.7 3.7 0 1 0 7.4 0a3.7 3.7 0 1 0 -7.4 0M873.8 318.3a3.7 3.7 0 1 0 7.4 0a3.7 3.7 0 1 0 -7.4 0M883.9 318.4a3.7 3.7 0 1 0 7.4 0a3.7 3.7 0 1 0 -7.4 0M894 319.4a3.7 3.7 0 1 0 7.4 0a3.7 3.7 0 1 0 -7.4 0M904.1 318.8a3.7 3.7 0 1 0 7.4 0a3.7 3.7 0 1 0 -7.4 0M914.2 319.4a3.7 3.7 0 1 0 7.4 0a3.7 3.7 0 1 0 -7.4 0M924.3 319.9a3.7 3.7 0 1 0 7.4 0a3.7 3.7 0 1 0 -7.4 0M934.4 319.3a3.7 3.7 0 1 0 7.4 0a3.7 3.7 0 1 0 -7.4 0M944.6 319.8a3.7 3.7 0 1 0 7.4 0a3.7 3.7 0 1 0 -7.4 0M954.7 319.1a3.7 3.7 0 1 0 7.4 0a3.7 3.7 0 1 0 -7.4 0M964.8 319.4a3.7 3.7 0 1 0 7.4 0a3.7 3.7 0 1 0 -7.4 0M974.9 319.9a3.7 3.7 0 1 0 7.4 0a3.7 3.7 0 1 0 -7.4 0M985 319.1a3.7 3.7 0 1 0 7.4 0a3.7 3.7 0 1 0 -7.4 0M995.1 319.8a3.7 3.7 0 1 0 7.4 0a3.7 3.7 0 1 0 -7.4 0M1005.3 319.1a3.7 3.7 0 1 0 7.4 0a3.7 3.7 0 1 0 -7.4 0M1015.4 320.1a3.7 3.7 0 1 0 7.4 0a3.7 3.7 0 1 0 -7.4 0M1025.5 319.8a3.7 3.7 0 1 0 7.4 0a3.7 3.7 0 1 0 -7.4 0M1035.6 319.5a3.7 3.7 0 1 0 7.4 0a3.7 3.7 0 1 0 -7.4 0M1045.7 319.8a3.7 3.7 0 1 0 7.4 0a3.7 3.7 0 1 0 -7.4 0M1055.8 319.3a3.7 3.7 0 1 0 7.4 0a3.7 3.7 0 1 0 -7.4 0M1065.9 318.7a3.7 3.7 0 1 0 7.4 0a3.7 3.7 0 1 0 -7.4 0M1076.1 316.9a3.7 3.7 0 1 0 7.4 0a3.7 3.7 0 1 0 -7.4 0M1086.2 314.1a3.7 3.7 0 1 0 7.4 0a3.7 3.7 0 1 0 -7.4 0M1096.3 310.6a3.7 3.7 0 1 0 7.4 0a3.7 3.7 0 1 0 -7.4 0M1106.4 301.7a3.7 3.7 0 1 0 7.4 0a3.7 3.7 0 1 0 -7.4 0M1116.5 289.9a3.7 3.7 0 1 0 7.4 0a3.7 3.7 0 1 0 -7.4 0M1126.6 273a3.7 3.7 0 1 0 7.4 0a3.7 3.7 0 1 0 -7.4 0M1136.8 253.6a3.7 3.7 0 1 0 7.4 0a3.7 3.7 0 1 0 -7.4 0M1146.9 233.3a3.7 3.7 0 1 0 7.4 0a3.7 3.7 0 1 0 -7.4 0M1157 213.3a3.7 3.7 0 1 0 7.4 0a3.7 3.7 0 1 0 -7.4 0M1167.1 191.8a3.7 3.7 0 1 0 7.4 0a3.7 3.7 0 1 0 -7.4 0M1177.2 172.2a3.7 3.7 0 1 0 7.4 0a3.7 3.7 0 1 0 -7.4 0M1187.3 152.7a3.7 3.7 0 1 0 7.4 0a3.7 3.7 0 1 0 -7.4 0M1197.4 137.1a3.7 3.7 0 1 0 7.4 0a3.7 3.7 0 1 0 -7.4 0M1207.6 124.3a3.7 3.7 0 1 0 7.4 0a3.7 3.7 0 1 0 -7.4 0M1217.7 115.1a3.7 3.7 0 1 0 7.4 0a3.7 3.7 0 1 0 -7.4 0M1227.8 108.7a3.7 3.7 0 1 0 7.4 0a3.7 3.7 0 1 0 -7.4 0M1237.9 105.4a3.7 3.7 0 1 0 7.4 0a3.7 3.7 0 1 0 -7.4 0M1248 101.8a3.7 3.7 0 1 0 7.4 0a3.7 3.7 0 1 0 -7.4 0M1258.1 101.1a3.7 3.7 0 1 0 7.4 0a3.7 3.7 0 1 0 -7.4 0M1268.2 99.4a3.7 3.7 0 1 0 7.4 0a3.7 3.7 0 1 0 -7.4 0M1278.4 98.3a3.7 3.7 0 1 0 7.4 0a3.7 3.7 0 1 0 -7.4 0M1288.5 97.2a3.7 3.7 0 1 0 7.4 0a3.7 3.7 0 1 0 -7.4 0M1298.6 96.8a3.7 3.7 0 1 0 7.4 0a3.7 3.7 0 1 0 -7.4 0" stroke="#ec2027" stroke-width="1.9" fill="#f37479"/>
</g>
<g>
<path d="M847.1 313.8 857.2 315.8 867.3 316.8 877.5 317.6 887.6 318.2 897.7 318.5 907.8 319.5 917.9 319.6 928 319.4 938.1 319.3 948.3 319.9 958.4 319.3 968.5 319.8 978.6 319.4 988.7 319.4 998.8 319.8 1009 319.7 1019.1 319.4 1029.2 319.5 1039.3 319.8 1049.4 319.1 1059.5 319.8 1069.6 319.8 1079.8 320 1089.9 319.1 1100 319.4 1110.1 319.4 1120.2 319.6 1130.3 319.9 1140.5 320.1 1150.6 319.5 1160.7 319.3 1170.8 319.1 1180.9 320 1191 319.8 1201.1 319.2 1211.3 318 1221.4 315.7 1231.5 312 1241.6 307.1 1251.7 301.7 1261.8 291.7 1271.9 277.3 1282.1 258.9 1292.2 241.6 1302.3 223.4" stroke="#f8ad88" stroke-width="1.7" fill="none" stroke-linejoin="round"/>
<path d="M841.8 309.3l10.6 9m0 -9l-10.6 9M851.9 311.3l10.6 9m0 -9l-10.6 9M862 312.3l10.6 9m0 -9l-10.6 9M872.2 313.1l10.6 9m0 -9l-10.6 9M882.3 313.7l10.6 9m0 -9l-10.6 9M892.4 314l10.6 9m0 -9l-10.6 9M902.5 315l10.6 9m0 -9l-10.6 9M912.6 315.1l10.6 9m0 -9l-10.6 9M922.7 314.9l10.6 9m0 -9l-10.6 9M932.9 314.8l10.6 9m0 -9l-10.6 9M943 315.4l10.6 9m0 -9l-10.6 9M953.1 314.8l10.6 9m0 -9l-10.6 9M963.2 315.3l10.6 9m0 -9l-10.6 9M973.3 314.9l10.6 9m0 -9l-10.6 9M983.4 314.9l10.6 9m0 -9l-10.6 9M993.5 315.3l10.6 9m0 -9l-10.6 9M1003.7 315.2l10.6 9m0 -9l-10.6 9M1013.8 314.9l10.6 9m0 -9l-10.6 9M1023.9 315l10.6 9m0 -9l-10.6 9M1034 315.3l10.6 9m0 -9l-10.6 9M1044.1 314.6l10.6 9m0 -9l-10.6 9M1054.2 315.3l10.6 9m0 -9l-10.6 9M1064.3 315.3l10.6 9m0 -9l-10.6 9M1074.5 315.5l10.6 9m0 -9l-10.6 9M1084.6 314.6l10.6 9m0 -9l-10.6 9M1094.7 314.9l10.6 9m0 -9l-10.6 9M1104.8 314.9l10.6 9m0 -9l-10.6 9M1114.9 315.1l10.6 9m0 -9l-10.6 9M1125 315.4l10.6 9m0 -9l-10.6 9M1135.2 315.6l10.6 9m0 -9l-10.6 9M1145.3 315l10.6 9m0 -9l-10.6 9M1155.4 314.8l10.6 9m0 -9l-10.6 9M1165.5 314.6l10.6 9m0 -9l-10.6 9M1175.6 315.5l10.6 9m0 -9l-10.6 9M1185.7 315.3l10.6 9m0 -9l-10.6 9M1195.8 314.7l10.6 9m0 -9l-10.6 9M1206 313.5l10.6 9m0 -9l-10.6 9M1216.1 311.2l10.6 9m0 -9l-10.6 9M1226.2 307.5l10.6 9m0 -9l-10.6 9M1236.3 302.6l10.6 9m0 -9l-10.6 9M1246.4 297.2l10.6 9m0 -9l-10.6 9M1256.5 287.2l10.6 9m0 -9l-10.6 9M1266.6 272.8l10.6 9m0 -9l-10.6 9M1276.8 254.4l10.6 9m0 -9l-10.6 9M1286.9 237.1l10.6 9m0 -9l-10.6 9M1297 218.9l10.6 9m0 -9l-10.6 9" stroke="#f8ad88" stroke-width="1.2" fill="none"/>
</g>
<g>
<path d="M847.1 313.3 857.2 315.4 867.3 316.7 877.5 318.3 887.6 318.9 897.7 318.8 907.8 319.3 917.9 319.1 928 319.1 938.1 320 948.3 319.7 958.4 319.9 968.5 319.8 978.6 319.1 988.7 319.9 998.8 319.7 1009 319.9 1019.1 320 1029.2 320 1039.3 320.1 1049.4 319.3 1059.5 319.4 1069.6 319.8 1079.8 319.3 1089.9 319.2 1100 319.9 1110.1 319.4 1120.2 320 1130.3 319.8 1140.5 319.7 1150.6 319.6 1160.7 319.5 1170.8 319.7 1180.9 319.5 1191 318.4 1201.1 318 1211.3 316.4 1221.4 313.7 1231.5 308.3 1241.6 301.9 1251.7 291.6 1261.8 277.4 1271.9 259.7 1282.1 241.2 1292.2 220.8 1302.3 202" stroke="#f8ad88" stroke-width="1.7" fill="none" stroke-linejoin="round"/>
<path d="M841.8 308.8l10.6 9m0 -9l-10.6 9M851.9 310.9l10.6 9m0 -9l-10.6 9M862 312.2l10.6 9m0 -9l-10.6 9M872.2 313.8l10.6 9m0 -9l-10.6 9M882.3 314.4l10.6 9m0 -9l-10.6 9M892.4 314.3l10.6 9m0 -9l-10.6 9M902.5 314.8l10.6 9m0 -9l-10.6 9M912.6 314.6l10.6 9m0 -9l-10.6 9M922.7 314.6l10.6 9m0 -9l-10.6 9M932.9 315.5l10.6 9m0 -9l-10.6 9M943 315.2l10.6 9m0 -9l-10.6 9M953.1 315.4l10.6 9m0 -9l-10.6 9M963.2 315.3l10.6 9m0 -9l-10.6 9M973.3 314.6l10.6 9m0 -9l-10.6 9M983.4 315.4l10.6 9m0 -9l-10.6 9M993.5 315.2l10.6 9m0 -9l-10.6 9M1003.7 315.4l10.6 9m0 -9l-10.6 9M1013.8 315.5l10.6 9m0 -9l-10.6 9M1023.9 315.5l10.6 9m0 -9l-10.6 9M1034 315.6l10.6 9m0 -9l-10.6 9M1044.1 314.8l10.6 9m0 -9l-10.6 9M1054.2 314.9l10.6 9m0 -9l-10.6 9M1064.3 315.3l10.6 9m0 -9l-10.6 9M1074.5 314.8l10.6 9m0 -9l-10.6 9M1084.6 314.7l10.6 9m0 -9l-10.6 9M1094.7 315.4l10.6 9m0 -9l-10.6 9M1104.8 314.9l10.6 9m0 -9l-10.6 9M1114.9 315.5l10.6 9m0 -9l-10.6 9M1125 315.3l10.6 9m0 -9l-10.6 9M1135.2 315.2l10.6 9m0 -9l-10.6 9M1145.3 315.1l10.6 9m0 -9l-10.6 9M1155.4 315l10.6 9m0 -9l-10.6 9M1165.5 315.2l10.6 9m0 -9l-10.6 9M1175.6 315l10.6 9m0 -9l-10.6 9M1185.7 313.9l10.6 9m0 -9l-10.6 9M1195.8 313.5l10.6 9m0 -9l-10.6 9M1206 311.9l10.6 9m0 -9l-10.6 9M1216.1 309.2l10.6 9m0 -9l-10.6 9M1226.2 303.8l10.6 9m0 -9l-10.6 9M1236.3 297.4l10.6 9m0 -9l-10.6 9M1246.4 287.1l10.6 9m0 -9l-10.6 9M1256.5 272.9l10.6 9m0 -9l-10.6 9M1266.6 255.2l10.6 9m0 -9l-10.6 9M1276.8 236.7l10.6 9m0 -9l-10.6 9M1286.9 216.3l10.6 9m0 -9l-10.6 9M1297 197.5l10.6 9m0 -9l-10.6 9" stroke="#f8ad88" stroke-width="1.2" fill="none"/>
</g>
<g>
<path d="M847.1 313.5 857.2 315.3 867.3 317.5 877.5 317.7 887.6 318.8 897.7 318.9 907.8 318.8 917.9 319.6 928 319.2 938.1 319 948.3 319.4 958.4 319.7 968.5 319.9 978.6 319.1 988.7 319.8 998.8 319.2 1009 319.5 1019.1 320 1029.2 319.7 1039.3 319.7 1049.4 319.5 1059.5 319.9 1069.6 319.6 1079.8 319.5 1089.9 319.9 1100 318.8 1110.1 318.3 1120.2 316.2 1130.3 313.6 1140.5 309 1150.6 301.2 1160.7 289.5 1170.8 274.5 1180.9 253.5 1191 229.9 1201.1 206.7 1211.3 193.7 1221.4 173.1 1231.5 155.1 1241.6 139.3 1251.7 125.5 1261.8 116 1271.9 109.1 1282.1 105.9 1292.2 102.3 1302.3 100" stroke="#f8ad88" stroke-width="1.7" fill="none" stroke-linejoin="round"/>
<path d="M843.4 313.5a3.7 3.7 0 1 0 7.4 0a3.7 3.7 0 1 0 -7.4 0M853.5 315.3a3.7 3.7 0 1 0 7.4 0a3.7 3.7 0 1 0 -7.4 0M863.6 317.5a3.7 3.7 0 1 0 7.4 0a3.7 3.7 0 1 0 -7.4 0M873.8 317.7a3.7 3.7 0 1 0 7.4 0a3.7 3.7 0 1 0 -7.4 0M883.9 318.8a3.7 3.7 0 1 0 7.4 0a3.7 3.7 0 1 0 -7.4 0M894 318.9a3.7 3.7 0 1 0 7.4 0a3.7 3.7 0 1 0 -7.4 0M904.1 318.8a3.7 3.7 0 1 0 7.4 0a3.7 3.7 0 1 0 -7.4 0M914.2 319.6a3.7 3.7 0 1 0 7.4 0a3.7 3.7 0 1 0 -7.4 0M924.3 319.2a3.7 3.7 0 1 0 7.4 0a3.7 3.7 0 1 0 -7.4 0M934.4 319a3.7 3.7 0 1 0 7.4 0a3.7 3.7 0 1 0 -7.4 0M944.6 319.4a3.7 3.7 0 1 0 7.4 0a3.7 3.7 0 1 0 -7.4 0M954.7 319.7a3.7 3.7 0 1 0 7.4 0a3.7 3.7 0 1 0 -7.4 0M964.8 319.9a3.7 3.7 0 1 0 7.4 0a3.7 3.7 0 1 0 -7.4 0M974.9 319.1a3.7 3.7 0 1 0 7.4 0a3.7 3.7 0 1 0 -7.4 0M985 319.8a3.7 3.7 0 1 0 7.4 0a3.7 3.7 0 1 0 -7.4 0M995.1 319.2a3.7 3.7 0 1 0 7.4 0a3.7 3.7 0 1 0 -7.4 0M1005.3 319.5a3.7 3.7 0 1 0 7.4 0a3.7 3.7 0 1 0 -7.4 0M1015.4 320a3.7 3.7 0 1 0 7.4 0a3.7 3.7 0 1 0 -7.4 0M1025.5 319.7a3.7 3.7 0 1 0 7.4 0a3.7 3.7 0 1 0 -7.4 0M1035.6 319.7a3.7 3.7 0 1 0 7.4 0a3.7 3.7 0 1 0 -7.4 0M1045.7 319.5a3.7 3.7 0 1 0 7.4 0a3.7 3.7 0 1 0 -7.4 0M1055.8 319.9a3.7 3.7 0 1 0 7.4 0a3.7 3.7 0 1 0 -7.4 0M1065.9 319.6a3.7 3.7 0 1 0 7.4 0a3.7 3.7 0 1 0 -7.4 0M1076.1 319.5a3.7 3.7 0 1 0 7.4 0a3.7 3.7 0 1 0 -7.4 0M1086.2 319.9a3.7 3.7 0 1 0 7.4 0a3.7 3.7 0 1 0 -7.4 0M1096.3 318.8a3.7 3.7 0 1 0 7.4 0a3.7 3.7 0 1 0 -7.4 0M1106.4 318.3a3.7 3.7 0 1 0 7.4 0a3.7 3.7 0 1 0 -7.4 0M1116.5 316.2a3.7 3.7 0 1 0 7.4 0a3.7 3.7 0 1 0 -7.4 0M1126.6 313.6a3.7 3.7 0 1 0 7.4 0a3.7 3.7 0 1 0 -7.4 0M1136.8 309a3.7 3.7 0 1 0 7.4 0a3.7 3.7 0 1 0 -7.4 0M1146.9 301.2a3.7 3.7 0 1 0 7.4 0a3.7 3.7 0 1 0 -7.4 0M1157 289.5a3.7 3.7 0 1 0 7.4 0a3.7 3.7 0 1 0 -7.4 0M1167.1 274.5a3.7 3.7 0 1 0 7.4 0a3.7 3.7 0 1 0 -7.4 0M1177.2 253.5a3.7 3.7 0 1 0 7.4 0a3.7 3.7 0 1 0 -7.4 0M1187.3 229.9a3.7 3.7 0 1 0 7.4 0a3.7 3.7 0 1 0 -7.4 0M1197.4 206.7a3.7 3.7 0 1 0 7.4 0a3.7 3.7 0 1 0 -7.4 0M1207.6 193.7a3.7 3.7 0 1 0 7.4 0a3.7 3.7 0 1 0 -7.4 0M1217.7 173.1a3.7 3.7 0 1 0 7.4 0a3.7 3.7 0 1 0 -7.4 0M1227.8 155.1a3.7 3.7 0 1 0 7.4 0a3.7 3.7 0 1 0 -7.4 0M1237.9 139.3a3.7 3.7 0 1 0 7.4 0a3.7 3.7 0 1 0 -7.4 0M1248 125.5a3.7 3.7 0 1 0 7.4 0a3.7 3.7 0 1 0 -7.4 0M1258.1 116a3.7 3.7 0 1 0 7.4 0a3.7 3.7 0 1 0 -7.4 0M1268.2 109.1a3.7 3.7 0 1 0 7.4 0a3.7 3.7 0 1 0 -7.4 0M1278.4 105.9a3.7 3.7 0 1 0 7.4 0a3.7 3.7 0 1 0 -7.4 0M1288.5 102.3a3.7 3.7 0 1 0 7.4 0a3.7 3.7 0 1 0 -7.4 0M1298.6 100a3.7 3.7 0 1 0 7.4 0a3.7 3.7 0 1 0 -7.4 0" stroke="#f8ad88" stroke-width="1.9" fill="#fde8dd"/>
</g>
<g>
<path d="M847.1 313.3 857.2 316.1 867.3 316.6 877.5 318.2 887.6 318.4 897.7 319.3 907.8 319.3 917.9 319.1 928 319 938.1 319.7 948.3 319.8 958.4 320 968.5 319.6 978.6 319.8 988.7 320.1 998.8 320 1009 319.5 1019.1 319.4 1029.2 319.4 1039.3 319.3 1049.4 319.8 1059.5 320 1069.6 319.4 1079.8 319.5 1089.9 319.5 1100 319.5 1110.1 318.3 1120.2 315.9 1130.3 313.5 1140.5 308 1150.6 298.9 1160.7 287.1 1170.8 268.1 1180.9 250.1 1191 226.8 1201.1 205 1211.3 182 1221.4 159.9 1231.5 137.3 1241.6 120.8 1251.7 107.1 1261.8 96.8 1271.9 90.3 1282.1 85.2 1292.2 83.4 1302.3 80.4" stroke="#f8ad88" stroke-width="1.7" fill="none" stroke-linejoin="round"/>
<path d="M843.4 313.3a3.7 3.7 0 1 0 7.4 0a3.7 3.7 0 1 0 -7.4 0M853.5 316.1a3.7 3.7 0 1 0 7.4 0a3.7 3.7 0 1 0 -7.4 0M863.6 316.6a3.7 3.7 0 1 0 7.4 0a3.7 3.7 0 1 0 -7.4 0M873.8 318.2a3.7 3.7 0 1 0 7.4 0a3.7 3.7 0 1 0 -7.4 0M883.9 318.4a3.7 3.7 0 1 0 7.4 0a3.7 3.7 0 1 0 -7.4 0M894 319.3a3.7 3.7 0 1 0 7.4 0a3.7 3.7 0 1 0 -7.4 0M904.1 319.3a3.7 3.7 0 1 0 7.4 0a3.7 3.7 0 1 0 -7.4 0M914.2 319.1a3.7 3.7 0 1 0 7.4 0a3.7 3.7 0 1 0 -7.4 0M924.3 319a3.7 3.7 0 1 0 7.4 0a3.7 3.7 0 1 0 -7.4 0M934.4 319.7a3.7 3.7 0 1 0 7.4 0a3.7 3.7 0 1 0 -7.4 0M944.6 319.8a3.7 3.7 0 1 0 7.4 0a3.7 3.7 0 1 0 -7.4 0M954.7 320a3.7 3.7 0 1 0 7.4 0a3.7 3.7 0 1 0 -7.4 0M964.8 319.6a3.7 3.7 0 1 0 7.4 0a3.7 3.7 0 1 0 -7.4 0M974.9 319.8a3.7 3.7 0 1 0 7.4 0a3.7 3.7 0 1 0 -7.4 0M985 320.1a3.7 3.7 0 1 0 7.4 0a3.7 3.7 0 1 0 -7.4 0M995.1 320a3.7 3.7 0 1 0 7.4 0a3.7 3.7 0 1 0 -7.4 0M1005.3 319.5a3.7 3.7 0 1 0 7.4 0a3.7 3.7 0 1 0 -7.4 0M1015.4 319.4a3.7 3.7 0 1 0 7.4 0a3.7 3.7 0 1 0 -7.4 0M1025.5 319.4a3.7 3.7 0 1 0 7.4 0a3.7 3.7 0 1 0 -7.4 0M1035.6 319.3a3.7 3.7 0 1 0 7.4 0a3.7 3.7 0 1 0 -7.4 0M1045.7 319.8a3.7 3.7 0 1 0 7.4 0a3.7 3.7 0 1 0 -7.4 0M1055.8 320a3.7 3.7 0 1 0 7.4 0a3.7 3.7 0 1 0 -7.4 0M1065.9 319.4a3.7 3.7 0 1 0 7.4 0a3.7 3.7 0 1 0 -7.4 0M1076.1 319.5a3.7 3.7 0 1 0 7.4 0a3.7 3.7 0 1 0 -7.4 0M1086.2 319.5a3.7 3.7 0 1 0 7.4 0a3.7 3.7 0 1 0 -7.4 0M1096.3 319.5a3.7 3.7 0 1 0 7.4 0a3.7 3.7 0 1 0 -7.4 0M1106.4 318.3a3.7 3.7 0 1 0 7.4 0a3.7 3.7 0 1 0 -7.4 0M1116.5 315.9a3.7 3.7 0 1 0 7.4 0a3.7 3.7 0 1 0 -7.4 0M1126.6 313.5a3.7 3.7 0 1 0 7.4 0a3.7 3.7 0 1 0 -7.4 0M1136.8 308a3.7 3.7 0 1 0 7.4 0a3.7 3.7 0 1 0 -7.4 0M1146.9 298.9a3.7 3.7 0 1 0 7.4 0a3.7 3.7 0 1 0 -7.4 0M1157 287.1a3.7 3.7 0 1 0 7.4 0a3.7 3.7 0 1 0 -7.4 0M1167.1 268.1a3.7 3.7 0 1 0 7.4 0a3.7 3.7 0 1 0 -7.4 0M1177.2 250.1a3.7 3.7 0 1 0 7.4 0a3.7 3.7 0 1 0 -7.4 0M1187.3 226.8a3.7 3.7 0 1 0 7.4 0a3.7 3.7 0 1 0 -7.4 0M1197.4 205a3.7 3.7 0 1 0 7.4 0a3.7 3.7 0 1 0 -7.4 0M1207.6 182a3.7 3.7 0 1 0 7.4 0a3.7 3.7 0 1 0 -7.4 0M1217.7 159.9a3.7 3.7 0 1 0 7.4 0a3.7 3.7 0 1 0 -7.4 0M1227.8 137.3a3.7 3.7 0 1 0 7.4 0a3.7 3.7 0 1 0 -7.4 0M1237.9 120.8a3.7 3.7 0 1 0 7.4 0a3.7 3.7 0 1 0 -7.4 0M1248 107.1a3.7 3.7 0 1 0 7.4 0a3.7 3.7 0 1 0 -7.4 0M1258.1 96.8a3.7 3.7 0 1 0 7.4 0a3.7 3.7 0 1 0 -7.4 0M1268.2 90.3a3.7 3.7 0 1 0 7.4 0a3.7 3.7 0 1 0 -7.4 0M1278.4 85.2a3.7 3.7 0 1 0 7.4 0a3.7 3.7 0 1 0 -7.4 0M1288.5 83.4a3.7 3.7 0 1 0 7.4 0a3.7 3.7 0 1 0 -7.4 0M1298.6 80.4a3.7 3.7 0 1 0 7.4 0a3.7 3.7 0 1 0 -7.4 0" stroke="#f8ad88" stroke-width="1.9" fill="#fde8dd"/>
</g>
<g>
<path d="M847.1 315.8 857.2 316.9 867.3 317.8 877.5 318.7 887.6 319.3 897.7 319.7 907.8 319.6 917.9 319.9 928 319.9 938.1 319.5 948.3 319.6 958.4 319.2 968.5 320 978.6 320 988.7 320 998.8 319.7 1009 320 1019.1 319.3 1029.2 319.5 1039.3 319.1 1049.4 319.8 1059.5 319.1 1069.6 319.8 1079.8 319.3 1089.9 319.2 1100 319.8 1110.1 319.8 1120.2 320.1 1130.3 319.4 1140.5 319.6 1150.6 319.5 1160.7 320.1 1170.8 320.1 1180.9 319.4 1191 319.8 1201.1 319.1 1211.3 319.4 1221.4 319.7 1231.5 318.4 1241.6 317.6 1251.7 316.5 1261.8 313.9 1271.9 310.3 1282.1 304.7 1292.2 297.8 1302.3 288.8" stroke="#1c9029" stroke-width="1.7" fill="none" stroke-linejoin="round"/>
<path d="M841.8 311.3l10.6 9m0 -9l-10.6 9M851.9 312.4l10.6 9m0 -9l-10.6 9M862 313.3l10.6 9m0 -9l-10.6 9M872.2 314.2l10.6 9m0 -9l-10.6 9M882.3 314.8l10.6 9m0 -9l-10.6 9M892.4 315.2l10.6 9m0 -9l-10.6 9M902.5 315.1l10.6 9m0 -9l-10.6 9M912.6 315.4l10.6 9m0 -9l-10.6 9M922.7 315.4l10.6 9m0 -9l-10.6 9M932.9 315l10.6 9m0 -9l-10.6 9M943 315.1l10.6 9m0 -9l-10.6 9M953.1 314.7l10.6 9m0 -9l-10.6 9M963.2 315.5l10.6 9m0 -9l-10.6 9M973.3 315.5l10.6 9m0 -9l-10.6 9M983.4 315.5l10.6 9m0 -9l-10.6 9M993.5 315.2l10.6 9m0 -9l-10.6 9M1003.7 315.5l10.6 9m0 -9l-10.6 9M1013.8 314.8l10.6 9m0 -9l-10.6 9M1023.9 315l10.6 9m0 -9l-10.6 9M1034 314.6l10.6 9m0 -9l-10.6 9M1044.1 315.3l10.6 9m0 -9l-10.6 9M1054.2 314.6l10.6 9m0 -9l-10.6 9M1064.3 315.3l10.6 9m0 -9l-10.6 9M1074.5 314.8l10.6 9m0 -9l-10.6 9M1084.6 314.7l10.6 9m0 -9l-10.6 9M1094.7 315.3l10.6 9m0 -9l-10.6 9M1104.8 315.3l10.6 9m0 -9l-10.6 9M1114.9 315.6l10.6 9m0 -9l-10.6 9M1125 314.9l10.6 9m0 -9l-10.6 9M1135.2 315.1l10.6 9m0 -9l-10.6 9M1145.3 315l10.6 9m0 -9l-10.6 9M1155.4 315.6l10.6 9m0 -9l-10.6 9M1165.5 315.6l10.6 9m0 -9l-10.6 9M1175.6 314.9l10.6 9m0 -9l-10.6 9M1185.7 315.3l10.6 9m0 -9l-10.6 9M1195.8 314.6l10.6 9m0 -9l-10.6 9M1206 314.9l10.6 9m0 -9l-10.6 9M1216.1 315.2l10.6 9m0 -9l-10.6 9M1226.2 313.9l10.6 9m0 -9l-10.6 9M1236.3 313.1l10.6 9m0 -9l-10.6 9M1246.4 312l10.6 9m0 -9l-10.6 9M1256.5 309.4l10.6 9m0 -9l-10.6 9M1266.6 305.8l10.6 9m0 -9l-10.6 9M1276.8 300.2l10.6 9m0 -9l-10.6 9M1286.9 293.3l10.6 9m0 -9l-10.6 9M1297 284.3l10.6 9m0 -9l-10.6 9" stroke="#1c9029" stroke-width="1.2" fill="none"/>
</g>
<g>
<path d="M847.1 315.6 857.2 316.9 867.3 318.5 877.5 318.2 887.6 318.8 897.7 319 907.8 319 917.9 319.6 928 319.2 938.1 319.4 948.3 319.9 958.4 319.4 968.5 319.5 978.6 319.3 988.7 319.2 998.8 319.4 1009 319.5 1019.1 319.2 1029.2 319.9 1039.3 319.9 1049.4 319.4 1059.5 319.4 1069.6 319.1 1079.8 319.4 1089.9 319.6 1100 319.2 1110.1 320 1120.2 319.9 1130.3 319.1 1140.5 319.4 1150.6 319.5 1160.7 319.6 1170.8 320.1 1180.9 319.7 1191 319.9 1201.1 319.9 1211.3 319.4 1221.4 319.4 1231.5 318 1241.6 317.4 1251.7 315.3 1261.8 310.7 1271.9 305.2 1282.1 296.2 1292.2 286.6 1302.3 276.4" stroke="#1c9029" stroke-width="1.7" fill="none" stroke-linejoin="round"/>
<path d="M841.8 311.1l10.6 9m0 -9l-10.6 9M851.9 312.4l10.6 9m0 -9l-10.6 9M862 314l10.6 9m0 -9l-10.6 9M872.2 313.7l10.6 9m0 -9l-10.6 9M882.3 314.3l10.6 9m0 -9l-10.6 9M892.4 314.5l10.6 9m0 -9l-10.6 9M902.5 314.5l10.6 9m0 -9l-10.6 9M912.6 315.1l10.6 9m0 -9l-10.6 9M922.7 314.7l10.6 9m0 -9l-10.6 9M932.9 314.9l10.6 9m0 -9l-10.6 9M943 315.4l10.6 9m0 -9l-10.6 9M953.1 314.9l10.6 9m0 -9l-10.6 9M963.2 315l10.6 9m0 -9l-10.6 9M973.3 314.8l10.6 9m0 -9l-10.6 9M983.4 314.7l10.6 9m0 -9l-10.6 9M993.5 314.9l10.6 9m0 -9l-10.6 9M1003.7 315l10.6 9m0 -9l-10.6 9M1013.8 314.7l10.6 9m0 -9l-10.6 9M1023.9 315.4l10.6 9m0 -9l-10.6 9M1034 315.4l10.6 9m0 -9l-10.6 9M1044.1 314.9l10.6 9m0 -9l-10.6 9M1054.2 314.9l10.6 9m0 -9l-10.6 9M1064.3 314.6l10.6 9m0 -9l-10.6 9M1074.5 314.9l10.6 9m0 -9l-10.6 9M1084.6 315.1l10.6 9m0 -9l-10.6 9M1094.7 314.7l10.6 9m0 -9l-10.6 9M1104.8 315.5l10.6 9m0 -9l-10.6 9M1114.9 315.4l10.6 9m0 -9l-10.6 9M1125 314.6l10.6 9m0 -9l-10.6 9M1135.2 314.9l10.6 9m0 -9l-10.6 9M1145.3 315l10.6 9m0 -9l-10.6 9M1155.4 315.1l10.6 9m0 -9l-10.6 9M1165.5 315.6l10.6 9m0 -9l-10.6 9M1175.6 315.2l10.6 9m0 -9l-10.6 9M1185.7 315.4l10.6 9m0 -9l-10.6 9M1195.8 315.4l10.6 9m0 -9l-10.6 9M1206 314.9l10.6 9m0 -9l-10.6 9M1216.1 314.9l10.6 9m0 -9l-10.6 9M1226.2 313.5l10.6 9m0 -9l-10.6 9M1236.3 312.9l10.6 9m0 -9l-10.6 9M1246.4 310.8l10.6 9m0 -9l-10.6 9M1256.5 306.2l10.6 9m0 -9l-10.6 9M1266.6 300.7l10.6 9m0 -9l-10.6 9M1276.8 291.7l10.6 9m0 -9l-10.6 9M1286.9 282.1l10.6 9m0 -9l-10.6 9M1297 271.9l10.6 9m0 -9l-10.6 9" stroke="#1c9029" stroke-width="1.2" fill="none"/>
</g>
<g>
<path d="M847.1 315.8 857.2 316.6 867.3 317.8 877.5 319.1 887.6 318.9 897.7 319.6 907.8 319.8 917.9 319.1 928 319 938.1 319.5 948.3 319.4 958.4 320 968.5 320 978.6 319.8 988.7 320 998.8 319.3 1009 320 1019.1 319.6 1029.2 320.1 1039.3 319.9 1049.4 319.8 1059.5 319.6 1069.6 319.8 1079.8 319.5 1089.9 319.5 1100 320 1110.1 319.5 1120.2 320 1130.3 319 1140.5 318 1150.6 316.5 1160.7 314.4 1170.8 311.3 1180.9 305.3 1191 293 1201.1 279.3 1211.3 261.7 1221.4 240.8 1231.5 220.2 1241.6 198.3 1251.7 178.1 1261.8 158.8 1271.9 140.8 1282.1 126.4 1292.2 114.8 1302.3 108.5" stroke="#1c9029" stroke-width="1.7" fill="none" stroke-linejoin="round"/>
<path d="M843.4 315.8a3.7 3.7 0 1 0 7.4 0a3.7 3.7 0 1 0 -7.4 0M853.5 316.6a3.7 3.7 0 1 0 7.4 0a3.7 3.7 0 1 0 -7.4 0M863.6 317.8a3.7 3.7 0 1 0 7.4 0a3.7 3.7 0 1 0 -7.4 0M873.8 319.1a3.7 3.7 0 1 0 7.4 0a3.7 3.7 0 1 0 -7.4 0M883.9 318.9a3.7 3.7 0 1 0 7.4 0a3.7 3.7 0 1 0 -7.4 0M894 319.6a3.7 3.7 0 1 0 7.4 0a3.7 3.7 0 1 0 -7.4 0M904.1 319.8a3.7 3.7 0 1 0 7.4 0a3.7 3.7 0 1 0 -7.4 0M914.2 319.1a3.7 3.7 0 1 0 7.4 0a3.7 3.7 0 1 0 -7.4 0M924.3 319a3.7 3.7 0 1 0 7.4 0a3.7 3.7 0 1 0 -7.4 0M934.4 319.5a3.7 3.7 0 1 0 7.4 0a3.7 3.7 0 1 0 -7.4 0M944.6 319.4a3.7 3.7 0 1 0 7.4 0a3.7 3.7 0 1 0 -7.4 0M954.7 320a3.7 3.7 0 1 0 7.4 0a3.7 3.7 0 1 0 -7.4 0M964.8 320a3.7 3.7 0 1 0 7.4 0a3.7 3.7 0 1 0 -7.4 0M974.9 319.8a3.7 3.7 0 1 0 7.4 0a3.7 3.7 0 1 0 -7.4 0M985 320a3.7 3.7 0 1 0 7.4 0a3.7 3.7 0 1 0 -7.4 0M995.1 319.3a3.7 3.7 0 1 0 7.4 0a3.7 3.7 0 1 0 -7.4 0M1005.3 320a3.7 3.7 0 1 0 7.4 0a3.7 3.7 0 1 0 -7.4 0M1015.4 319.6a3.7 3.7 0 1 0 7.4 0a3.7 3.7 0 1 0 -7.4 0M1025.5 320.1a3.7 3.7 0 1 0 7.4 0a3.7 3.7 0 1 0 -7.4 0M1035.6 319.9a3.7 3.7 0 1 0 7.4 0a3.7 3.7 0 1 0 -7.4 0M1045.7 319.8a3.7 3.7 0 1 0 7.4 0a3.7 3.7 0 1 0 -7.4 0M1055.8 319.6a3.7 3.7 0 1 0 7.4 0a3.7 3.7 0 1 0 -7.4 0M1065.9 319.8a3.7 3.7 0 1 0 7.4 0a3.7 3.7 0 1 0 -7.4 0M1076.1 319.5a3.7 3.7 0 1 0 7.4 0a3.7 3.7 0 1 0 -7.4 0M1086.2 319.5a3.7 3.7 0 1 0 7.4 0a3.7 3.7 0 1 0 -7.4 0M1096.3 320a3.7 3.7 0 1 0 7.4 0a3.7 3.7 0 1 0 -7.4 0M1106.4 319.5a3.7 3.7 0 1 0 7.4 0a3.7 3.7 0 1 0 -7.4 0M1116.5 320a3.7 3.7 0 1 0 7.4 0a3.7 3.7 0 1 0 -7.4 0M1126.6 319a3.7 3.7 0 1 0 7.4 0a3.7 3.7 0 1 0 -7.4 0M1136.8 318a3.7 3.7 0 1 0 7.4 0a3.7 3.7 0 1 0 -7.4 0M1146.9 316.5a3.7 3.7 0 1 0 7.4 0a3.7 3.7 0 1 0 -7.4 0M1157 314.4a3.7 3.7 0 1 0 7.4 0a3.7 3.7 0 1 0 -7.4 0M1167.1 311.3a3.7 3.7 0 1 0 7.4 0a3.7 3.7 0 1 0 -7.4 0M1177.2 305.3a3.7 3.7 0 1 0 7.4 0a3.7 3.7 0 1 0 -7.4 0M1187.3 293a3.7 3.7 0 1 0 7.4 0a3.7 3.7 0 1 0 -7.4 0M1197.4 279.3a3.7 3.7 0 1 0 7.4 0a3.7 3.7 0 1 0 -7.4 0M1207.6 261.7a3.7 3.7 0 1 0 7.4 0a3.7 3.7 0 1 0 -7.4 0M1217.7 240.8a3.7 3.7 0 1 0 7.4 0a3.7 3.7 0 1 0 -7.4 0M1227.8 220.2a3.7 3.7 0 1 0 7.4 0a3.7 3.7 0 1 0 -7.4 0M1237.9 198.3a3.7 3.7 0 1 0 7.4 0a3.7 3.7 0 1 0 -7.4 0M1248 178.1a3.7 3.7 0 1 0 7.4 0a3.7 3.7 0 1 0 -7.4 0M1258.1 158.8a3.7 3.7 0 1 0 7.4 0a3.7 3.7 0 1 0 -7.4 0M1268.2 140.8a3.7 3.7 0 1 0 7.4 0a3.7 3.7 0 1 0 -7.4 0M1278.4 126.4a3.7 3.7 0 1 0 7.4 0a3.7 3.7 0 1 0 -7.4 0M1288.5 114.8a3.7 3.7 0 1 0 7.4 0a3.7 3.7 0 1 0 -7.4 0M1298.6 108.5a3.7 3.7 0 1 0 7.4 0a3.7 3.7 0 1 0 -7.4 0" stroke="#1c9029" stroke-width="1.9" fill="#60b169"/>
</g>
<g>
<path d="M847.1 317.8 857.2 318.5 867.3 319.2 877.5 319.1 887.6 319.2 897.7 319.6 907.8 319.6 917.9 319.5 928 319.8 938.1 319.7 948.3 319.5 958.4 319.6 968.5 319.3 978.6 319.3 988.7 319.4 998.8 319.5 1009 319.8 1019.1 319.3 1029.2 319.4 1039.3 319.8 1049.4 319.9 1059.5 319.6 1069.6 319.6 1079.8 319.6 1089.9 319.4 1100 319.3 1110.1 319.6 1120.2 318.9 1130.3 318.4 1140.5 319.2 1150.6 318.4 1160.7 318.3 1170.8 317.9 1180.9 318.5 1191 318 1201.1 318.5 1211.3 318.3 1221.4 317.6 1231.5 317.9 1241.6 317.8 1251.7 316.9 1261.8 317 1271.9 316.7 1282.1 316.6 1292.2 316 1302.3 316" stroke="#555" stroke-width="1.6" fill="none" stroke-linejoin="round"/>
</g>
<g>
<path d="M847.1 317.4 857.2 318.4 867.3 318.9 877.5 319 887.6 319.3 897.7 319.7 907.8 319.9 917.9 319.8 928 319.1 938.1 319.1 948.3 319.4 958.4 319.8 968.5 319.5 978.6 319.3 988.7 319.3 998.8 320.1 1009 319.1 1019.1 319.3 1029.2 319.5 1039.3 319.2 1049.4 320 1059.5 319.9 1069.6 319.3 1079.8 319.6 1089.9 319.2 1100 319.1 1110.1 318.8 1120.2 319.4 1130.3 319.1 1140.5 318.5 1150.6 318.9 1160.7 319.3 1170.8 319.1 1180.9 318.6 1191 318.8 1201.1 318.4 1211.3 318.3 1221.4 318.6 1231.5 318.4 1241.6 317.4 1251.7 317.6 1261.8 317.5 1271.9 317.5 1282.1 316.9 1292.2 317.1 1302.3 316.6" stroke="#333" stroke-width="2.2" fill="none" stroke-linejoin="round"/>
</g>
<path d="M847.1 302.2H1302.3" stroke="#c4202a" stroke-width="2.4" fill="none"/>
</g>
<text x="11.9" y="434.8" font-size="20" font-weight="bold" text-anchor="start" fill="#111" textLength="587.5" lengthAdjust="spacingAndGlyphs">Omicron results: Mixed-base vs. Omicron-based Primers</text>
<rect x="11.9" y="437.6" width="587.5" height="1.6" fill="#333"/>
<text x="248.3" y="463" font-size="13.9" font-weight="bold" text-anchor="start" fill="#2a2a2a" textLength="108" lengthAdjust="spacingAndGlyphs" stroke="#2a2a2a" stroke-width="0.25" letter-spacing="0.8">Amplification</text>
<path d="M189.2 482.7V734M290.3 482.7V734M391.4 482.7V734M492.5 482.7V734" stroke="#8c8c8c" stroke-width="2.1" stroke-dasharray="0 7" stroke-linecap="round" fill="none"/>
<path d="M94.9 728.6H574M94.9 685.2H574M94.9 641.8H574M94.9 598.5H574M94.9 555.1H574M94.9 511.7H574" stroke="#8c8c8c" stroke-width="2.1" stroke-dasharray="0 7.9" stroke-linecap="round" fill="none"/>
<path d="M81.9 728.6H92.9M570 728.6H577M85.4 719.9H90.4M574 719.9H577M85.4 711.2H90.4M574 711.2H577M85.4 702.6H90.4M574 702.6H577M85.4 693.9H90.4M574 693.9H577M81.9 685.2H92.9M570 685.2H577M85.4 676.5H90.4M574 676.5H577M85.4 667.9H90.4M574 667.9H577M85.4 659.2H90.4M574 659.2H577M85.4 650.5H90.4M574 650.5H577M81.9 641.8H92.9M570 641.8H577M85.4 633.2H90.4M574 633.2H577M85.4 624.5H90.4M574 624.5H577M85.4 615.8H90.4M574 615.8H577M85.4 607.1H90.4M574 607.1H577M81.9 598.5H92.9M570 598.5H577M85.4 589.8H90.4M574 589.8H577M85.4 581.1H90.4M574 581.1H577M85.4 572.4H90.4M574 572.4H577M85.4 563.8H90.4M574 563.8H577M81.9 555.1H92.9M570 555.1H577M85.4 546.4H90.4M574 546.4H577M85.4 537.7H90.4M574 537.7H577M85.4 529.1H90.4M574 529.1H577M85.4 520.4H90.4M574 520.4H577M81.9 511.7H92.9M570 511.7H577M85.4 503H90.4M574 503H577M85.4 494.3H90.4M574 494.3H577M85.4 485.7H90.4M574 485.7H577M108.3 735V739.5M108.3 477.7V480.7M128.5 735V739.5M128.5 477.7V480.7M148.8 735V739.5M148.8 477.7V480.7M169 735V739.5M169 477.7V480.7M189.2 733V742M189.2 477.7V482.7M209.4 735V739.5M209.4 477.7V480.7M229.6 735V739.5M229.6 477.7V480.7M249.9 735V739.5M249.9 477.7V480.7M270.1 735V739.5M270.1 477.7V480.7M290.3 733V742M290.3 477.7V482.7M310.5 735V739.5M310.5 477.7V480.7M330.7 735V739.5M330.7 477.7V480.7M351 735V739.5M351 477.7V480.7M371.2 735V739.5M371.2 477.7V480.7M391.4 733V742M391.4 477.7V482.7M411.6 735V739.5M411.6 477.7V480.7M431.8 735V739.5M431.8 477.7V480.7M452.1 735V739.5M452.1 477.7V480.7M472.3 735V739.5M472.3 477.7V480.7M492.5 733V742M492.5 477.7V482.7M512.7 735V739.5M512.7 477.7V480.7M532.9 735V739.5M532.9 477.7V480.7M553.2 735V739.5M553.2 477.7V480.7M573.4 735V739.5M573.4 477.7V480.7" stroke="#111" stroke-width="1.6" fill="none"/>
<rect x="87.9" y="477.7" width="489.1" height="259.3" fill="none" stroke="#222" stroke-width="1.8"/>
<text x="72.5" y="731.8" font-size="12.8" font-weight="normal" text-anchor="end" fill="#3a3a3a" textLength="7.5" lengthAdjust="spacingAndGlyphs" stroke="#3a3a3a" stroke-width="0.35">0</text>
<text x="72.5" y="688.4" font-size="12.8" font-weight="normal" text-anchor="end" fill="#3a3a3a" textLength="30.2" lengthAdjust="spacingAndGlyphs" stroke="#3a3a3a" stroke-width="0.35">1000</text>
<text x="72.5" y="645" font-size="12.8" font-weight="normal" text-anchor="end" fill="#3a3a3a" textLength="30.2" lengthAdjust="spacingAndGlyphs" stroke="#3a3a3a" stroke-width="0.35">2000</text>
<text x="72.5" y="601.7" font-size="12.8" font-weight="normal" text-anchor="end" fill="#3a3a3a" textLength="30.2" lengthAdjust="spacingAndGlyphs" stroke="#3a3a3a" stroke-width="0.35">3000</text>
<text x="72.5" y="558.3" font-size="12.8" font-weight="normal" text-anchor="end" fill="#3a3a3a" textLength="30.2" lengthAdjust="spacingAndGlyphs" stroke="#3a3a3a" stroke-width="0.35">4000</text>
<text x="72.5" y="514.9" font-size="12.8" font-weight="normal" text-anchor="end" fill="#3a3a3a" textLength="30.2" lengthAdjust="spacingAndGlyphs" stroke="#3a3a3a" stroke-width="0.35">5000</text>
<text x="88.1" y="757.4" font-size="12.8" font-weight="normal" text-anchor="middle" fill="#3a3a3a" textLength="7.5" lengthAdjust="spacingAndGlyphs" stroke="#3a3a3a" stroke-width="0.35">0</text>
<text x="189.2" y="757.4" font-size="12.8" font-weight="normal" text-anchor="middle" fill="#3a3a3a" textLength="15.1" lengthAdjust="spacingAndGlyphs" stroke="#3a3a3a" stroke-width="0.35">10</text>
<text x="290.3" y="757.4" font-size="12.8" font-weight="normal" text-anchor="middle" fill="#3a3a3a" textLength="15.1" lengthAdjust="spacingAndGlyphs" stroke="#3a3a3a" stroke-width="0.35">20</text>
<text x="391.4" y="757.4" font-size="12.8" font-weight="normal" text-anchor="middle" fill="#3a3a3a" textLength="15.1" lengthAdjust="spacingAndGlyphs" stroke="#3a3a3a" stroke-width="0.35">30</text>
<text x="492.5" y="757.4" font-size="12.8" font-weight="normal" text-anchor="middle" fill="#3a3a3a" textLength="15.1" lengthAdjust="spacingAndGlyphs" stroke="#3a3a3a" stroke-width="0.35">40</text>
<text x="331.7" y="777.2" font-size="12" font-weight="bold" text-anchor="middle" fill="#222" textLength="45.4" lengthAdjust="spacingAndGlyphs" stroke="#222" stroke-width="0.25" letter-spacing="0.9">Cycles</text>
<text x="0" y="0" font-size="14.2" font-weight="bold" fill="#222" stroke="#222" stroke-width="0.4" text-anchor="middle" textLength="26.6" lengthAdjust="spacingAndGlyphs" transform="translate(29.3 608.1) rotate(-90)">RFU</text>
<clipPath id="cp3"><rect x="87.9" y="477.7" width="489.1" height="259.3"/></clipPath>
<g clip-path="url(#cp3)">
<g>
<path d="M98.2 730.2 108.3 729.9 118.4 729.8 128.5 729.2 138.6 728.5 148.8 728.9 158.9 728.6 169 729 179.1 728.7 189.2 728.8 199.3 729 209.4 728.9 219.5 729 229.6 728.2 239.7 728.6 249.9 728.6 260 728.3 270.1 728.4 280.2 728.8 290.3 728.2 300.4 728.5 310.5 728.1 320.6 728.8 330.7 728.8 340.9 729.1 351 728.3 361.1 728.5 371.2 728.3 381.3 728.3 391.4 727.1 401.5 726.6 411.6 725.9 421.7 725.6 431.8 723.7 441.9 722.3 452.1 721 462.2 719.3 472.3 716.3 482.4 709.8 492.5 692 502.6 674 512.7 656.9 522.8 639.3 532.9 622.6 543 604.6 553.2 585.5" stroke="#3ce4ef" stroke-width="1.7" fill="none" stroke-linejoin="round"/>
<path d="M94.5 730.2a3.7 3.7 0 1 0 7.4 0a3.7 3.7 0 1 0 -7.4 0M104.6 729.9a3.7 3.7 0 1 0 7.4 0a3.7 3.7 0 1 0 -7.4 0M114.7 729.8a3.7 3.7 0 1 0 7.4 0a3.7 3.7 0 1 0 -7.4 0M124.8 729.2a3.7 3.7 0 1 0 7.4 0a3.7 3.7 0 1 0 -7.4 0M134.9 728.5a3.7 3.7 0 1 0 7.4 0a3.7 3.7 0 1 0 -7.4 0M145.1 728.9a3.7 3.7 0 1 0 7.4 0a3.7 3.7 0 1 0 -7.4 0M155.2 728.6a3.7 3.7 0 1 0 7.4 0a3.7 3.7 0 1 0 -7.4 0M165.3 729a3.7 3.7 0 1 0 7.4 0a3.7 3.7 0 1 0 -7.4 0M175.4 728.7a3.7 3.7 0 1 0 7.4 0a3.7 3.7 0 1 0 -7.4 0M185.5 728.8a3.7 3.7 0 1 0 7.4 0a3.7 3.7 0 1 0 -7.4 0M195.6 729a3.7 3.7 0 1 0 7.4 0a3.7 3.7 0 1 0 -7.4 0M205.7 728.9a3.7 3.7 0 1 0 7.4 0a3.7 3.7 0 1 0 -7.4 0M215.8 729a3.7 3.7 0 1 0 7.4 0a3.7 3.7 0 1 0 -7.4 0M225.9 728.2a3.7 3.7 0 1 0 7.4 0a3.7 3.7 0 1 0 -7.4 0M236 728.6a3.7 3.7 0 1 0 7.4 0a3.7 3.7 0 1 0 -7.4 0M246.2 728.6a3.7 3.7 0 1 0 7.4 0a3.7 3.7 0 1 0 -7.4 0M256.3 728.3a3.7 3.7 0 1 0 7.4 0a3.7 3.7 0 1 0 -7.4 0M266.4 728.4a3.7 3.7 0 1 0 7.4 0a3.7 3.7 0 1 0 -7.4 0M276.5 728.8a3.7 3.7 0 1 0 7.4 0a3.7 3.7 0 1 0 -7.4 0M286.6 728.2a3.7 3.7 0 1 0 7.4 0a3.7 3.7 0 1 0 -7.4 0M296.7 728.5a3.7 3.7 0 1 0 7.4 0a3.7 3.7 0 1 0 -7.4 0M306.8 728.1a3.7 3.7 0 1 0 7.4 0a3.7 3.7 0 1 0 -7.4 0M316.9 728.8a3.7 3.7 0 1 0 7.4 0a3.7 3.7 0 1 0 -7.4 0M327 728.8a3.7 3.7 0 1 0 7.4 0a3.7 3.7 0 1 0 -7.4 0M337.2 729.1a3.7 3.7 0 1 0 7.4 0a3.7 3.7 0 1 0 -7.4 0M347.3 728.3a3.7 3.7 0 1 0 7.4 0a3.7 3.7 0 1 0 -7.4 0M357.4 728.5a3.7 3.7 0 1 0 7.4 0a3.7 3.7 0 1 0 -7.4 0M367.5 728.3a3.7 3.7 0 1 0 7.4 0a3.7 3.7 0 1 0 -7.4 0M377.6 728.3a3.7 3.7 0 1 0 7.4 0a3.7 3.7 0 1 0 -7.4 0M387.7 727.1a3.7 3.7 0 1 0 7.4 0a3.7 3.7 0 1 0 -7.4 0M397.8 726.6a3.7 3.7 0 1 0 7.4 0a3.7 3.7 0 1 0 -7.4 0M407.9 725.9a3.7 3.7 0 1 0 7.4 0a3.7 3.7 0 1 0 -7.4 0M418 725.6a3.7 3.7 0 1 0 7.4 0a3.7 3.7 0 1 0 -7.4 0M428.1 723.7a3.7 3.7 0 1 0 7.4 0a3.7 3.7 0 1 0 -7.4 0M438.2 722.3a3.7 3.7 0 1 0 7.4 0a3.7 3.7 0 1 0 -7.4 0M448.4 721a3.7 3.7 0 1 0 7.4 0a3.7 3.7 0 1 0 -7.4 0M458.5 719.3a3.7 3.7 0 1 0 7.4 0a3.7 3.7 0 1 0 -7.4 0M468.6 716.3a3.7 3.7 0 1 0 7.4 0a3.7 3.7 0 1 0 -7.4 0M478.7 709.8a3.7 3.7 0 1 0 7.4 0a3.7 3.7 0 1 0 -7.4 0M488.8 692a3.7 3.7 0 1 0 7.4 0a3.7 3.7 0 1 0 -7.4 0M498.9 674a3.7 3.7 0 1 0 7.4 0a3.7 3.7 0 1 0 -7.4 0M509 656.9a3.7 3.7 0 1 0 7.4 0a3.7 3.7 0 1 0 -7.4 0M519.1 639.3a3.7 3.7 0 1 0 7.4 0a3.7 3.7 0 1 0 -7.4 0M529.2 622.6a3.7 3.7 0 1 0 7.4 0a3.7 3.7 0 1 0 -7.4 0M539.3 604.6a3.7 3.7 0 1 0 7.4 0a3.7 3.7 0 1 0 -7.4 0M549.5 585.5a3.7 3.7 0 1 0 7.4 0a3.7 3.7 0 1 0 -7.4 0" stroke="#3ce4ef" stroke-width="1.9" fill="#a7f2f7"/>
</g>
<g>
<path d="M98.2 730.4 108.3 729.4 118.4 729.3 128.5 729.1 138.6 729.2 148.8 728.6 158.9 729 169 728.2 179.1 728.9 189.2 728.1 199.3 729 209.4 728.7 219.5 728.6 229.6 728.1 239.7 728.2 249.9 728.8 260 728.5 270.1 728.2 280.2 728.9 290.3 728.3 300.4 728.3 310.5 728.1 320.6 728.9 330.7 728.4 340.9 728.6 351 728.1 361.1 728.3 371.2 729.1 381.3 727.7 391.4 727 401.5 726.9 411.6 725.3 421.7 725 431.8 722.9 441.9 721.8 452.1 720.6 462.2 717.9 472.3 714.9 482.4 705.1 492.5 682.9 502.6 667.4 512.7 648.7 522.8 630.9 532.9 611.6 543 595 553.2 571.1" stroke="#3ce4ef" stroke-width="1.7" fill="none" stroke-linejoin="round"/>
<path d="M94.5 730.4a3.7 3.7 0 1 0 7.4 0a3.7 3.7 0 1 0 -7.4 0M104.6 729.4a3.7 3.7 0 1 0 7.4 0a3.7 3.7 0 1 0 -7.4 0M114.7 729.3a3.7 3.7 0 1 0 7.4 0a3.7 3.7 0 1 0 -7.4 0M124.8 729.1a3.7 3.7 0 1 0 7.4 0a3.7 3.7 0 1 0 -7.4 0M134.9 729.2a3.7 3.7 0 1 0 7.4 0a3.7 3.7 0 1 0 -7.4 0M145.1 728.6a3.7 3.7 0 1 0 7.4 0a3.7 3.7 0 1 0 -7.4 0M155.2 729a3.7 3.7 0 1 0 7.4 0a3.7 3.7 0 1 0 -7.4 0M165.3 728.2a3.7 3.7 0 1 0 7.4 0a3.7 3.7 0 1 0 -7.4 0M175.4 728.9a3.7 3.7 0 1 0 7.4 0a3.7 3.7 0 1 0 -7.4 0M185.5 728.1a3.7 3.7 0 1 0 7.4 0a3.7 3.7 0 1 0 -7.4 0M195.6 729a3.7 3.7 0 1 0 7.4 0a3.7 3.7 0 1 0 -7.4 0M205.7 728.7a3.7 3.7 0 1 0 7.4 0a3.7 3.7 0 1 0 -7.4 0M215.8 728.6a3.7 3.7 0 1 0 7.4 0a3.7 3.7 0 1 0 -7.4 0M225.9 728.1a3.7 3.7 0 1 0 7.4 0a3.7 3.7 0 1 0 -7.4 0M236 728.2a3.7 3.7 0 1 0 7.4 0a3.7 3.7 0 1 0 -7.4 0M246.2 728.8a3.7 3.7 0 1 0 7.4 0a3.7 3.7 0 1 0 -7.4 0M256.3 728.5a3.7 3.7 0 1 0 7.4 0a3.7 3.7 0 1 0 -7.4 0M266.4 728.2a3.7 3.7 0 1 0 7.4 0a3.7 3.7 0 1 0 -7.4 0M276.5 728.9a3.7 3.7 0 1 0 7.4 0a3.7 3.7 0 1 0 -7.4 0M286.6 728.3a3.7 3.7 0 1 0 7.4 0a3.7 3.7 0 1 0 -7.4 0M296.7 728.3a3.7 3.7 0 1 0 7.4 0a3.7 3.7 0 1 0 -7.4 0M306.8 728.1a3.7 3.7 0 1 0 7.4 0a3.7 3.7 0 1 0 -7.4 0M316.9 728.9a3.7 3.7 0 1 0 7.4 0a3.7 3.7 0 1 0 -7.4 0M327 728.4a3.7 3.7 0 1 0 7.4 0a3.7 3.7 0 1 0 -7.4 0M337.2 728.6a3.7 3.7 0 1 0 7.4 0a3.7 3.7 0 1 0 -7.4 0M347.3 728.1a3.7 3.7 0 1 0 7.4 0a3.7 3.7 0 1 0 -7.4 0M357.4 728.3a3.7 3.7 0 1 0 7.4 0a3.7 3.7 0 1 0 -7.4 0M367.5 729.1a3.7 3.7 0 1 0 7.4 0a3.7 3.7 0 1 0 -7.4 0M377.6 727.7a3.7 3.7 0 1 0 7.4 0a3.7 3.7 0 1 0 -7.4 0M387.7 727a3.7 3.7 0 1 0 7.4 0a3.7 3.7 0 1 0 -7.4 0M397.8 726.9a3.7 3.7 0 1 0 7.4 0a3.7 3.7 0 1 0 -7.4 0M407.9 725.3a3.7 3.7 0 1 0 7.4 0a3.7 3.7 0 1 0 -7.4 0M418 725a3.7 3.7 0 1 0 7.4 0a3.7 3.7 0 1 0 -7.4 0M428.1 722.9a3.7 3.7 0 1 0 7.4 0a3.7 3.7 0 1 0 -7.4 0M438.2 721.8a3.7 3.7 0 1 0 7.4 0a3.7 3.7 0 1 0 -7.4 0M448.4 720.6a3.7 3.7 0 1 0 7.4 0a3.7 3.7 0 1 0 -7.4 0M458.5 717.9a3.7 3.7 0 1 0 7.4 0a3.7 3.7 0 1 0 -7.4 0M468.6 714.9a3.7 3.7 0 1 0 7.4 0a3.7 3.7 0 1 0 -7.4 0M478.7 705.1a3.7 3.7 0 1 0 7.4 0a3.7 3.7 0 1 0 -7.4 0M488.8 682.9a3.7 3.7 0 1 0 7.4 0a3.7 3.7 0 1 0 -7.4 0M498.9 667.4a3.7 3.7 0 1 0 7.4 0a3.7 3.7 0 1 0 -7.4 0M509 648.7a3.7 3.7 0 1 0 7.4 0a3.7 3.7 0 1 0 -7.4 0M519.1 630.9a3.7 3.7 0 1 0 7.4 0a3.7 3.7 0 1 0 -7.4 0M529.2 611.6a3.7 3.7 0 1 0 7.4 0a3.7 3.7 0 1 0 -7.4 0M539.3 595a3.7 3.7 0 1 0 7.4 0a3.7 3.7 0 1 0 -7.4 0M549.5 571.1a3.7 3.7 0 1 0 7.4 0a3.7 3.7 0 1 0 -7.4 0" stroke="#3ce4ef" stroke-width="1.9" fill="#a7f2f7"/>
</g>
<g>
<path d="M98.2 729.9 108.3 729.7 118.4 729.2 128.5 729.1 138.6 729.2 148.8 729.3 158.9 728.8 169 728.7 179.1 728.4 189.2 728.8 199.3 728.1 209.4 729 219.5 728.4 229.6 729.1 239.7 728.9 249.9 729 260 728.1 270.1 728.4 280.2 728.5 290.3 728.2 300.4 728.1 310.5 728.7 320.6 728.2 330.7 728.8 340.9 728.4 351 728.3 361.1 728.7 371.2 728.4 381.3 728 391.4 727.9 401.5 726.6 411.6 726.5 421.7 725.6 431.8 724.5 441.9 723.2 452.1 721 462.2 719.8 472.3 716.5 482.4 710.3 492.5 696 502.6 681.4 512.7 663.8 522.8 645.1 532.9 625 543 604.3 553.2 587.7" stroke="#3ce4ef" stroke-width="1.7" fill="none" stroke-linejoin="round"/>
<path d="M94.5 729.9a3.7 3.7 0 1 0 7.4 0a3.7 3.7 0 1 0 -7.4 0M104.6 729.7a3.7 3.7 0 1 0 7.4 0a3.7 3.7 0 1 0 -7.4 0M114.7 729.2a3.7 3.7 0 1 0 7.4 0a3.7 3.7 0 1 0 -7.4 0M124.8 729.1a3.7 3.7 0 1 0 7.4 0a3.7 3.7 0 1 0 -7.4 0M134.9 729.2a3.7 3.7 0 1 0 7.4 0a3.7 3.7 0 1 0 -7.4 0M145.1 729.3a3.7 3.7 0 1 0 7.4 0a3.7 3.7 0 1 0 -7.4 0M155.2 728.8a3.7 3.7 0 1 0 7.4 0a3.7 3.7 0 1 0 -7.4 0M165.3 728.7a3.7 3.7 0 1 0 7.4 0a3.7 3.7 0 1 0 -7.4 0M175.4 728.4a3.7 3.7 0 1 0 7.4 0a3.7 3.7 0 1 0 -7.4 0M185.5 728.8a3.7 3.7 0 1 0 7.4 0a3.7 3.7 0 1 0 -7.4 0M195.6 728.1a3.7 3.7 0 1 0 7.4 0a3.7 3.7 0 1 0 -7.4 0M205.7 729a3.7 3.7 0 1 0 7.4 0a3.7 3.7 0 1 0 -7.4 0M215.8 728.4a3.7 3.7 0 1 0 7.4 0a3.7 3.7 0 1 0 -7.4 0M225.9 729.1a3.7 3.7 0 1 0 7.4 0a3.7 3.7 0 1 0 -7.4 0M236 728.9a3.7 3.7 0 1 0 7.4 0a3.7 3.7 0 1 0 -7.4 0M246.2 729a3.7 3.7 0 1 0 7.4 0a3.7 3.7 0 1 0 -7.4 0M256.3 728.1a3.7 3.7 0 1 0 7.4 0a3.7 3.7 0 1 0 -7.4 0M266.4 728.4a3.7 3.7 0 1 0 7.4 0a3.7 3.7 0 1 0 -7.4 0M276.5 728.5a3.7 3.7 0 1 0 7.4 0a3.7 3.7 0 1 0 -7.4 0M286.6 728.2a3.7 3.7 0 1 0 7.4 0a3.7 3.7 0 1 0 -7.4 0M296.7 728.1a3.7 3.7 0 1 0 7.4 0a3.7 3.7 0 1 0 -7.4 0M306.8 728.7a3.7 3.7 0 1 0 7.4 0a3.7 3.7 0 1 0 -7.4 0M316.9 728.2a3.7 3.7 0 1 0 7.4 0a3.7 3.7 0 1 0 -7.4 0M327 728.8a3.7 3.7 0 1 0 7.4 0a3.7 3.7 0 1 0 -7.4 0M337.2 728.4a3.7 3.7 0 1 0 7.4 0a3.7 3.7 0 1 0 -7.4 0M347.3 728.3a3.7 3.7 0 1 0 7.4 0a3.7 3.7 0 1 0 -7.4 0M357.4 728.7a3.7 3.7 0 1 0 7.4 0a3.7 3.7 0 1 0 -7.4 0M367.5 728.4a3.7 3.7 0 1 0 7.4 0a3.7 3.7 0 1 0 -7.4 0M377.6 728a3.7 3.7 0 1 0 7.4 0a3.7 3.7 0 1 0 -7.4 0M387.7 727.9a3.7 3.7 0 1 0 7.4 0a3.7 3.7 0 1 0 -7.4 0M397.8 726.6a3.7 3.7 0 1 0 7.4 0a3.7 3.7 0 1 0 -7.4 0M407.9 726.5a3.7 3.7 0 1 0 7.4 0a3.7 3.7 0 1 0 -7.4 0M418 725.6a3.7 3.7 0 1 0 7.4 0a3.7 3.7 0 1 0 -7.4 0M428.1 724.5a3.7 3.7 0 1 0 7.4 0a3.7 3.7 0 1 0 -7.4 0M438.2 723.2a3.7 3.7 0 1 0 7.4 0a3.7 3.7 0 1 0 -7.4 0M448.4 721a3.7 3.7 0 1 0 7.4 0a3.7 3.7 0 1 0 -7.4 0M458.5 719.8a3.7 3.7 0 1 0 7.4 0a3.7 3.7 0 1 0 -7.4 0M468.6 716.5a3.7 3.7 0 1 0 7.4 0a3.7 3.7 0 1 0 -7.4 0M478.7 710.3a3.7 3.7 0 1 0 7.4 0a3.7 3.7 0 1 0 -7.4 0M488.8 696a3.7 3.7 0 1 0 7.4 0a3.7 3.7 0 1 0 -7.4 0M498.9 681.4a3.7 3.7 0 1 0 7.4 0a3.7 3.7 0 1 0 -7.4 0M509 663.8a3.7 3.7 0 1 0 7.4 0a3.7 3.7 0 1 0 -7.4 0M519.1 645.1a3.7 3.7 0 1 0 7.4 0a3.7 3.7 0 1 0 -7.4 0M529.2 625a3.7 3.7 0 1 0 7.4 0a3.7 3.7 0 1 0 -7.4 0M539.3 604.3a3.7 3.7 0 1 0 7.4 0a3.7 3.7 0 1 0 -7.4 0M549.5 587.7a3.7 3.7 0 1 0 7.4 0a3.7 3.7 0 1 0 -7.4 0" stroke="#3ce4ef" stroke-width="1.9" fill="#a7f2f7"/>
</g>
<g>
<path d="M98.2 730.8 108.3 729.2 118.4 729.6 128.5 728.5 138.6 728.4 148.8 729 158.9 728.7 169 728.8 179.1 728.7 189.2 728.3 199.3 728.3 209.4 728.9 219.5 728.6 229.6 728.4 239.7 728.5 249.9 729 260 728.7 270.1 728.6 280.2 728.2 290.3 728.3 300.4 728.4 310.5 728.8 320.6 728.1 330.7 728.9 340.9 728.8 351 729 361.1 728.5 371.2 728.3 381.3 727.9 391.4 727 401.5 726.4 411.6 725.6 421.7 725 431.8 722.9 441.9 721.4 452.1 719.9 462.2 717.7 472.3 713.5 482.4 695.4 492.5 670.4 502.6 649.8 512.7 627.1 522.8 602.6 532.9 579 543 559 553.2 535.8" stroke="#3ce4ef" stroke-width="1.7" fill="none" stroke-linejoin="round"/>
<path d="M94.5 730.8a3.7 3.7 0 1 0 7.4 0a3.7 3.7 0 1 0 -7.4 0M104.6 729.2a3.7 3.7 0 1 0 7.4 0a3.7 3.7 0 1 0 -7.4 0M114.7 729.6a3.7 3.7 0 1 0 7.4 0a3.7 3.7 0 1 0 -7.4 0M124.8 728.5a3.7 3.7 0 1 0 7.4 0a3.7 3.7 0 1 0 -7.4 0M134.9 728.4a3.7 3.7 0 1 0 7.4 0a3.7 3.7 0 1 0 -7.4 0M145.1 729a3.7 3.7 0 1 0 7.4 0a3.7 3.7 0 1 0 -7.4 0M155.2 728.7a3.7 3.7 0 1 0 7.4 0a3.7 3.7 0 1 0 -7.4 0M165.3 728.8a3.7 3.7 0 1 0 7.4 0a3.7 3.7 0 1 0 -7.4 0M175.4 728.7a3.7 3.7 0 1 0 7.4 0a3.7 3.7 0 1 0 -7.4 0M185.5 728.3a3.7 3.7 0 1 0 7.4 0a3.7 3.7 0 1 0 -7.4 0M195.6 728.3a3.7 3.7 0 1 0 7.4 0a3.7 3.7 0 1 0 -7.4 0M205.7 728.9a3.7 3.7 0 1 0 7.4 0a3.7 3.7 0 1 0 -7.4 0M215.8 728.6a3.7 3.7 0 1 0 7.4 0a3.7 3.7 0 1 0 -7.4 0M225.9 728.4a3.7 3.7 0 1 0 7.4 0a3.7 3.7 0 1 0 -7.4 0M236 728.5a3.7 3.7 0 1 0 7.4 0a3.7 3.7 0 1 0 -7.4 0M246.2 729a3.7 3.7 0 1 0 7.4 0a3.7 3.7 0 1 0 -7.4 0M256.3 728.7a3.7 3.7 0 1 0 7.4 0a3.7 3.7 0 1 0 -7.4 0M266.4 728.6a3.7 3.7 0 1 0 7.4 0a3.7 3.7 0 1 0 -7.4 0M276.5 728.2a3.7 3.7 0 1 0 7.4 0a3.7 3.7 0 1 0 -7.4 0M286.6 728.3a3.7 3.7 0 1 0 7.4 0a3.7 3.7 0 1 0 -7.4 0M296.7 728.4a3.7 3.7 0 1 0 7.4 0a3.7 3.7 0 1 0 -7.4 0M306.8 728.8a3.7 3.7 0 1 0 7.4 0a3.7 3.7 0 1 0 -7.4 0M316.9 728.1a3.7 3.7 0 1 0 7.4 0a3.7 3.7 0 1 0 -7.4 0M327 728.9a3.7 3.7 0 1 0 7.4 0a3.7 3.7 0 1 0 -7.4 0M337.2 728.8a3.7 3.7 0 1 0 7.4 0a3.7 3.7 0 1 0 -7.4 0M347.3 729a3.7 3.7 0 1 0 7.4 0a3.7 3.7 0 1 0 -7.4 0M357.4 728.5a3.7 3.7 0 1 0 7.4 0a3.7 3.7 0 1 0 -7.4 0M367.5 728.3a3.7 3.7 0 1 0 7.4 0a3.7 3.7 0 1 0 -7.4 0M377.6 727.9a3.7 3.7 0 1 0 7.4 0a3.7 3.7 0 1 0 -7.4 0M387.7 727a3.7 3.7 0 1 0 7.4 0a3.7 3.7 0 1 0 -7.4 0M397.8 726.4a3.7 3.7 0 1 0 7.4 0a3.7 3.7 0 1 0 -7.4 0M407.9 725.6a3.7 3.7 0 1 0 7.4 0a3.7 3.7 0 1 0 -7.4 0M418 725a3.7 3.7 0 1 0 7.4 0a3.7 3.7 0 1 0 -7.4 0M428.1 722.9a3.7 3.7 0 1 0 7.4 0a3.7 3.7 0 1 0 -7.4 0M438.2 721.4a3.7 3.7 0 1 0 7.4 0a3.7 3.7 0 1 0 -7.4 0M448.4 719.9a3.7 3.7 0 1 0 7.4 0a3.7 3.7 0 1 0 -7.4 0M458.5 717.7a3.7 3.7 0 1 0 7.4 0a3.7 3.7 0 1 0 -7.4 0M468.6 713.5a3.7 3.7 0 1 0 7.4 0a3.7 3.7 0 1 0 -7.4 0M478.7 695.4a3.7 3.7 0 1 0 7.4 0a3.7 3.7 0 1 0 -7.4 0M488.8 670.4a3.7 3.7 0 1 0 7.4 0a3.7 3.7 0 1 0 -7.4 0M498.9 649.8a3.7 3.7 0 1 0 7.4 0a3.7 3.7 0 1 0 -7.4 0M509 627.1a3.7 3.7 0 1 0 7.4 0a3.7 3.7 0 1 0 -7.4 0M519.1 602.6a3.7 3.7 0 1 0 7.4 0a3.7 3.7 0 1 0 -7.4 0M529.2 579a3.7 3.7 0 1 0 7.4 0a3.7 3.7 0 1 0 -7.4 0M539.3 559a3.7 3.7 0 1 0 7.4 0a3.7 3.7 0 1 0 -7.4 0M549.5 535.8a3.7 3.7 0 1 0 7.4 0a3.7 3.7 0 1 0 -7.4 0" stroke="#3ce4ef" stroke-width="1.9" fill="#a7f2f7"/>
</g>
<g>
<path d="M98.2 723.8 108.3 725.4 118.4 726.1 128.5 727.3 138.6 728 148.8 727.9 158.9 728.5 169 728.3 179.1 728.7 189.2 728.2 199.3 729 209.4 728.8 219.5 728.1 229.6 729 239.7 728.7 249.9 728.9 260 728.7 270.1 728.5 280.2 728.1 290.3 728.1 300.4 728.8 310.5 728.3 320.6 728.1 330.7 727.3 340.9 724.7 351 720.6 361.1 714.4 371.2 705 381.3 691.2 391.4 673.6 401.5 654.3 411.6 635.5 421.7 616.1 431.8 599 441.9 585 452.1 572 462.2 559.4 472.3 549.6 482.4 540.1 492.5 530.7 502.6 523 512.7 515.7 522.8 508.8 532.9 502.6 543 498.3 553.2 494.1" stroke="#ec2027" stroke-width="1.7" fill="none" stroke-linejoin="round"/>
<path d="M94.5 723.8a3.7 3.7 0 1 0 7.4 0a3.7 3.7 0 1 0 -7.4 0M104.6 725.4a3.7 3.7 0 1 0 7.4 0a3.7 3.7 0 1 0 -7.4 0M114.7 726.1a3.7 3.7 0 1 0 7.4 0a3.7 3.7 0 1 0 -7.4 0M124.8 727.3a3.7 3.7 0 1 0 7.4 0a3.7 3.7 0 1 0 -7.4 0M134.9 728a3.7 3.7 0 1 0 7.4 0a3.7 3.7 0 1 0 -7.4 0M145.1 727.9a3.7 3.7 0 1 0 7.4 0a3.7 3.7 0 1 0 -7.4 0M155.2 728.5a3.7 3.7 0 1 0 7.4 0a3.7 3.7 0 1 0 -7.4 0M165.3 728.3a3.7 3.7 0 1 0 7.4 0a3.7 3.7 0 1 0 -7.4 0M175.4 728.7a3.7 3.7 0 1 0 7.4 0a3.7 3.7 0 1 0 -7.4 0M185.5 728.2a3.7 3.7 0 1 0 7.4 0a3.7 3.7 0 1 0 -7.4 0M195.6 729a3.7 3.7 0 1 0 7.4 0a3.7 3.7 0 1 0 -7.4 0M205.7 728.8a3.7 3.7 0 1 0 7.4 0a3.7 3.7 0 1 0 -7.4 0M215.8 728.1a3.7 3.7 0 1 0 7.4 0a3.7 3.7 0 1 0 -7.4 0M225.9 729a3.7 3.7 0 1 0 7.4 0a3.7 3.7 0 1 0 -7.4 0M236 728.7a3.7 3.7 0 1 0 7.4 0a3.7 3.7 0 1 0 -7.4 0M246.2 728.9a3.7 3.7 0 1 0 7.4 0a3.7 3.7 0 1 0 -7.4 0M256.3 728.7a3.7 3.7 0 1 0 7.4 0a3.7 3.7 0 1 0 -7.4 0M266.4 728.5a3.7 3.7 0 1 0 7.4 0a3.7 3.7 0 1 0 -7.4 0M276.5 728.1a3.7 3.7 0 1 0 7.4 0a3.7 3.7 0 1 0 -7.4 0M286.6 728.1a3.7 3.7 0 1 0 7.4 0a3.7 3.7 0 1 0 -7.4 0M296.7 728.8a3.7 3.7 0 1 0 7.4 0a3.7 3.7 0 1 0 -7.4 0M306.8 728.3a3.7 3.7 0 1 0 7.4 0a3.7 3.7 0 1 0 -7.4 0M316.9 728.1a3.7 3.7 0 1 0 7.4 0a3.7 3.7 0 1 0 -7.4 0M327 727.3a3.7 3.7 0 1 0 7.4 0a3.7 3.7 0 1 0 -7.4 0M337.2 724.7a3.7 3.7 0 1 0 7.4 0a3.7 3.7 0 1 0 -7.4 0M347.3 720.6a3.7 3.7 0 1 0 7.4 0a3.7 3.7 0 1 0 -7.4 0M357.4 714.4a3.7 3.7 0 1 0 7.4 0a3.7 3.7 0 1 0 -7.4 0M367.5 705a3.7 3.7 0 1 0 7.4 0a3.7 3.7 0 1 0 -7.4 0M377.6 691.2a3.7 3.7 0 1 0 7.4 0a3.7 3.7 0 1 0 -7.4 0M387.7 673.6a3.7 3.7 0 1 0 7.4 0a3.7 3.7 0 1 0 -7.4 0M397.8 654.3a3.7 3.7 0 1 0 7.4 0a3.7 3.7 0 1 0 -7.4 0M407.9 635.5a3.7 3.7 0 1 0 7.4 0a3.7 3.7 0 1 0 -7.4 0M418 616.1a3.7 3.7 0 1 0 7.4 0a3.7 3.7 0 1 0 -7.4 0M428.1 599a3.7 3.7 0 1 0 7.4 0a3.7 3.7 0 1 0 -7.4 0M438.2 585a3.7 3.7 0 1 0 7.4 0a3.7 3.7 0 1 0 -7.4 0M448.4 572a3.7 3.7 0 1 0 7.4 0a3.7 3.7 0 1 0 -7.4 0M458.5 559.4a3.7 3.7 0 1 0 7.4 0a3.7 3.7 0 1 0 -7.4 0M468.6 549.6a3.7 3.7 0 1 0 7.4 0a3.7 3.7 0 1 0 -7.4 0M478.7 540.1a3.7 3.7 0 1 0 7.4 0a3.7 3.7 0 1 0 -7.4 0M488.8 530.7a3.7 3.7 0 1 0 7.4 0a3.7 3.7 0 1 0 -7.4 0M498.9 523a3.7 3.7 0 1 0 7.4 0a3.7 3.7 0 1 0 -7.4 0M509 515.7a3.7 3.7 0 1 0 7.4 0a3.7 3.7 0 1 0 -7.4 0M519.1 508.8a3.7 3.7 0 1 0 7.4 0a3.7 3.7 0 1 0 -7.4 0M529.2 502.6a3.7 3.7 0 1 0 7.4 0a3.7 3.7 0 1 0 -7.4 0M539.3 498.3a3.7 3.7 0 1 0 7.4 0a3.7 3.7 0 1 0 -7.4 0M549.5 494.1a3.7 3.7 0 1 0 7.4 0a3.7 3.7 0 1 0 -7.4 0" stroke="#ec2027" stroke-width="1.9" fill="#f37479"/>
</g>
<g>
<path d="M98.2 723.7 108.3 725.2 118.4 726.4 128.5 727.5 138.6 728.1 148.8 727.8 158.9 728.1 169 728.7 179.1 728.4 189.2 728.3 199.3 728.3 209.4 728.2 219.5 728.1 229.6 728.4 239.7 728.1 249.9 728.6 260 728.8 270.1 728.2 280.2 728.8 290.3 729 300.4 729 310.5 728.1 320.6 726.9 330.7 726.1 340.9 723 351 719 361.1 711.2 371.2 698.9 381.3 682 391.4 662.9 401.5 642.1 411.6 622.6 421.7 600.4 431.8 581.7 441.9 562 452.1 546.4 462.2 533.4 472.3 523.4 482.4 517.9 492.5 514.1 502.6 510.6 512.7 509.9 522.8 507.8 532.9 507.8 543 506.2 553.2 505.4" stroke="#ec2027" stroke-width="1.7" fill="none" stroke-linejoin="round"/>
<path d="M94.5 723.7a3.7 3.7 0 1 0 7.4 0a3.7 3.7 0 1 0 -7.4 0M104.6 725.2a3.7 3.7 0 1 0 7.4 0a3.7 3.7 0 1 0 -7.4 0M114.7 726.4a3.7 3.7 0 1 0 7.4 0a3.7 3.7 0 1 0 -7.4 0M124.8 727.5a3.7 3.7 0 1 0 7.4 0a3.7 3.7 0 1 0 -7.4 0M134.9 728.1a3.7 3.7 0 1 0 7.4 0a3.7 3.7 0 1 0 -7.4 0M145.1 727.8a3.7 3.7 0 1 0 7.4 0a3.7 3.7 0 1 0 -7.4 0M155.2 728.1a3.7 3.7 0 1 0 7.4 0a3.7 3.7 0 1 0 -7.4 0M165.3 728.7a3.7 3.7 0 1 0 7.4 0a3.7 3.7 0 1 0 -7.4 0M175.4 728.4a3.7 3.7 0 1 0 7.4 0a3.7 3.7 0 1 0 -7.4 0M185.5 728.3a3.7 3.7 0 1 0 7.4 0a3.7 3.7 0 1 0 -7.4 0M195.6 728.3a3.7 3.7 0 1 0 7.4 0a3.7 3.7 0 1 0 -7.4 0M205.7 728.2a3.7 3.7 0 1 0 7.4 0a3.7 3.7 0 1 0 -7.4 0M215.8 728.1a3.7 3.7 0 1 0 7.4 0a3.7 3.7 0 1 0 -7.4 0M225.9 728.4a3.7 3.7 0 1 0 7.4 0a3.7 3.7 0 1 0 -7.4 0M236 728.1a3.7 3.7 0 1 0 7.4 0a3.7 3.7 0 1 0 -7.4 0M246.2 728.6a3.7 3.7 0 1 0 7.4 0a3.7 3.7 0 1 0 -7.4 0M256.3 728.8a3.7 3.7 0 1 0 7.4 0a3.7 3.7 0 1 0 -7.4 0M266.4 728.2a3.7 3.7 0 1 0 7.4 0a3.7 3.7 0 1 0 -7.4 0M276.5 728.8a3.7 3.7 0 1 0 7.4 0a3.7 3.7 0 1 0 -7.4 0M286.6 729a3.7 3.7 0 1 0 7.4 0a3.7 3.7 0 1 0 -7.4 0M296.7 729a3.7 3.7 0 1 0 7.4 0a3.7 3.7 0 1 0 -7.4 0M306.8 728.1a3.7 3.7 0 1 0 7.4 0a3.7 3.7 0 1 0 -7.4 0M316.9 726.9a3.7 3.7 0 1 0 7.4 0a3.7 3.7 0 1 0 -7.4 0M327 726.1a3.7 3.7 0 1 0 7.4 0a3.7 3.7 0 1 0 -7.4 0M337.2 723a3.7 3.7 0 1 0 7.4 0a3.7 3.7 0 1 0 -7.4 0M347.3 719a3.7 3.7 0 1 0 7.4 0a3.7 3.7 0 1 0 -7.4 0M357.4 711.2a3.7 3.7 0 1 0 7.4 0a3.7 3.7 0 1 0 -7.4 0M367.5 698.9a3.7 3.7 0 1 0 7.4 0a3.7 3.7 0 1 0 -7.4 0M377.6 682a3.7 3.7 0 1 0 7.4 0a3.7 3.7 0 1 0 -7.4 0M387.7 662.9a3.7 3.7 0 1 0 7.4 0a3.7 3.7 0 1 0 -7.4 0M397.8 642.1a3.7 3.7 0 1 0 7.4 0a3.7 3.7 0 1 0 -7.4 0M407.9 622.6a3.7 3.7 0 1 0 7.4 0a3.7 3.7 0 1 0 -7.4 0M418 600.4a3.7 3.7 0 1 0 7.4 0a3.7 3.7 0 1 0 -7.4 0M428.1 581.7a3.7 3.7 0 1 0 7.4 0a3.7 3.7 0 1 0 -7.4 0M438.2 562a3.7 3.7 0 1 0 7.4 0a3.7 3.7 0 1 0 -7.4 0M448.4 546.4a3.7 3.7 0 1 0 7.4 0a3.7 3.7 0 1 0 -7.4 0M458.5 533.4a3.7 3.7 0 1 0 7.4 0a3.7 3.7 0 1 0 -7.4 0M468.6 523.4a3.7 3.7 0 1 0 7.4 0a3.7 3.7 0 1 0 -7.4 0M478.7 517.9a3.7 3.7 0 1 0 7.4 0a3.7 3.7 0 1 0 -7.4 0M488.8 514.1a3.7 3.7 0 1 0 7.4 0a3.7 3.7 0 1 0 -7.4 0M498.9 510.6a3.7 3.7 0 1 0 7.4 0a3.7 3.7 0 1 0 -7.4 0M509 509.9a3.7 3.7 0 1 0 7.4 0a3.7 3.7 0 1 0 -7.4 0M519.1 507.8a3.7 3.7 0 1 0 7.4 0a3.7 3.7 0 1 0 -7.4 0M529.2 507.8a3.7 3.7 0 1 0 7.4 0a3.7 3.7 0 1 0 -7.4 0M539.3 506.2a3.7 3.7 0 1 0 7.4 0a3.7 3.7 0 1 0 -7.4 0M549.5 505.4a3.7 3.7 0 1 0 7.4 0a3.7 3.7 0 1 0 -7.4 0" stroke="#ec2027" stroke-width="1.9" fill="#f37479"/>
</g>
<g>
<path d="M98.2 722.4 108.3 724.6 118.4 726.4 128.5 726.7 138.6 727.9 148.8 727.7 158.9 728.3 169 728.2 179.1 728.1 189.2 729 199.3 728.1 209.4 729 219.5 728.2 229.6 729 239.7 728.2 249.9 728.5 260 728.5 270.1 728.4 280.2 728.1 290.3 728.7 300.4 728.2 310.5 729.1 320.6 728.8 330.7 728.5 340.9 728.5 351 727.8 361.1 727 371.2 726.2 381.3 724.4 391.4 721.3 401.5 717.2 411.6 710.4 421.7 697.8 431.8 681.3 441.9 661.8 452.1 641.9 462.2 620.7 472.3 602.8 482.4 587.5 492.5 571.2 502.6 558.5 512.7 548.2 522.8 537.7 532.9 529.4 543 521.3 553.2 513.7" stroke="#f7a47c" stroke-width="1.7" fill="none" stroke-linejoin="round"/>
<path d="M94.5 722.4a3.7 3.7 0 1 0 7.4 0a3.7 3.7 0 1 0 -7.4 0M104.6 724.6a3.7 3.7 0 1 0 7.4 0a3.7 3.7 0 1 0 -7.4 0M114.7 726.4a3.7 3.7 0 1 0 7.4 0a3.7 3.7 0 1 0 -7.4 0M124.8 726.7a3.7 3.7 0 1 0 7.4 0a3.7 3.7 0 1 0 -7.4 0M134.9 727.9a3.7 3.7 0 1 0 7.4 0a3.7 3.7 0 1 0 -7.4 0M145.1 727.7a3.7 3.7 0 1 0 7.4 0a3.7 3.7 0 1 0 -7.4 0M155.2 728.3a3.7 3.7 0 1 0 7.4 0a3.7 3.7 0 1 0 -7.4 0M165.3 728.2a3.7 3.7 0 1 0 7.4 0a3.7 3.7 0 1 0 -7.4 0M175.4 728.1a3.7 3.7 0 1 0 7.4 0a3.7 3.7 0 1 0 -7.4 0M185.5 729a3.7 3.7 0 1 0 7.4 0a3.7 3.7 0 1 0 -7.4 0M195.6 728.1a3.7 3.7 0 1 0 7.4 0a3.7 3.7 0 1 0 -7.4 0M205.7 729a3.7 3.7 0 1 0 7.4 0a3.7 3.7 0 1 0 -7.4 0M215.8 728.2a3.7 3.7 0 1 0 7.4 0a3.7 3.7 0 1 0 -7.4 0M225.9 729a3.7 3.7 0 1 0 7.4 0a3.7 3.7 0 1 0 -7.4 0M236 728.2a3.7 3.7 0 1 0 7.4 0a3.7 3.7 0 1 0 -7.4 0M246.2 728.5a3.7 3.7 0 1 0 7.4 0a3.7 3.7 0 1 0 -7.4 0M256.3 728.5a3.7 3.7 0 1 0 7.4 0a3.7 3.7 0 1 0 -7.4 0M266.4 728.4a3.7 3.7 0 1 0 7.4 0a3.7 3.7 0 1 0 -7.4 0M276.5 728.1a3.7 3.7 0 1 0 7.4 0a3.7 3.7 0 1 0 -7.4 0M286.6 728.7a3.7 3.7 0 1 0 7.4 0a3.7 3.7 0 1 0 -7.4 0M296.7 728.2a3.7 3.7 0 1 0 7.4 0a3.7 3.7 0 1 0 -7.4 0M306.8 729.1a3.7 3.7 0 1 0 7.4 0a3.7 3.7 0 1 0 -7.4 0M316.9 728.8a3.7 3.7 0 1 0 7.4 0a3.7 3.7 0 1 0 -7.4 0M327 728.5a3.7 3.7 0 1 0 7.4 0a3.7 3.7 0 1 0 -7.4 0M337.2 728.5a3.7 3.7 0 1 0 7.4 0a3.7 3.7 0 1 0 -7.4 0M347.3 727.8a3.7 3.7 0 1 0 7.4 0a3.7 3.7 0 1 0 -7.4 0M357.4 727a3.7 3.7 0 1 0 7.4 0a3.7 3.7 0 1 0 -7.4 0M367.5 726.2a3.7 3.7 0 1 0 7.4 0a3.7 3.7 0 1 0 -7.4 0M377.6 724.4a3.7 3.7 0 1 0 7.4 0a3.7 3.7 0 1 0 -7.4 0M387.7 721.3a3.7 3.7 0 1 0 7.4 0a3.7 3.7 0 1 0 -7.4 0M397.8 717.2a3.7 3.7 0 1 0 7.4 0a3.7 3.7 0 1 0 -7.4 0M407.9 710.4a3.7 3.7 0 1 0 7.4 0a3.7 3.7 0 1 0 -7.4 0M418 697.8a3.7 3.7 0 1 0 7.4 0a3.7 3.7 0 1 0 -7.4 0M428.1 681.3a3.7 3.7 0 1 0 7.4 0a3.7 3.7 0 1 0 -7.4 0M438.2 661.8a3.7 3.7 0 1 0 7.4 0a3.7 3.7 0 1 0 -7.4 0M448.4 641.9a3.7 3.7 0 1 0 7.4 0a3.7 3.7 0 1 0 -7.4 0M458.5 620.7a3.7 3.7 0 1 0 7.4 0a3.7 3.7 0 1 0 -7.4 0M468.6 602.8a3.7 3.7 0 1 0 7.4 0a3.7 3.7 0 1 0 -7.4 0M478.7 587.5a3.7 3.7 0 1 0 7.4 0a3.7 3.7 0 1 0 -7.4 0M488.8 571.2a3.7 3.7 0 1 0 7.4 0a3.7 3.7 0 1 0 -7.4 0M498.9 558.5a3.7 3.7 0 1 0 7.4 0a3.7 3.7 0 1 0 -7.4 0M509 548.2a3.7 3.7 0 1 0 7.4 0a3.7 3.7 0 1 0 -7.4 0M519.1 537.7a3.7 3.7 0 1 0 7.4 0a3.7 3.7 0 1 0 -7.4 0M529.2 529.4a3.7 3.7 0 1 0 7.4 0a3.7 3.7 0 1 0 -7.4 0M539.3 521.3a3.7 3.7 0 1 0 7.4 0a3.7 3.7 0 1 0 -7.4 0M549.5 513.7a3.7 3.7 0 1 0 7.4 0a3.7 3.7 0 1 0 -7.4 0" stroke="#f7a47c" stroke-width="1.9" fill="#fce5da"/>
</g>
<g>
<path d="M98.2 722.2 108.3 724.8 118.4 725.9 128.5 727 138.6 727.7 148.8 728.5 158.9 728.3 169 728.2 179.1 728.7 189.2 728.7 199.3 728.8 209.4 728.3 219.5 728.3 229.6 728.2 239.7 728.2 249.9 728.4 260 728.2 270.1 729.1 280.2 728.8 290.3 728.9 300.4 728.9 310.5 728.7 320.6 728.6 330.7 728.2 340.9 728.8 351 728.2 361.1 726.5 371.2 726 381.3 723.9 391.4 720.4 401.5 714.9 411.6 707.9 421.7 691.3 431.8 674.8 441.9 654 452.1 634.4 462.2 613.5 472.3 595.3 482.4 580.9 492.5 564.7 502.6 552.7 512.7 542.3 522.8 532.1 532.9 524.3 543 516.1 553.2 507.3" stroke="#f58d5a" stroke-width="1.7" fill="none" stroke-linejoin="round"/>
<path d="M94.5 722.2a3.7 3.7 0 1 0 7.4 0a3.7 3.7 0 1 0 -7.4 0M104.6 724.8a3.7 3.7 0 1 0 7.4 0a3.7 3.7 0 1 0 -7.4 0M114.7 725.9a3.7 3.7 0 1 0 7.4 0a3.7 3.7 0 1 0 -7.4 0M124.8 727a3.7 3.7 0 1 0 7.4 0a3.7 3.7 0 1 0 -7.4 0M134.9 727.7a3.7 3.7 0 1 0 7.4 0a3.7 3.7 0 1 0 -7.4 0M145.1 728.5a3.7 3.7 0 1 0 7.4 0a3.7 3.7 0 1 0 -7.4 0M155.2 728.3a3.7 3.7 0 1 0 7.4 0a3.7 3.7 0 1 0 -7.4 0M165.3 728.2a3.7 3.7 0 1 0 7.4 0a3.7 3.7 0 1 0 -7.4 0M175.4 728.7a3.7 3.7 0 1 0 7.4 0a3.7 3.7 0 1 0 -7.4 0M185.5 728.7a3.7 3.7 0 1 0 7.4 0a3.7 3.7 0 1 0 -7.4 0M195.6 728.8a3.7 3.7 0 1 0 7.4 0a3.7 3.7 0 1 0 -7.4 0M205.7 728.3a3.7 3.7 0 1 0 7.4 0a3.7 3.7 0 1 0 -7.4 0M215.8 728.3a3.7 3.7 0 1 0 7.4 0a3.7 3.7 0 1 0 -7.4 0M225.9 728.2a3.7 3.7 0 1 0 7.4 0a3.7 3.7 0 1 0 -7.4 0M236 728.2a3.7 3.7 0 1 0 7.4 0a3.7 3.7 0 1 0 -7.4 0M246.2 728.4a3.7 3.7 0 1 0 7.4 0a3.7 3.7 0 1 0 -7.4 0M256.3 728.2a3.7 3.7 0 1 0 7.4 0a3.7 3.7 0 1 0 -7.4 0M266.4 729.1a3.7 3.7 0 1 0 7.4 0a3.7 3.7 0 1 0 -7.4 0M276.5 728.8a3.7 3.7 0 1 0 7.4 0a3.7 3.7 0 1 0 -7.4 0M286.6 728.9a3.7 3.7 0 1 0 7.4 0a3.7 3.7 0 1 0 -7.4 0M296.7 728.9a3.7 3.7 0 1 0 7.4 0a3.7 3.7 0 1 0 -7.4 0M306.8 728.7a3.7 3.7 0 1 0 7.4 0a3.7 3.7 0 1 0 -7.4 0M316.9 728.6a3.7 3.7 0 1 0 7.4 0a3.7 3.7 0 1 0 -7.4 0M327 728.2a3.7 3.7 0 1 0 7.4 0a3.7 3.7 0 1 0 -7.4 0M337.2 728.8a3.7 3.7 0 1 0 7.4 0a3.7 3.7 0 1 0 -7.4 0M347.3 728.2a3.7 3.7 0 1 0 7.4 0a3.7 3.7 0 1 0 -7.4 0M357.4 726.5a3.7 3.7 0 1 0 7.4 0a3.7 3.7 0 1 0 -7.4 0M367.5 726a3.7 3.7 0 1 0 7.4 0a3.7 3.7 0 1 0 -7.4 0M377.6 723.9a3.7 3.7 0 1 0 7.4 0a3.7 3.7 0 1 0 -7.4 0M387.7 720.4a3.7 3.7 0 1 0 7.4 0a3.7 3.7 0 1 0 -7.4 0M397.8 714.9a3.7 3.7 0 1 0 7.4 0a3.7 3.7 0 1 0 -7.4 0M407.9 707.9a3.7 3.7 0 1 0 7.4 0a3.7 3.7 0 1 0 -7.4 0M418 691.3a3.7 3.7 0 1 0 7.4 0a3.7 3.7 0 1 0 -7.4 0M428.1 674.8a3.7 3.7 0 1 0 7.4 0a3.7 3.7 0 1 0 -7.4 0M438.2 654a3.7 3.7 0 1 0 7.4 0a3.7 3.7 0 1 0 -7.4 0M448.4 634.4a3.7 3.7 0 1 0 7.4 0a3.7 3.7 0 1 0 -7.4 0M458.5 613.5a3.7 3.7 0 1 0 7.4 0a3.7 3.7 0 1 0 -7.4 0M468.6 595.3a3.7 3.7 0 1 0 7.4 0a3.7 3.7 0 1 0 -7.4 0M478.7 580.9a3.7 3.7 0 1 0 7.4 0a3.7 3.7 0 1 0 -7.4 0M488.8 564.7a3.7 3.7 0 1 0 7.4 0a3.7 3.7 0 1 0 -7.4 0M498.9 552.7a3.7 3.7 0 1 0 7.4 0a3.7 3.7 0 1 0 -7.4 0M509 542.3a3.7 3.7 0 1 0 7.4 0a3.7 3.7 0 1 0 -7.4 0M519.1 532.1a3.7 3.7 0 1 0 7.4 0a3.7 3.7 0 1 0 -7.4 0M529.2 524.3a3.7 3.7 0 1 0 7.4 0a3.7 3.7 0 1 0 -7.4 0M539.3 516.1a3.7 3.7 0 1 0 7.4 0a3.7 3.7 0 1 0 -7.4 0M549.5 507.3a3.7 3.7 0 1 0 7.4 0a3.7 3.7 0 1 0 -7.4 0" stroke="#f58d5a" stroke-width="1.9" fill="#fcdfd0"/>
</g>
<g>
<path d="M98.2 722.6 108.3 724.1 118.4 726.2 128.5 726.7 138.6 727.8 148.8 728 158.9 727.8 169 727.9 179.1 728 189.2 728.6 199.3 728.9 209.4 728.5 219.5 729 229.6 729 239.7 728.8 249.9 728.5 260 728.4 270.1 728.6 280.2 728.5 290.3 728.7 300.4 728.2 310.5 728.6 320.6 728.5 330.7 728.9 340.9 728.7 351 727.9 361.1 727.3 371.2 725.8 381.3 723.3 391.4 717.7 401.5 710.4 411.6 698.8 421.7 683 431.8 662.4 441.9 639.3 452.1 616.1 462.2 603 472.3 582.7 482.4 564 492.5 548.5 502.6 534.3 512.7 524.5 522.8 518.6 532.9 514.3 543 511 553.2 509" stroke="#f8ad88" stroke-width="1.7" fill="none" stroke-linejoin="round"/>
<path d="M94.5 722.6a3.7 3.7 0 1 0 7.4 0a3.7 3.7 0 1 0 -7.4 0M104.6 724.1a3.7 3.7 0 1 0 7.4 0a3.7 3.7 0 1 0 -7.4 0M114.7 726.2a3.7 3.7 0 1 0 7.4 0a3.7 3.7 0 1 0 -7.4 0M124.8 726.7a3.7 3.7 0 1 0 7.4 0a3.7 3.7 0 1 0 -7.4 0M134.9 727.8a3.7 3.7 0 1 0 7.4 0a3.7 3.7 0 1 0 -7.4 0M145.1 728a3.7 3.7 0 1 0 7.4 0a3.7 3.7 0 1 0 -7.4 0M155.2 727.8a3.7 3.7 0 1 0 7.4 0a3.7 3.7 0 1 0 -7.4 0M165.3 727.9a3.7 3.7 0 1 0 7.4 0a3.7 3.7 0 1 0 -7.4 0M175.4 728a3.7 3.7 0 1 0 7.4 0a3.7 3.7 0 1 0 -7.4 0M185.5 728.6a3.7 3.7 0 1 0 7.4 0a3.7 3.7 0 1 0 -7.4 0M195.6 728.9a3.7 3.7 0 1 0 7.4 0a3.7 3.7 0 1 0 -7.4 0M205.7 728.5a3.7 3.7 0 1 0 7.4 0a3.7 3.7 0 1 0 -7.4 0M215.8 729a3.7 3.7 0 1 0 7.4 0a3.7 3.7 0 1 0 -7.4 0M225.9 729a3.7 3.7 0 1 0 7.4 0a3.7 3.7 0 1 0 -7.4 0M236 728.8a3.7 3.7 0 1 0 7.4 0a3.7 3.7 0 1 0 -7.4 0M246.2 728.5a3.7 3.7 0 1 0 7.4 0a3.7 3.7 0 1 0 -7.4 0M256.3 728.4a3.7 3.7 0 1 0 7.4 0a3.7 3.7 0 1 0 -7.4 0M266.4 728.6a3.7 3.7 0 1 0 7.4 0a3.7 3.7 0 1 0 -7.4 0M276.5 728.5a3.7 3.7 0 1 0 7.4 0a3.7 3.7 0 1 0 -7.4 0M286.6 728.7a3.7 3.7 0 1 0 7.4 0a3.7 3.7 0 1 0 -7.4 0M296.7 728.2a3.7 3.7 0 1 0 7.4 0a3.7 3.7 0 1 0 -7.4 0M306.8 728.6a3.7 3.7 0 1 0 7.4 0a3.7 3.7 0 1 0 -7.4 0M316.9 728.5a3.7 3.7 0 1 0 7.4 0a3.7 3.7 0 1 0 -7.4 0M327 728.9a3.7 3.7 0 1 0 7.4 0a3.7 3.7 0 1 0 -7.4 0M337.2 728.7a3.7 3.7 0 1 0 7.4 0a3.7 3.7 0 1 0 -7.4 0M347.3 727.9a3.7 3.7 0 1 0 7.4 0a3.7 3.7 0 1 0 -7.4 0M357.4 727.3a3.7 3.7 0 1 0 7.4 0a3.7 3.7 0 1 0 -7.4 0M367.5 725.8a3.7 3.7 0 1 0 7.4 0a3.7 3.7 0 1 0 -7.4 0M377.6 723.3a3.7 3.7 0 1 0 7.4 0a3.7 3.7 0 1 0 -7.4 0M387.7 717.7a3.7 3.7 0 1 0 7.4 0a3.7 3.7 0 1 0 -7.4 0M397.8 710.4a3.7 3.7 0 1 0 7.4 0a3.7 3.7 0 1 0 -7.4 0M407.9 698.8a3.7 3.7 0 1 0 7.4 0a3.7 3.7 0 1 0 -7.4 0M418 683a3.7 3.7 0 1 0 7.4 0a3.7 3.7 0 1 0 -7.4 0M428.1 662.4a3.7 3.7 0 1 0 7.4 0a3.7 3.7 0 1 0 -7.4 0M438.2 639.3a3.7 3.7 0 1 0 7.4 0a3.7 3.7 0 1 0 -7.4 0M448.4 616.1a3.7 3.7 0 1 0 7.4 0a3.7 3.7 0 1 0 -7.4 0M458.5 603a3.7 3.7 0 1 0 7.4 0a3.7 3.7 0 1 0 -7.4 0M468.6 582.7a3.7 3.7 0 1 0 7.4 0a3.7 3.7 0 1 0 -7.4 0M478.7 564a3.7 3.7 0 1 0 7.4 0a3.7 3.7 0 1 0 -7.4 0M488.8 548.5a3.7 3.7 0 1 0 7.4 0a3.7 3.7 0 1 0 -7.4 0M498.9 534.3a3.7 3.7 0 1 0 7.4 0a3.7 3.7 0 1 0 -7.4 0M509 524.5a3.7 3.7 0 1 0 7.4 0a3.7 3.7 0 1 0 -7.4 0M519.1 518.6a3.7 3.7 0 1 0 7.4 0a3.7 3.7 0 1 0 -7.4 0M529.2 514.3a3.7 3.7 0 1 0 7.4 0a3.7 3.7 0 1 0 -7.4 0M539.3 511a3.7 3.7 0 1 0 7.4 0a3.7 3.7 0 1 0 -7.4 0M549.5 509a3.7 3.7 0 1 0 7.4 0a3.7 3.7 0 1 0 -7.4 0" stroke="#f8ad88" stroke-width="1.9" fill="#fde8dd"/>
</g>
<g>
<path d="M98.2 722.8 108.3 725.1 118.4 726.4 128.5 726.6 138.6 727.9 148.8 727.7 158.9 727.9 169 728.3 179.1 728.8 189.2 728.2 199.3 728 209.4 728.7 219.5 728.5 229.6 729 239.7 728.4 249.9 728.5 260 729.1 270.1 728.3 280.2 728.5 290.3 729 300.4 729.1 310.5 729.1 320.6 728.1 330.7 728.3 340.9 728.3 351 728 361.1 727.2 371.2 725.6 381.3 722.1 391.4 716.6 401.5 708.2 411.6 696.5 421.7 677.4 431.8 658.5 441.9 635.3 452.1 614 462.2 591.2 472.3 568.7 482.4 546.3 492.5 529.8 502.6 515.4 512.7 505.3 522.8 498.7 532.9 494.3 543 491.3 553.2 489.7" stroke="#f8ad88" stroke-width="1.7" fill="none" stroke-linejoin="round"/>
<path d="M94.5 722.8a3.7 3.7 0 1 0 7.4 0a3.7 3.7 0 1 0 -7.4 0M104.6 725.1a3.7 3.7 0 1 0 7.4 0a3.7 3.7 0 1 0 -7.4 0M114.7 726.4a3.7 3.7 0 1 0 7.4 0a3.7 3.7 0 1 0 -7.4 0M124.8 726.6a3.7 3.7 0 1 0 7.4 0a3.7 3.7 0 1 0 -7.4 0M134.9 727.9a3.7 3.7 0 1 0 7.4 0a3.7 3.7 0 1 0 -7.4 0M145.1 727.7a3.7 3.7 0 1 0 7.4 0a3.7 3.7 0 1 0 -7.4 0M155.2 727.9a3.7 3.7 0 1 0 7.4 0a3.7 3.7 0 1 0 -7.4 0M165.3 728.3a3.7 3.7 0 1 0 7.4 0a3.7 3.7 0 1 0 -7.4 0M175.4 728.8a3.7 3.7 0 1 0 7.4 0a3.7 3.7 0 1 0 -7.4 0M185.5 728.2a3.7 3.7 0 1 0 7.4 0a3.7 3.7 0 1 0 -7.4 0M195.6 728a3.7 3.7 0 1 0 7.4 0a3.7 3.7 0 1 0 -7.4 0M205.7 728.7a3.7 3.7 0 1 0 7.4 0a3.7 3.7 0 1 0 -7.4 0M215.8 728.5a3.7 3.7 0 1 0 7.4 0a3.7 3.7 0 1 0 -7.4 0M225.9 729a3.7 3.7 0 1 0 7.4 0a3.7 3.7 0 1 0 -7.4 0M236 728.4a3.7 3.7 0 1 0 7.4 0a3.7 3.7 0 1 0 -7.4 0M246.2 728.5a3.7 3.7 0 1 0 7.4 0a3.7 3.7 0 1 0 -7.4 0M256.3 729.1a3.7 3.7 0 1 0 7.4 0a3.7 3.7 0 1 0 -7.4 0M266.4 728.3a3.7 3.7 0 1 0 7.4 0a3.7 3.7 0 1 0 -7.4 0M276.5 728.5a3.7 3.7 0 1 0 7.4 0a3.7 3.7 0 1 0 -7.4 0M286.6 729a3.7 3.7 0 1 0 7.4 0a3.7 3.7 0 1 0 -7.4 0M296.7 729.1a3.7 3.7 0 1 0 7.4 0a3.7 3.7 0 1 0 -7.4 0M306.8 729.1a3.7 3.7 0 1 0 7.4 0a3.7 3.7 0 1 0 -7.4 0M316.9 728.1a3.7 3.7 0 1 0 7.4 0a3.7 3.7 0 1 0 -7.4 0M327 728.3a3.7 3.7 0 1 0 7.4 0a3.7 3.7 0 1 0 -7.4 0M337.2 728.3a3.7 3.7 0 1 0 7.4 0a3.7 3.7 0 1 0 -7.4 0M347.3 728a3.7 3.7 0 1 0 7.4 0a3.7 3.7 0 1 0 -7.4 0M357.4 727.2a3.7 3.7 0 1 0 7.4 0a3.7 3.7 0 1 0 -7.4 0M367.5 725.6a3.7 3.7 0 1 0 7.4 0a3.7 3.7 0 1 0 -7.4 0M377.6 722.1a3.7 3.7 0 1 0 7.4 0a3.7 3.7 0 1 0 -7.4 0M387.7 716.6a3.7 3.7 0 1 0 7.4 0a3.7 3.7 0 1 0 -7.4 0M397.8 708.2a3.7 3.7 0 1 0 7.4 0a3.7 3.7 0 1 0 -7.4 0M407.9 696.5a3.7 3.7 0 1 0 7.4 0a3.7 3.7 0 1 0 -7.4 0M418 677.4a3.7 3.7 0 1 0 7.4 0a3.7 3.7 0 1 0 -7.4 0M428.1 658.5a3.7 3.7 0 1 0 7.4 0a3.7 3.7 0 1 0 -7.4 0M438.2 635.3a3.7 3.7 0 1 0 7.4 0a3.7 3.7 0 1 0 -7.4 0M448.4 614a3.7 3.7 0 1 0 7.4 0a3.7 3.7 0 1 0 -7.4 0M458.5 591.2a3.7 3.7 0 1 0 7.4 0a3.7 3.7 0 1 0 -7.4 0M468.6 568.7a3.7 3.7 0 1 0 7.4 0a3.7 3.7 0 1 0 -7.4 0M478.7 546.3a3.7 3.7 0 1 0 7.4 0a3.7 3.7 0 1 0 -7.4 0M488.8 529.8a3.7 3.7 0 1 0 7.4 0a3.7 3.7 0 1 0 -7.4 0M498.9 515.4a3.7 3.7 0 1 0 7.4 0a3.7 3.7 0 1 0 -7.4 0M509 505.3a3.7 3.7 0 1 0 7.4 0a3.7 3.7 0 1 0 -7.4 0M519.1 498.7a3.7 3.7 0 1 0 7.4 0a3.7 3.7 0 1 0 -7.4 0M529.2 494.3a3.7 3.7 0 1 0 7.4 0a3.7 3.7 0 1 0 -7.4 0M539.3 491.3a3.7 3.7 0 1 0 7.4 0a3.7 3.7 0 1 0 -7.4 0M549.5 489.7a3.7 3.7 0 1 0 7.4 0a3.7 3.7 0 1 0 -7.4 0" stroke="#f8ad88" stroke-width="1.9" fill="#fde8dd"/>
</g>
<g>
<path d="M98.2 724.6 108.3 726.4 118.4 727.3 128.5 727.8 138.6 727.9 148.8 727.8 158.9 728.3 169 728.1 179.1 728.7 189.2 728.6 199.3 728.3 209.4 728.2 219.5 728.9 229.6 728.8 239.7 729 249.9 728.9 260 728.4 270.1 729 280.2 728.4 290.3 728.3 300.4 728.1 310.5 728.4 320.6 728.5 330.7 728.8 340.9 728.4 351 728.7 361.1 728.8 371.2 728.6 381.3 729 391.4 728.6 401.5 727.7 411.6 725.7 421.7 723 431.8 717.8 441.9 708.8 452.1 697.1 462.2 681.4 472.3 660.6 482.4 639.9 492.5 618.3 502.6 599.8 512.7 582.8 522.8 568.6 532.9 555.4 543 544.6 553.2 535.7" stroke="#1c9029" stroke-width="1.7" fill="none" stroke-linejoin="round"/>
<path d="M94.5 724.6a3.7 3.7 0 1 0 7.4 0a3.7 3.7 0 1 0 -7.4 0M104.6 726.4a3.7 3.7 0 1 0 7.4 0a3.7 3.7 0 1 0 -7.4 0M114.7 727.3a3.7 3.7 0 1 0 7.4 0a3.7 3.7 0 1 0 -7.4 0M124.8 727.8a3.7 3.7 0 1 0 7.4 0a3.7 3.7 0 1 0 -7.4 0M134.9 727.9a3.7 3.7 0 1 0 7.4 0a3.7 3.7 0 1 0 -7.4 0M145.1 727.8a3.7 3.7 0 1 0 7.4 0a3.7 3.7 0 1 0 -7.4 0M155.2 728.3a3.7 3.7 0 1 0 7.4 0a3.7 3.7 0 1 0 -7.4 0M165.3 728.1a3.7 3.7 0 1 0 7.4 0a3.7 3.7 0 1 0 -7.4 0M175.4 728.7a3.7 3.7 0 1 0 7.4 0a3.7 3.7 0 1 0 -7.4 0M185.5 728.6a3.7 3.7 0 1 0 7.4 0a3.7 3.7 0 1 0 -7.4 0M195.6 728.3a3.7 3.7 0 1 0 7.4 0a3.7 3.7 0 1 0 -7.4 0M205.7 728.2a3.7 3.7 0 1 0 7.4 0a3.7 3.7 0 1 0 -7.4 0M215.8 728.9a3.7 3.7 0 1 0 7.4 0a3.7 3.7 0 1 0 -7.4 0M225.9 728.8a3.7 3.7 0 1 0 7.4 0a3.7 3.7 0 1 0 -7.4 0M236 729a3.7 3.7 0 1 0 7.4 0a3.7 3.7 0 1 0 -7.4 0M246.2 728.9a3.7 3.7 0 1 0 7.4 0a3.7 3.7 0 1 0 -7.4 0M256.3 728.4a3.7 3.7 0 1 0 7.4 0a3.7 3.7 0 1 0 -7.4 0M266.4 729a3.7 3.7 0 1 0 7.4 0a3.7 3.7 0 1 0 -7.4 0M276.5 728.4a3.7 3.7 0 1 0 7.4 0a3.7 3.7 0 1 0 -7.4 0M286.6 728.3a3.7 3.7 0 1 0 7.4 0a3.7 3.7 0 1 0 -7.4 0M296.7 728.1a3.7 3.7 0 1 0 7.4 0a3.7 3.7 0 1 0 -7.4 0M306.8 728.4a3.7 3.7 0 1 0 7.4 0a3.7 3.7 0 1 0 -7.4 0M316.9 728.5a3.7 3.7 0 1 0 7.4 0a3.7 3.7 0 1 0 -7.4 0M327 728.8a3.7 3.7 0 1 0 7.4 0a3.7 3.7 0 1 0 -7.4 0M337.2 728.4a3.7 3.7 0 1 0 7.4 0a3.7 3.7 0 1 0 -7.4 0M347.3 728.7a3.7 3.7 0 1 0 7.4 0a3.7 3.7 0 1 0 -7.4 0M357.4 728.8a3.7 3.7 0 1 0 7.4 0a3.7 3.7 0 1 0 -7.4 0M367.5 728.6a3.7 3.7 0 1 0 7.4 0a3.7 3.7 0 1 0 -7.4 0M377.6 729a3.7 3.7 0 1 0 7.4 0a3.7 3.7 0 1 0 -7.4 0M387.7 728.6a3.7 3.7 0 1 0 7.4 0a3.7 3.7 0 1 0 -7.4 0M397.8 727.7a3.7 3.7 0 1 0 7.4 0a3.7 3.7 0 1 0 -7.4 0M407.9 725.7a3.7 3.7 0 1 0 7.4 0a3.7 3.7 0 1 0 -7.4 0M418 723a3.7 3.7 0 1 0 7.4 0a3.7 3.7 0 1 0 -7.4 0M428.1 717.8a3.7 3.7 0 1 0 7.4 0a3.7 3.7 0 1 0 -7.4 0M438.2 708.8a3.7 3.7 0 1 0 7.4 0a3.7 3.7 0 1 0 -7.4 0M448.4 697.1a3.7 3.7 0 1 0 7.4 0a3.7 3.7 0 1 0 -7.4 0M458.5 681.4a3.7 3.7 0 1 0 7.4 0a3.7 3.7 0 1 0 -7.4 0M468.6 660.6a3.7 3.7 0 1 0 7.4 0a3.7 3.7 0 1 0 -7.4 0M478.7 639.9a3.7 3.7 0 1 0 7.4 0a3.7 3.7 0 1 0 -7.4 0M488.8 618.3a3.7 3.7 0 1 0 7.4 0a3.7 3.7 0 1 0 -7.4 0M498.9 599.8a3.7 3.7 0 1 0 7.4 0a3.7 3.7 0 1 0 -7.4 0M509 582.8a3.7 3.7 0 1 0 7.4 0a3.7 3.7 0 1 0 -7.4 0M519.1 568.6a3.7 3.7 0 1 0 7.4 0a3.7 3.7 0 1 0 -7.4 0M529.2 555.4a3.7 3.7 0 1 0 7.4 0a3.7 3.7 0 1 0 -7.4 0M539.3 544.6a3.7 3.7 0 1 0 7.4 0a3.7 3.7 0 1 0 -7.4 0M549.5 535.7a3.7 3.7 0 1 0 7.4 0a3.7 3.7 0 1 0 -7.4 0" stroke="#1c9029" stroke-width="1.9" fill="#82c189"/>
</g>
<g>
<path d="M98.2 724.4 108.3 726.4 118.4 727.5 128.5 727.7 138.6 727.5 148.8 728.6 158.9 728.3 169 728.4 179.1 728.8 189.2 728.7 199.3 728.8 209.4 728.3 219.5 728.5 229.6 728.3 239.7 728.4 249.9 728.8 260 728.2 270.1 728.5 280.2 728.5 290.3 728.8 300.4 728.8 310.5 728.2 320.6 728.3 330.7 728.2 340.9 728.9 351 729 361.1 728.2 371.2 728.1 381.3 728.3 391.4 728 401.5 726.8 411.6 726 421.7 722.4 431.8 715.3 441.9 704.1 452.1 691.1 462.2 673.5 472.3 652 482.4 631.3 492.5 611.4 502.6 592.8 512.7 576.4 522.8 562.6 532.9 550.3 543 539.3 553.2 529.7" stroke="#1c9029" stroke-width="1.7" fill="none" stroke-linejoin="round"/>
<path d="M94.5 724.4a3.7 3.7 0 1 0 7.4 0a3.7 3.7 0 1 0 -7.4 0M104.6 726.4a3.7 3.7 0 1 0 7.4 0a3.7 3.7 0 1 0 -7.4 0M114.7 727.5a3.7 3.7 0 1 0 7.4 0a3.7 3.7 0 1 0 -7.4 0M124.8 727.7a3.7 3.7 0 1 0 7.4 0a3.7 3.7 0 1 0 -7.4 0M134.9 727.5a3.7 3.7 0 1 0 7.4 0a3.7 3.7 0 1 0 -7.4 0M145.1 728.6a3.7 3.7 0 1 0 7.4 0a3.7 3.7 0 1 0 -7.4 0M155.2 728.3a3.7 3.7 0 1 0 7.4 0a3.7 3.7 0 1 0 -7.4 0M165.3 728.4a3.7 3.7 0 1 0 7.4 0a3.7 3.7 0 1 0 -7.4 0M175.4 728.8a3.7 3.7 0 1 0 7.4 0a3.7 3.7 0 1 0 -7.4 0M185.5 728.7a3.7 3.7 0 1 0 7.4 0a3.7 3.7 0 1 0 -7.4 0M195.6 728.8a3.7 3.7 0 1 0 7.4 0a3.7 3.7 0 1 0 -7.4 0M205.7 728.3a3.7 3.7 0 1 0 7.4 0a3.7 3.7 0 1 0 -7.4 0M215.8 728.5a3.7 3.7 0 1 0 7.4 0a3.7 3.7 0 1 0 -7.4 0M225.9 728.3a3.7 3.7 0 1 0 7.4 0a3.7 3.7 0 1 0 -7.4 0M236 728.4a3.7 3.7 0 1 0 7.4 0a3.7 3.7 0 1 0 -7.4 0M246.2 728.8a3.7 3.7 0 1 0 7.4 0a3.7 3.7 0 1 0 -7.4 0M256.3 728.2a3.7 3.7 0 1 0 7.4 0a3.7 3.7 0 1 0 -7.4 0M266.4 728.5a3.7 3.7 0 1 0 7.4 0a3.7 3.7 0 1 0 -7.4 0M276.5 728.5a3.7 3.7 0 1 0 7.4 0a3.7 3.7 0 1 0 -7.4 0M286.6 728.8a3.7 3.7 0 1 0 7.4 0a3.7 3.7 0 1 0 -7.4 0M296.7 728.8a3.7 3.7 0 1 0 7.4 0a3.7 3.7 0 1 0 -7.4 0M306.8 728.2a3.7 3.7 0 1 0 7.4 0a3.7 3.7 0 1 0 -7.4 0M316.9 728.3a3.7 3.7 0 1 0 7.4 0a3.7 3.7 0 1 0 -7.4 0M327 728.2a3.7 3.7 0 1 0 7.4 0a3.7 3.7 0 1 0 -7.4 0M337.2 728.9a3.7 3.7 0 1 0 7.4 0a3.7 3.7 0 1 0 -7.4 0M347.3 729a3.7 3.7 0 1 0 7.4 0a3.7 3.7 0 1 0 -7.4 0M357.4 728.2a3.7 3.7 0 1 0 7.4 0a3.7 3.7 0 1 0 -7.4 0M367.5 728.1a3.7 3.7 0 1 0 7.4 0a3.7 3.7 0 1 0 -7.4 0M377.6 728.3a3.7 3.7 0 1 0 7.4 0a3.7 3.7 0 1 0 -7.4 0M387.7 728a3.7 3.7 0 1 0 7.4 0a3.7 3.7 0 1 0 -7.4 0M397.8 726.8a3.7 3.7 0 1 0 7.4 0a3.7 3.7 0 1 0 -7.4 0M407.9 726a3.7 3.7 0 1 0 7.4 0a3.7 3.7 0 1 0 -7.4 0M418 722.4a3.7 3.7 0 1 0 7.4 0a3.7 3.7 0 1 0 -7.4 0M428.1 715.3a3.7 3.7 0 1 0 7.4 0a3.7 3.7 0 1 0 -7.4 0M438.2 704.1a3.7 3.7 0 1 0 7.4 0a3.7 3.7 0 1 0 -7.4 0M448.4 691.1a3.7 3.7 0 1 0 7.4 0a3.7 3.7 0 1 0 -7.4 0M458.5 673.5a3.7 3.7 0 1 0 7.4 0a3.7 3.7 0 1 0 -7.4 0M468.6 652a3.7 3.7 0 1 0 7.4 0a3.7 3.7 0 1 0 -7.4 0M478.7 631.3a3.7 3.7 0 1 0 7.4 0a3.7 3.7 0 1 0 -7.4 0M488.8 611.4a3.7 3.7 0 1 0 7.4 0a3.7 3.7 0 1 0 -7.4 0M498.9 592.8a3.7 3.7 0 1 0 7.4 0a3.7 3.7 0 1 0 -7.4 0M509 576.4a3.7 3.7 0 1 0 7.4 0a3.7 3.7 0 1 0 -7.4 0M519.1 562.6a3.7 3.7 0 1 0 7.4 0a3.7 3.7 0 1 0 -7.4 0M529.2 550.3a3.7 3.7 0 1 0 7.4 0a3.7 3.7 0 1 0 -7.4 0M539.3 539.3a3.7 3.7 0 1 0 7.4 0a3.7 3.7 0 1 0 -7.4 0M549.5 529.7a3.7 3.7 0 1 0 7.4 0a3.7 3.7 0 1 0 -7.4 0" stroke="#1c9029" stroke-width="1.9" fill="#82c189"/>
</g>
<g>
<path d="M98.2 724.5 108.3 726 118.4 727.5 128.5 728 138.6 727.5 148.8 728.5 158.9 728.1 169 728.5 179.1 728 189.2 728.3 199.3 728.7 209.4 728.9 219.5 728.8 229.6 728.2 239.7 728.1 249.9 728.3 260 728.9 270.1 728.4 280.2 728.9 290.3 728.3 300.4 728.8 310.5 728.9 320.6 728.9 330.7 728.2 340.9 728.9 351 729 361.1 729 371.2 728.8 381.3 728.2 391.4 727.6 401.5 725.9 411.6 723.3 421.7 720 431.8 714.5 441.9 702.5 452.1 688.3 462.2 670.1 472.3 649.5 482.4 628.5 492.5 607.9 502.6 587.1 512.7 567.8 522.8 549.5 532.9 534.4 543 523.8 553.2 518" stroke="#1c9029" stroke-width="1.7" fill="none" stroke-linejoin="round"/>
<path d="M94.5 724.5a3.7 3.7 0 1 0 7.4 0a3.7 3.7 0 1 0 -7.4 0M104.6 726a3.7 3.7 0 1 0 7.4 0a3.7 3.7 0 1 0 -7.4 0M114.7 727.5a3.7 3.7 0 1 0 7.4 0a3.7 3.7 0 1 0 -7.4 0M124.8 728a3.7 3.7 0 1 0 7.4 0a3.7 3.7 0 1 0 -7.4 0M134.9 727.5a3.7 3.7 0 1 0 7.4 0a3.7 3.7 0 1 0 -7.4 0M145.1 728.5a3.7 3.7 0 1 0 7.4 0a3.7 3.7 0 1 0 -7.4 0M155.2 728.1a3.7 3.7 0 1 0 7.4 0a3.7 3.7 0 1 0 -7.4 0M165.3 728.5a3.7 3.7 0 1 0 7.4 0a3.7 3.7 0 1 0 -7.4 0M175.4 728a3.7 3.7 0 1 0 7.4 0a3.7 3.7 0 1 0 -7.4 0M185.5 728.3a3.7 3.7 0 1 0 7.4 0a3.7 3.7 0 1 0 -7.4 0M195.6 728.7a3.7 3.7 0 1 0 7.4 0a3.7 3.7 0 1 0 -7.4 0M205.7 728.9a3.7 3.7 0 1 0 7.4 0a3.7 3.7 0 1 0 -7.4 0M215.8 728.8a3.7 3.7 0 1 0 7.4 0a3.7 3.7 0 1 0 -7.4 0M225.9 728.2a3.7 3.7 0 1 0 7.4 0a3.7 3.7 0 1 0 -7.4 0M236 728.1a3.7 3.7 0 1 0 7.4 0a3.7 3.7 0 1 0 -7.4 0M246.2 728.3a3.7 3.7 0 1 0 7.4 0a3.7 3.7 0 1 0 -7.4 0M256.3 728.9a3.7 3.7 0 1 0 7.4 0a3.7 3.7 0 1 0 -7.4 0M266.4 728.4a3.7 3.7 0 1 0 7.4 0a3.7 3.7 0 1 0 -7.4 0M276.5 728.9a3.7 3.7 0 1 0 7.4 0a3.7 3.7 0 1 0 -7.4 0M286.6 728.3a3.7 3.7 0 1 0 7.4 0a3.7 3.7 0 1 0 -7.4 0M296.7 728.8a3.7 3.7 0 1 0 7.4 0a3.7 3.7 0 1 0 -7.4 0M306.8 728.9a3.7 3.7 0 1 0 7.4 0a3.7 3.7 0 1 0 -7.4 0M316.9 728.9a3.7 3.7 0 1 0 7.4 0a3.7 3.7 0 1 0 -7.4 0M327 728.2a3.7 3.7 0 1 0 7.4 0a3.7 3.7 0 1 0 -7.4 0M337.2 728.9a3.7 3.7 0 1 0 7.4 0a3.7 3.7 0 1 0 -7.4 0M347.3 729a3.7 3.7 0 1 0 7.4 0a3.7 3.7 0 1 0 -7.4 0M357.4 729a3.7 3.7 0 1 0 7.4 0a3.7 3.7 0 1 0 -7.4 0M367.5 728.8a3.7 3.7 0 1 0 7.4 0a3.7 3.7 0 1 0 -7.4 0M377.6 728.2a3.7 3.7 0 1 0 7.4 0a3.7 3.7 0 1 0 -7.4 0M387.7 727.6a3.7 3.7 0 1 0 7.4 0a3.7 3.7 0 1 0 -7.4 0M397.8 725.9a3.7 3.7 0 1 0 7.4 0a3.7 3.7 0 1 0 -7.4 0M407.9 723.3a3.7 3.7 0 1 0 7.4 0a3.7 3.7 0 1 0 -7.4 0M418 720a3.7 3.7 0 1 0 7.4 0a3.7 3.7 0 1 0 -7.4 0M428.1 714.5a3.7 3.7 0 1 0 7.4 0a3.7 3.7 0 1 0 -7.4 0M438.2 702.5a3.7 3.7 0 1 0 7.4 0a3.7 3.7 0 1 0 -7.4 0M448.4 688.3a3.7 3.7 0 1 0 7.4 0a3.7 3.7 0 1 0 -7.4 0M458.5 670.1a3.7 3.7 0 1 0 7.4 0a3.7 3.7 0 1 0 -7.4 0M468.6 649.5a3.7 3.7 0 1 0 7.4 0a3.7 3.7 0 1 0 -7.4 0M478.7 628.5a3.7 3.7 0 1 0 7.4 0a3.7 3.7 0 1 0 -7.4 0M488.8 607.9a3.7 3.7 0 1 0 7.4 0a3.7 3.7 0 1 0 -7.4 0M498.9 587.1a3.7 3.7 0 1 0 7.4 0a3.7 3.7 0 1 0 -7.4 0M509 567.8a3.7 3.7 0 1 0 7.4 0a3.7 3.7 0 1 0 -7.4 0M519.1 549.5a3.7 3.7 0 1 0 7.4 0a3.7 3.7 0 1 0 -7.4 0M529.2 534.4a3.7 3.7 0 1 0 7.4 0a3.7 3.7 0 1 0 -7.4 0M539.3 523.8a3.7 3.7 0 1 0 7.4 0a3.7 3.7 0 1 0 -7.4 0M549.5 518a3.7 3.7 0 1 0 7.4 0a3.7 3.7 0 1 0 -7.4 0" stroke="#1c9029" stroke-width="1.9" fill="#82c189"/>
</g>
<g>
<path d="M98.2 726.4 108.3 726.7 118.4 727.8 128.5 727.7 138.6 728.6 148.8 728.8 158.9 728.6 169 729 179.1 728.6 189.2 728.7 199.3 728.5 209.4 728.2 219.5 729 229.6 728.9 239.7 728.6 249.9 728.5 260 728.9 270.1 728.6 280.2 728.9 290.3 728.8 300.4 728.9 310.5 728.8 320.6 728.5 330.7 728.2 340.9 728.2 351 728 361.1 728.9 371.2 728.7 381.3 728.2 391.4 728.4 401.5 727.6 411.6 728 421.7 727.5 431.8 727.5 441.9 727.4 452.1 728.2 462.2 727.2 472.3 727.2 482.4 727.9 492.5 727 502.6 727.7 512.7 726.8 522.8 726.9 532.9 726.8 543 727.2 553.2 726.3" stroke="#1c1c1c" stroke-width="2.4" fill="none" stroke-linejoin="round"/>
</g>
<path d="M98.2 710.8H553.2" stroke="#962830" stroke-width="2.4" fill="none"/>
</g>
<text x="776.1" y="434.7" font-size="20" font-weight="bold" text-anchor="start" fill="#111" textLength="567.3" lengthAdjust="spacingAndGlyphs">B.1.1.7 results: Mixed-base vs. Omicron-based Primers</text>
<rect x="776.1" y="437.6" width="567.3" height="1.6" fill="#333"/>
<text x="1004.1" y="463" font-size="13.9" font-weight="bold" text-anchor="start" fill="#2a2a2a" textLength="108" lengthAdjust="spacingAndGlyphs" stroke="#2a2a2a" stroke-width="0.25" letter-spacing="0.8">Amplification</text>
<path d="M945.5 482V734M1046.5 482V734M1147.5 482V734M1248.5 482V734" stroke="#8c8c8c" stroke-width="2.1" stroke-dasharray="0 7" stroke-linecap="round" fill="none"/>
<path d="M851.3 729.4H1329.1M851.3 677.9H1329.1M851.3 626.5H1329.1M851.3 575H1329.1M851.3 523.6H1329.1" stroke="#8c8c8c" stroke-width="2.1" stroke-dasharray="0 7.9" stroke-linecap="round" fill="none"/>
<path d="M838.3 729.4H849.3M1325.1 729.4H1332.1M841.8 719.1H846.8M1329.1 719.1H1332.1M841.8 708.8H846.8M1329.1 708.8H1332.1M841.8 698.5H846.8M1329.1 698.5H1332.1M841.8 688.2H846.8M1329.1 688.2H1332.1M838.3 677.9H849.3M1325.1 677.9H1332.1M841.8 667.7H846.8M1329.1 667.7H1332.1M841.8 657.4H846.8M1329.1 657.4H1332.1M841.8 647.1H846.8M1329.1 647.1H1332.1M841.8 636.8H846.8M1329.1 636.8H1332.1M838.3 626.5H849.3M1325.1 626.5H1332.1M841.8 616.2H846.8M1329.1 616.2H1332.1M841.8 605.9H846.8M1329.1 605.9H1332.1M841.8 595.6H846.8M1329.1 595.6H1332.1M841.8 585.3H846.8M1329.1 585.3H1332.1M838.3 575H849.3M1325.1 575H1332.1M841.8 564.8H846.8M1329.1 564.8H1332.1M841.8 554.5H846.8M1329.1 554.5H1332.1M841.8 544.2H846.8M1329.1 544.2H1332.1M841.8 533.9H846.8M1329.1 533.9H1332.1M838.3 523.6H849.3M1325.1 523.6H1332.1M841.8 513.3H846.8M1329.1 513.3H1332.1M841.8 503H846.8M1329.1 503H1332.1M841.8 492.7H846.8M1329.1 492.7H1332.1M841.8 482.4H846.8M1329.1 482.4H1332.1M864.7 735V739.5M864.7 477V480M884.9 735V739.5M884.9 477V480M905.1 735V739.5M905.1 477V480M925.3 735V739.5M925.3 477V480M945.5 733V742M945.5 477V482M965.7 735V739.5M965.7 477V480M985.9 735V739.5M985.9 477V480M1006.1 735V739.5M1006.1 477V480M1026.3 735V739.5M1026.3 477V480M1046.5 733V742M1046.5 477V482M1066.7 735V739.5M1066.7 477V480M1086.9 735V739.5M1086.9 477V480M1107.1 735V739.5M1107.1 477V480M1127.3 735V739.5M1127.3 477V480M1147.5 733V742M1147.5 477V482M1167.7 735V739.5M1167.7 477V480M1187.9 735V739.5M1187.9 477V480M1208.1 735V739.5M1208.1 477V480M1228.3 735V739.5M1228.3 477V480M1248.5 733V742M1248.5 477V482M1268.7 735V739.5M1268.7 477V480M1288.9 735V739.5M1288.9 477V480M1309.1 735V739.5M1309.1 477V480M1329.3 735V739.5M1329.3 477V480" stroke="#111" stroke-width="1.6" fill="none"/>
<rect x="844.3" y="477" width="487.8" height="260" fill="none" stroke="#222" stroke-width="1.8"/>
<text x="828.9" y="732.6" font-size="12.8" font-weight="normal" text-anchor="end" fill="#3a3a3a" textLength="7.5" lengthAdjust="spacingAndGlyphs" stroke="#3a3a3a" stroke-width="0.35">0</text>
<text x="828.9" y="681.1" font-size="12.8" font-weight="normal" text-anchor="end" fill="#3a3a3a" textLength="30.2" lengthAdjust="spacingAndGlyphs" stroke="#3a3a3a" stroke-width="0.35">1000</text>
<text x="828.9" y="629.7" font-size="12.8" font-weight="normal" text-anchor="end" fill="#3a3a3a" textLength="30.2" lengthAdjust="spacingAndGlyphs" stroke="#3a3a3a" stroke-width="0.35">2000</text>
<text x="828.9" y="578.2" font-size="12.8" font-weight="normal" text-anchor="end" fill="#3a3a3a" textLength="30.2" lengthAdjust="spacingAndGlyphs" stroke="#3a3a3a" stroke-width="0.35">3000</text>
<text x="828.9" y="526.8" font-size="12.8" font-weight="normal" text-anchor="end" fill="#3a3a3a" textLength="30.2" lengthAdjust="spacingAndGlyphs" stroke="#3a3a3a" stroke-width="0.35">4000</text>
<text x="844.5" y="757.4" font-size="12.8" font-weight="normal" text-anchor="middle" fill="#3a3a3a" textLength="7.5" lengthAdjust="spacingAndGlyphs" stroke="#3a3a3a" stroke-width="0.35">0</text>
<text x="945.5" y="757.4" font-size="12.8" font-weight="normal" text-anchor="middle" fill="#3a3a3a" textLength="15.1" lengthAdjust="spacingAndGlyphs" stroke="#3a3a3a" stroke-width="0.35">10</text>
<text x="1046.5" y="757.4" font-size="12.8" font-weight="normal" text-anchor="middle" fill="#3a3a3a" textLength="15.1" lengthAdjust="spacingAndGlyphs" stroke="#3a3a3a" stroke-width="0.35">20</text>
<text x="1147.5" y="757.4" font-size="12.8" font-weight="normal" text-anchor="middle" fill="#3a3a3a" textLength="15.1" lengthAdjust="spacingAndGlyphs" stroke="#3a3a3a" stroke-width="0.35">30</text>
<text x="1248.5" y="757.4" font-size="12.8" font-weight="normal" text-anchor="middle" fill="#3a3a3a" textLength="15.1" lengthAdjust="spacingAndGlyphs" stroke="#3a3a3a" stroke-width="0.35">40</text>
<text x="1087.4" y="777.2" font-size="12" font-weight="bold" text-anchor="middle" fill="#222" textLength="45.4" lengthAdjust="spacingAndGlyphs" stroke="#222" stroke-width="0.25" letter-spacing="0.9">Cycles</text>
<text x="0" y="0" font-size="14.2" font-weight="bold" fill="#222" stroke="#222" stroke-width="0.4" text-anchor="middle" textLength="26.6" lengthAdjust="spacingAndGlyphs" transform="translate(785.7 607.8) rotate(-90)">RFU</text>
<clipPath id="cp4"><rect x="844.3" y="477" width="487.8" height="260"/></clipPath>
<g clip-path="url(#cp4)">
<g>
<path d="M854.6 731.7 864.7 731 874.8 729.8 884.9 729.8 895 729.4 905.1 729.7 915.2 729 925.3 729.1 935.4 729.4 945.5 728.9 955.6 729.7 965.7 729.8 975.8 728.9 985.9 728.8 996 729 1006.1 729.1 1016.2 730 1026.3 729.7 1036.4 729.1 1046.5 730 1056.6 729.6 1066.7 729.7 1076.8 728.9 1086.9 729.7 1097 729.9 1107.1 729.6 1117.2 728.9 1127.3 729.3 1137.4 728.9 1147.5 729.1 1157.6 728.9 1167.7 728.8 1177.8 729.2 1187.9 729.9 1198 729.9 1208.1 728.9 1218.2 729.3 1228.3 728.8 1238.4 729.1 1248.5 728.3 1258.6 728.8 1268.7 727.9 1278.8 727.7 1288.9 727.3 1299 727.4 1309.1 727.1" stroke="#3ce4ef" stroke-width="1.7" fill="none" stroke-linejoin="round"/>
<path d="M849.3 727.2l10.6 9m0 -9l-10.6 9M859.4 726.5l10.6 9m0 -9l-10.6 9M869.5 725.3l10.6 9m0 -9l-10.6 9M879.6 725.3l10.6 9m0 -9l-10.6 9M889.7 724.9l10.6 9m0 -9l-10.6 9M899.8 725.2l10.6 9m0 -9l-10.6 9M909.9 724.5l10.6 9m0 -9l-10.6 9M920 724.6l10.6 9m0 -9l-10.6 9M930.1 724.9l10.6 9m0 -9l-10.6 9M940.2 724.4l10.6 9m0 -9l-10.6 9M950.3 725.2l10.6 9m0 -9l-10.6 9M960.4 725.3l10.6 9m0 -9l-10.6 9M970.5 724.4l10.6 9m0 -9l-10.6 9M980.6 724.3l10.6 9m0 -9l-10.6 9M990.7 724.5l10.6 9m0 -9l-10.6 9M1000.8 724.6l10.6 9m0 -9l-10.6 9M1010.9 725.5l10.6 9m0 -9l-10.6 9M1021 725.2l10.6 9m0 -9l-10.6 9M1031.1 724.6l10.6 9m0 -9l-10.6 9M1041.2 725.5l10.6 9m0 -9l-10.6 9M1051.3 725.1l10.6 9m0 -9l-10.6 9M1061.4 725.2l10.6 9m0 -9l-10.6 9M1071.5 724.4l10.6 9m0 -9l-10.6 9M1081.6 725.2l10.6 9m0 -9l-10.6 9M1091.7 725.4l10.6 9m0 -9l-10.6 9M1101.8 725.1l10.6 9m0 -9l-10.6 9M1111.9 724.4l10.6 9m0 -9l-10.6 9M1122 724.8l10.6 9m0 -9l-10.6 9M1132.1 724.4l10.6 9m0 -9l-10.6 9M1142.2 724.6l10.6 9m0 -9l-10.6 9M1152.3 724.4l10.6 9m0 -9l-10.6 9M1162.4 724.3l10.6 9m0 -9l-10.6 9M1172.5 724.7l10.6 9m0 -9l-10.6 9M1182.6 725.4l10.6 9m0 -9l-10.6 9M1192.7 725.4l10.6 9m0 -9l-10.6 9M1202.8 724.4l10.6 9m0 -9l-10.6 9M1212.9 724.8l10.6 9m0 -9l-10.6 9M1223 724.3l10.6 9m0 -9l-10.6 9M1233.1 724.6l10.6 9m0 -9l-10.6 9M1243.2 723.8l10.6 9m0 -9l-10.6 9M1253.3 724.3l10.6 9m0 -9l-10.6 9M1263.4 723.4l10.6 9m0 -9l-10.6 9M1273.5 723.2l10.6 9m0 -9l-10.6 9M1283.6 722.8l10.6 9m0 -9l-10.6 9M1293.7 722.9l10.6 9m0 -9l-10.6 9M1303.8 722.6l10.6 9m0 -9l-10.6 9" stroke="#3ce4ef" stroke-width="1.2" fill="none"/>
</g>
<g>
<path d="M854.6 731.5 864.7 730.8 874.8 729.8 884.9 729.6 895 729.4 905.1 729.7 915.2 729 925.3 729.9 935.4 729.1 945.5 729.2 955.6 729.8 965.7 728.9 975.8 729.2 985.9 729.9 996 729.1 1006.1 729.2 1016.2 729.4 1026.3 730 1036.4 729.2 1046.5 728.8 1056.6 728.9 1066.7 729.7 1076.8 729.2 1086.9 729.8 1097 729.4 1107.1 729.7 1117.2 729.4 1127.3 729.8 1137.4 729.4 1147.5 729.5 1157.6 729 1167.7 727.1 1177.8 726 1187.9 725.4 1198 723.9 1208.1 722.1 1218.2 719.3 1228.3 715.3 1238.4 702.9 1248.5 680.8 1258.6 658.4 1268.7 635.7 1278.8 613.1 1288.9 591.1 1299 567.5 1309.1 541.8" stroke="#3ce4ef" stroke-width="1.7" fill="none" stroke-linejoin="round"/>
<path d="M849.3 727l10.6 9m0 -9l-10.6 9M859.4 726.3l10.6 9m0 -9l-10.6 9M869.5 725.3l10.6 9m0 -9l-10.6 9M879.6 725.1l10.6 9m0 -9l-10.6 9M889.7 724.9l10.6 9m0 -9l-10.6 9M899.8 725.2l10.6 9m0 -9l-10.6 9M909.9 724.5l10.6 9m0 -9l-10.6 9M920 725.4l10.6 9m0 -9l-10.6 9M930.1 724.6l10.6 9m0 -9l-10.6 9M940.2 724.7l10.6 9m0 -9l-10.6 9M950.3 725.3l10.6 9m0 -9l-10.6 9M960.4 724.4l10.6 9m0 -9l-10.6 9M970.5 724.7l10.6 9m0 -9l-10.6 9M980.6 725.4l10.6 9m0 -9l-10.6 9M990.7 724.6l10.6 9m0 -9l-10.6 9M1000.8 724.7l10.6 9m0 -9l-10.6 9M1010.9 724.9l10.6 9m0 -9l-10.6 9M1021 725.5l10.6 9m0 -9l-10.6 9M1031.1 724.7l10.6 9m0 -9l-10.6 9M1041.2 724.3l10.6 9m0 -9l-10.6 9M1051.3 724.4l10.6 9m0 -9l-10.6 9M1061.4 725.2l10.6 9m0 -9l-10.6 9M1071.5 724.7l10.6 9m0 -9l-10.6 9M1081.6 725.3l10.6 9m0 -9l-10.6 9M1091.7 724.9l10.6 9m0 -9l-10.6 9M1101.8 725.2l10.6 9m0 -9l-10.6 9M1111.9 724.9l10.6 9m0 -9l-10.6 9M1122 725.3l10.6 9m0 -9l-10.6 9M1132.1 724.9l10.6 9m0 -9l-10.6 9M1142.2 725l10.6 9m0 -9l-10.6 9M1152.3 724.5l10.6 9m0 -9l-10.6 9M1162.4 722.6l10.6 9m0 -9l-10.6 9M1172.5 721.5l10.6 9m0 -9l-10.6 9M1182.6 720.9l10.6 9m0 -9l-10.6 9M1192.7 719.4l10.6 9m0 -9l-10.6 9M1202.8 717.6l10.6 9m0 -9l-10.6 9M1212.9 714.8l10.6 9m0 -9l-10.6 9M1223 710.8l10.6 9m0 -9l-10.6 9M1233.1 698.4l10.6 9m0 -9l-10.6 9M1243.2 676.3l10.6 9m0 -9l-10.6 9M1253.3 653.9l10.6 9m0 -9l-10.6 9M1263.4 631.2l10.6 9m0 -9l-10.6 9M1273.5 608.6l10.6 9m0 -9l-10.6 9M1283.6 586.6l10.6 9m0 -9l-10.6 9M1293.7 563l10.6 9m0 -9l-10.6 9M1303.8 537.3l10.6 9m0 -9l-10.6 9" stroke="#3ce4ef" stroke-width="1.2" fill="none"/>
</g>
<g>
<path d="M854.6 722.8 864.7 726 874.8 726.7 884.9 727.9 895 728.3 905.1 728.9 915.2 729.1 925.3 728.9 935.4 728.8 945.5 729.7 955.6 729 965.7 729.2 975.8 729.4 985.9 729.1 996 729.1 1006.1 729.2 1016.2 729.4 1026.3 729 1036.4 729.1 1046.5 729.4 1056.6 729.8 1066.7 729.7 1076.8 729.7 1086.9 729.6 1097 728.9 1107.1 729.9 1117.2 729.1 1127.3 729.3 1137.4 729.7 1147.5 729.2 1157.6 729.6 1167.7 729.4 1177.8 728.2 1187.9 727.1 1198 725.7 1208.1 723.3 1218.2 717 1228.3 707.4 1238.4 689.9 1248.5 674.5 1258.6 652.6 1268.7 630.5 1278.8 608.5 1288.9 590.8 1299 577.8 1309.1 566.1" stroke="#ec2027" stroke-width="1.7" fill="none" stroke-linejoin="round"/>
<path d="M849.3 718.3l10.6 9m0 -9l-10.6 9M859.4 721.5l10.6 9m0 -9l-10.6 9M869.5 722.2l10.6 9m0 -9l-10.6 9M879.6 723.4l10.6 9m0 -9l-10.6 9M889.7 723.8l10.6 9m0 -9l-10.6 9M899.8 724.4l10.6 9m0 -9l-10.6 9M909.9 724.6l10.6 9m0 -9l-10.6 9M920 724.4l10.6 9m0 -9l-10.6 9M930.1 724.3l10.6 9m0 -9l-10.6 9M940.2 725.2l10.6 9m0 -9l-10.6 9M950.3 724.5l10.6 9m0 -9l-10.6 9M960.4 724.7l10.6 9m0 -9l-10.6 9M970.5 724.9l10.6 9m0 -9l-10.6 9M980.6 724.6l10.6 9m0 -9l-10.6 9M990.7 724.6l10.6 9m0 -9l-10.6 9M1000.8 724.7l10.6 9m0 -9l-10.6 9M1010.9 724.9l10.6 9m0 -9l-10.6 9M1021 724.5l10.6 9m0 -9l-10.6 9M1031.1 724.6l10.6 9m0 -9l-10.6 9M1041.2 724.9l10.6 9m0 -9l-10.6 9M1051.3 725.3l10.6 9m0 -9l-10.6 9M1061.4 725.2l10.6 9m0 -9l-10.6 9M1071.5 725.2l10.6 9m0 -9l-10.6 9M1081.6 725.1l10.6 9m0 -9l-10.6 9M1091.7 724.4l10.6 9m0 -9l-10.6 9M1101.8 725.4l10.6 9m0 -9l-10.6 9M1111.9 724.6l10.6 9m0 -9l-10.6 9M1122 724.8l10.6 9m0 -9l-10.6 9M1132.1 725.2l10.6 9m0 -9l-10.6 9M1142.2 724.7l10.6 9m0 -9l-10.6 9M1152.3 725.1l10.6 9m0 -9l-10.6 9M1162.4 724.9l10.6 9m0 -9l-10.6 9M1172.5 723.7l10.6 9m0 -9l-10.6 9M1182.6 722.6l10.6 9m0 -9l-10.6 9M1192.7 721.2l10.6 9m0 -9l-10.6 9M1202.8 718.8l10.6 9m0 -9l-10.6 9M1212.9 712.5l10.6 9m0 -9l-10.6 9M1223 702.9l10.6 9m0 -9l-10.6 9M1233.1 685.4l10.6 9m0 -9l-10.6 9M1243.2 670l10.6 9m0 -9l-10.6 9M1253.3 648.1l10.6 9m0 -9l-10.6 9M1263.4 626l10.6 9m0 -9l-10.6 9M1273.5 604l10.6 9m0 -9l-10.6 9M1283.6 586.3l10.6 9m0 -9l-10.6 9M1293.7 573.3l10.6 9m0 -9l-10.6 9M1303.8 561.6l10.6 9m0 -9l-10.6 9" stroke="#ec2027" stroke-width="1.2" fill="none"/>
</g>
<g>
<path d="M854.6 723.5 864.7 725.7 874.8 726.6 884.9 727.3 895 727.8 905.1 728.5 915.2 729 925.3 728.5 935.4 728.8 945.5 728.9 955.6 729 965.7 728.9 975.8 729.5 985.9 729.1 996 728.8 1006.1 729.2 1016.2 728.9 1026.3 728.9 1036.4 729.8 1046.5 729.8 1056.6 729.1 1066.7 728.8 1076.8 729.3 1086.9 729 1097 729.1 1107.1 729.4 1117.2 729 1127.3 729.1 1137.4 728.8 1147.5 729.1 1157.6 730 1167.7 728.8 1177.8 728 1187.9 727.1 1198 726.1 1208.1 722.9 1218.2 716.7 1228.3 706.2 1238.4 688.6 1248.5 670.9 1258.6 650.3 1268.7 628.2 1278.8 603.4 1288.9 576.2 1299 551.9 1309.1 532.1" stroke="#ec2027" stroke-width="1.7" fill="none" stroke-linejoin="round"/>
<path d="M849.3 719l10.6 9m0 -9l-10.6 9M859.4 721.2l10.6 9m0 -9l-10.6 9M869.5 722.1l10.6 9m0 -9l-10.6 9M879.6 722.8l10.6 9m0 -9l-10.6 9M889.7 723.3l10.6 9m0 -9l-10.6 9M899.8 724l10.6 9m0 -9l-10.6 9M909.9 724.5l10.6 9m0 -9l-10.6 9M920 724l10.6 9m0 -9l-10.6 9M930.1 724.3l10.6 9m0 -9l-10.6 9M940.2 724.4l10.6 9m0 -9l-10.6 9M950.3 724.5l10.6 9m0 -9l-10.6 9M960.4 724.4l10.6 9m0 -9l-10.6 9M970.5 725l10.6 9m0 -9l-10.6 9M980.6 724.6l10.6 9m0 -9l-10.6 9M990.7 724.3l10.6 9m0 -9l-10.6 9M1000.8 724.7l10.6 9m0 -9l-10.6 9M1010.9 724.4l10.6 9m0 -9l-10.6 9M1021 724.4l10.6 9m0 -9l-10.6 9M1031.1 725.3l10.6 9m0 -9l-10.6 9M1041.2 725.3l10.6 9m0 -9l-10.6 9M1051.3 724.6l10.6 9m0 -9l-10.6 9M1061.4 724.3l10.6 9m0 -9l-10.6 9M1071.5 724.8l10.6 9m0 -9l-10.6 9M1081.6 724.5l10.6 9m0 -9l-10.6 9M1091.7 724.6l10.6 9m0 -9l-10.6 9M1101.8 724.9l10.6 9m0 -9l-10.6 9M1111.9 724.5l10.6 9m0 -9l-10.6 9M1122 724.6l10.6 9m0 -9l-10.6 9M1132.1 724.3l10.6 9m0 -9l-10.6 9M1142.2 724.6l10.6 9m0 -9l-10.6 9M1152.3 725.5l10.6 9m0 -9l-10.6 9M1162.4 724.3l10.6 9m0 -9l-10.6 9M1172.5 723.5l10.6 9m0 -9l-10.6 9M1182.6 722.6l10.6 9m0 -9l-10.6 9M1192.7 721.6l10.6 9m0 -9l-10.6 9M1202.8 718.4l10.6 9m0 -9l-10.6 9M1212.9 712.2l10.6 9m0 -9l-10.6 9M1223 701.7l10.6 9m0 -9l-10.6 9M1233.1 684.1l10.6 9m0 -9l-10.6 9M1243.2 666.4l10.6 9m0 -9l-10.6 9M1253.3 645.8l10.6 9m0 -9l-10.6 9M1263.4 623.7l10.6 9m0 -9l-10.6 9M1273.5 598.9l10.6 9m0 -9l-10.6 9M1283.6 571.7l10.6 9m0 -9l-10.6 9M1293.7 547.4l10.6 9m0 -9l-10.6 9M1303.8 527.6l10.6 9m0 -9l-10.6 9" stroke="#ec2027" stroke-width="1.2" fill="none"/>
</g>
<g>
<path d="M854.6 723.7 864.7 725.6 874.8 727.5 884.9 728.3 895 728.3 905.1 729 915.2 729.1 925.3 729.6 935.4 728.8 945.5 729.1 955.6 729.4 965.7 729.3 975.8 729.8 985.9 729.3 996 729.1 1006.1 729.8 1016.2 729.8 1026.3 729.4 1036.4 729.9 1046.5 729.5 1056.6 729.7 1066.7 730 1076.8 728.9 1086.9 727 1097 725.7 1107.1 723.6 1117.2 719.7 1127.3 714 1137.4 705.5 1147.5 687.9 1157.6 667.8 1167.7 646.8 1177.8 626.1 1187.9 608.4 1198 590 1208.1 573 1218.2 557.7 1228.3 543.9 1238.4 532.6 1248.5 522.9 1258.6 516.2 1268.7 510.1 1278.8 504.5 1288.9 501.8 1299 497.7 1309.1 493.5" stroke="#ec2027" stroke-width="1.7" fill="none" stroke-linejoin="round"/>
<path d="M849.3 719.2l10.6 9m0 -9l-10.6 9M859.4 721.1l10.6 9m0 -9l-10.6 9M869.5 723l10.6 9m0 -9l-10.6 9M879.6 723.8l10.6 9m0 -9l-10.6 9M889.7 723.8l10.6 9m0 -9l-10.6 9M899.8 724.5l10.6 9m0 -9l-10.6 9M909.9 724.6l10.6 9m0 -9l-10.6 9M920 725.1l10.6 9m0 -9l-10.6 9M930.1 724.3l10.6 9m0 -9l-10.6 9M940.2 724.6l10.6 9m0 -9l-10.6 9M950.3 724.9l10.6 9m0 -9l-10.6 9M960.4 724.8l10.6 9m0 -9l-10.6 9M970.5 725.3l10.6 9m0 -9l-10.6 9M980.6 724.8l10.6 9m0 -9l-10.6 9M990.7 724.6l10.6 9m0 -9l-10.6 9M1000.8 725.3l10.6 9m0 -9l-10.6 9M1010.9 725.3l10.6 9m0 -9l-10.6 9M1021 724.9l10.6 9m0 -9l-10.6 9M1031.1 725.4l10.6 9m0 -9l-10.6 9M1041.2 725l10.6 9m0 -9l-10.6 9M1051.3 725.2l10.6 9m0 -9l-10.6 9M1061.4 725.5l10.6 9m0 -9l-10.6 9M1071.5 724.4l10.6 9m0 -9l-10.6 9M1081.6 722.5l10.6 9m0 -9l-10.6 9M1091.7 721.2l10.6 9m0 -9l-10.6 9M1101.8 719.1l10.6 9m0 -9l-10.6 9M1111.9 715.2l10.6 9m0 -9l-10.6 9M1122 709.5l10.6 9m0 -9l-10.6 9M1132.1 701l10.6 9m0 -9l-10.6 9M1142.2 683.4l10.6 9m0 -9l-10.6 9M1152.3 663.3l10.6 9m0 -9l-10.6 9M1162.4 642.3l10.6 9m0 -9l-10.6 9M1172.5 621.6l10.6 9m0 -9l-10.6 9M1182.6 603.9l10.6 9m0 -9l-10.6 9M1192.7 585.5l10.6 9m0 -9l-10.6 9M1202.8 568.5l10.6 9m0 -9l-10.6 9M1212.9 553.2l10.6 9m0 -9l-10.6 9M1223 539.4l10.6 9m0 -9l-10.6 9M1233.1 528.1l10.6 9m0 -9l-10.6 9M1243.2 518.4l10.6 9m0 -9l-10.6 9M1253.3 511.7l10.6 9m0 -9l-10.6 9M1263.4 505.6l10.6 9m0 -9l-10.6 9M1273.5 500l10.6 9m0 -9l-10.6 9M1283.6 497.3l10.6 9m0 -9l-10.6 9M1293.7 493.2l10.6 9m0 -9l-10.6 9M1303.8 489l10.6 9m0 -9l-10.6 9" stroke="#ec2027" stroke-width="1.2" fill="none"/>
</g>
<g>
<path d="M854.6 722.5 864.7 724.1 874.8 726.1 884.9 727.1 895 727.8 905.1 728.5 915.2 728.7 925.3 729.6 935.4 729.3 945.5 729.2 955.6 729.7 965.7 729.7 975.8 729.6 985.9 730 996 729.4 1006.1 729.3 1016.2 729.7 1026.3 729.8 1036.4 729 1046.5 729.1 1056.6 729.6 1066.7 729.4 1076.8 729.3 1086.9 729.4 1097 728.8 1107.1 729.5 1117.2 729.2 1127.3 729.1 1137.4 729.5 1147.5 729.2 1157.6 729.3 1167.7 729.2 1177.8 729.7 1187.9 728.9 1198 728.9 1208.1 728.7 1218.2 726.5 1228.3 725.5 1238.4 720.6 1248.5 715.3 1258.6 708.6 1268.7 695.3 1278.8 679 1288.9 657.6 1299 636.5 1309.1 614.6" stroke="#f8ad88" stroke-width="1.7" fill="none" stroke-linejoin="round"/>
<path d="M849.3 718l10.6 9m0 -9l-10.6 9M859.4 719.6l10.6 9m0 -9l-10.6 9M869.5 721.6l10.6 9m0 -9l-10.6 9M879.6 722.6l10.6 9m0 -9l-10.6 9M889.7 723.3l10.6 9m0 -9l-10.6 9M899.8 724l10.6 9m0 -9l-10.6 9M909.9 724.2l10.6 9m0 -9l-10.6 9M920 725.1l10.6 9m0 -9l-10.6 9M930.1 724.8l10.6 9m0 -9l-10.6 9M940.2 724.7l10.6 9m0 -9l-10.6 9M950.3 725.2l10.6 9m0 -9l-10.6 9M960.4 725.2l10.6 9m0 -9l-10.6 9M970.5 725.1l10.6 9m0 -9l-10.6 9M980.6 725.5l10.6 9m0 -9l-10.6 9M990.7 724.9l10.6 9m0 -9l-10.6 9M1000.8 724.8l10.6 9m0 -9l-10.6 9M1010.9 725.2l10.6 9m0 -9l-10.6 9M1021 725.3l10.6 9m0 -9l-10.6 9M1031.1 724.5l10.6 9m0 -9l-10.6 9M1041.2 724.6l10.6 9m0 -9l-10.6 9M1051.3 725.1l10.6 9m0 -9l-10.6 9M1061.4 724.9l10.6 9m0 -9l-10.6 9M1071.5 724.8l10.6 9m0 -9l-10.6 9M1081.6 724.9l10.6 9m0 -9l-10.6 9M1091.7 724.3l10.6 9m0 -9l-10.6 9M1101.8 725l10.6 9m0 -9l-10.6 9M1111.9 724.7l10.6 9m0 -9l-10.6 9M1122 724.6l10.6 9m0 -9l-10.6 9M1132.1 725l10.6 9m0 -9l-10.6 9M1142.2 724.7l10.6 9m0 -9l-10.6 9M1152.3 724.8l10.6 9m0 -9l-10.6 9M1162.4 724.7l10.6 9m0 -9l-10.6 9M1172.5 725.2l10.6 9m0 -9l-10.6 9M1182.6 724.4l10.6 9m0 -9l-10.6 9M1192.7 724.4l10.6 9m0 -9l-10.6 9M1202.8 724.2l10.6 9m0 -9l-10.6 9M1212.9 722l10.6 9m0 -9l-10.6 9M1223 721l10.6 9m0 -9l-10.6 9M1233.1 716.1l10.6 9m0 -9l-10.6 9M1243.2 710.8l10.6 9m0 -9l-10.6 9M1253.3 704.1l10.6 9m0 -9l-10.6 9M1263.4 690.8l10.6 9m0 -9l-10.6 9M1273.5 674.5l10.6 9m0 -9l-10.6 9M1283.6 653.1l10.6 9m0 -9l-10.6 9M1293.7 632l10.6 9m0 -9l-10.6 9M1303.8 610.1l10.6 9m0 -9l-10.6 9" stroke="#f8ad88" stroke-width="1.2" fill="none"/>
</g>
<g>
<path d="M854.6 722 864.7 724.8 874.8 726.5 884.9 727.7 895 728.7 905.1 729.2 915.2 729.4 925.3 728.6 935.4 729.4 945.5 729.7 955.6 728.7 965.7 729.2 975.8 729.5 985.9 729.8 996 728.8 1006.1 729.2 1016.2 728.9 1026.3 729.8 1036.4 729 1046.5 729.5 1056.6 729.4 1066.7 728.8 1076.8 728.9 1086.9 729.8 1097 729.9 1107.1 729.5 1117.2 729 1127.3 729.2 1137.4 729.2 1147.5 729 1157.6 729.5 1167.7 729.5 1177.8 729.3 1187.9 729.4 1198 728 1208.1 727.2 1218.2 725.5 1228.3 722.2 1238.4 716 1248.5 708.2 1258.6 696.1 1268.7 679.6 1278.8 658.3 1288.9 636.7 1299 612.3 1309.1 590.2" stroke="#f8ad88" stroke-width="1.7" fill="none" stroke-linejoin="round"/>
<path d="M849.3 717.5l10.6 9m0 -9l-10.6 9M859.4 720.3l10.6 9m0 -9l-10.6 9M869.5 722l10.6 9m0 -9l-10.6 9M879.6 723.2l10.6 9m0 -9l-10.6 9M889.7 724.2l10.6 9m0 -9l-10.6 9M899.8 724.7l10.6 9m0 -9l-10.6 9M909.9 724.9l10.6 9m0 -9l-10.6 9M920 724.1l10.6 9m0 -9l-10.6 9M930.1 724.9l10.6 9m0 -9l-10.6 9M940.2 725.2l10.6 9m0 -9l-10.6 9M950.3 724.2l10.6 9m0 -9l-10.6 9M960.4 724.7l10.6 9m0 -9l-10.6 9M970.5 725l10.6 9m0 -9l-10.6 9M980.6 725.3l10.6 9m0 -9l-10.6 9M990.7 724.3l10.6 9m0 -9l-10.6 9M1000.8 724.7l10.6 9m0 -9l-10.6 9M1010.9 724.4l10.6 9m0 -9l-10.6 9M1021 725.3l10.6 9m0 -9l-10.6 9M1031.1 724.5l10.6 9m0 -9l-10.6 9M1041.2 725l10.6 9m0 -9l-10.6 9M1051.3 724.9l10.6 9m0 -9l-10.6 9M1061.4 724.3l10.6 9m0 -9l-10.6 9M1071.5 724.4l10.6 9m0 -9l-10.6 9M1081.6 725.3l10.6 9m0 -9l-10.6 9M1091.7 725.4l10.6 9m0 -9l-10.6 9M1101.8 725l10.6 9m0 -9l-10.6 9M1111.9 724.5l10.6 9m0 -9l-10.6 9M1122 724.7l10.6 9m0 -9l-10.6 9M1132.1 724.7l10.6 9m0 -9l-10.6 9M1142.2 724.5l10.6 9m0 -9l-10.6 9M1152.3 725l10.6 9m0 -9l-10.6 9M1162.4 725l10.6 9m0 -9l-10.6 9M1172.5 724.8l10.6 9m0 -9l-10.6 9M1182.6 724.9l10.6 9m0 -9l-10.6 9M1192.7 723.5l10.6 9m0 -9l-10.6 9M1202.8 722.7l10.6 9m0 -9l-10.6 9M1212.9 721l10.6 9m0 -9l-10.6 9M1223 717.7l10.6 9m0 -9l-10.6 9M1233.1 711.5l10.6 9m0 -9l-10.6 9M1243.2 703.7l10.6 9m0 -9l-10.6 9M1253.3 691.6l10.6 9m0 -9l-10.6 9M1263.4 675.1l10.6 9m0 -9l-10.6 9M1273.5 653.8l10.6 9m0 -9l-10.6 9M1283.6 632.2l10.6 9m0 -9l-10.6 9M1293.7 607.8l10.6 9m0 -9l-10.6 9M1303.8 585.7l10.6 9m0 -9l-10.6 9" stroke="#f8ad88" stroke-width="1.2" fill="none"/>
</g>
<g>
<path d="M854.6 721.7 864.7 725.2 874.8 726 884.9 727.4 895 728.4 905.1 728.3 915.2 728.7 925.3 729.1 935.4 729.7 945.5 729.2 955.6 729 965.7 728.8 975.8 728.9 985.9 729.4 996 729.4 1006.1 729.7 1016.2 729.7 1026.3 729.5 1036.4 729.8 1046.5 729.7 1056.6 729.1 1066.7 729.3 1076.8 729 1086.9 729.2 1097 729.7 1107.1 729.8 1117.2 728.7 1127.3 726.4 1137.4 725.5 1147.5 722.1 1157.6 717.5 1167.7 712.3 1177.8 700.9 1187.9 682 1198 662.5 1208.1 643.3 1218.2 626.2 1228.3 607.8 1238.4 588.7 1248.5 570.7 1258.6 555.6 1268.7 543.7 1278.8 533.8 1288.9 525.1 1299 517.2 1309.1 510.2" stroke="#f58d5a" stroke-width="1.7" fill="none" stroke-linejoin="round"/>
<path d="M849.3 717.2l10.6 9m0 -9l-10.6 9M859.4 720.7l10.6 9m0 -9l-10.6 9M869.5 721.5l10.6 9m0 -9l-10.6 9M879.6 722.9l10.6 9m0 -9l-10.6 9M889.7 723.9l10.6 9m0 -9l-10.6 9M899.8 723.8l10.6 9m0 -9l-10.6 9M909.9 724.2l10.6 9m0 -9l-10.6 9M920 724.6l10.6 9m0 -9l-10.6 9M930.1 725.2l10.6 9m0 -9l-10.6 9M940.2 724.7l10.6 9m0 -9l-10.6 9M950.3 724.5l10.6 9m0 -9l-10.6 9M960.4 724.3l10.6 9m0 -9l-10.6 9M970.5 724.4l10.6 9m0 -9l-10.6 9M980.6 724.9l10.6 9m0 -9l-10.6 9M990.7 724.9l10.6 9m0 -9l-10.6 9M1000.8 725.2l10.6 9m0 -9l-10.6 9M1010.9 725.2l10.6 9m0 -9l-10.6 9M1021 725l10.6 9m0 -9l-10.6 9M1031.1 725.3l10.6 9m0 -9l-10.6 9M1041.2 725.2l10.6 9m0 -9l-10.6 9M1051.3 724.6l10.6 9m0 -9l-10.6 9M1061.4 724.8l10.6 9m0 -9l-10.6 9M1071.5 724.5l10.6 9m0 -9l-10.6 9M1081.6 724.7l10.6 9m0 -9l-10.6 9M1091.7 725.2l10.6 9m0 -9l-10.6 9M1101.8 725.3l10.6 9m0 -9l-10.6 9M1111.9 724.2l10.6 9m0 -9l-10.6 9M1122 721.9l10.6 9m0 -9l-10.6 9M1132.1 721l10.6 9m0 -9l-10.6 9M1142.2 717.6l10.6 9m0 -9l-10.6 9M1152.3 713l10.6 9m0 -9l-10.6 9M1162.4 707.8l10.6 9m0 -9l-10.6 9M1172.5 696.4l10.6 9m0 -9l-10.6 9M1182.6 677.5l10.6 9m0 -9l-10.6 9M1192.7 658l10.6 9m0 -9l-10.6 9M1202.8 638.8l10.6 9m0 -9l-10.6 9M1212.9 621.7l10.6 9m0 -9l-10.6 9M1223 603.3l10.6 9m0 -9l-10.6 9M1233.1 584.2l10.6 9m0 -9l-10.6 9M1243.2 566.2l10.6 9m0 -9l-10.6 9M1253.3 551.1l10.6 9m0 -9l-10.6 9M1263.4 539.2l10.6 9m0 -9l-10.6 9M1273.5 529.3l10.6 9m0 -9l-10.6 9M1283.6 520.6l10.6 9m0 -9l-10.6 9M1293.7 512.7l10.6 9m0 -9l-10.6 9M1303.8 505.7l10.6 9m0 -9l-10.6 9" stroke="#f58d5a" stroke-width="1.2" fill="none"/>
</g>
<g>
<path d="M854.6 721.6 864.7 724.7 874.8 725.8 884.9 727.8 895 728.1 905.1 728.7 915.2 729.2 925.3 729.6 935.4 728.9 945.5 729.2 955.6 729.2 965.7 729 975.8 729 985.9 729.7 996 729.1 1006.1 728.9 1016.2 728.9 1026.3 729.9 1036.4 729.8 1046.5 729.9 1056.6 730 1066.7 729.7 1076.8 729.3 1086.9 729.6 1097 729.4 1107.1 729.5 1117.2 727.9 1127.3 726.9 1137.4 724.8 1147.5 720.9 1157.6 717.1 1167.7 709.9 1177.8 696.1 1187.9 675.6 1198 656.6 1208.1 638.3 1218.2 620.6 1228.3 599.9 1238.4 578.6 1248.5 561.4 1258.6 546.5 1268.7 535 1278.8 524.6 1288.9 516.6 1299 509.4 1309.1 502.7" stroke="#f58d5a" stroke-width="1.7" fill="none" stroke-linejoin="round"/>
<path d="M849.3 717.1l10.6 9m0 -9l-10.6 9M859.4 720.2l10.6 9m0 -9l-10.6 9M869.5 721.3l10.6 9m0 -9l-10.6 9M879.6 723.3l10.6 9m0 -9l-10.6 9M889.7 723.6l10.6 9m0 -9l-10.6 9M899.8 724.2l10.6 9m0 -9l-10.6 9M909.9 724.7l10.6 9m0 -9l-10.6 9M920 725.1l10.6 9m0 -9l-10.6 9M930.1 724.4l10.6 9m0 -9l-10.6 9M940.2 724.7l10.6 9m0 -9l-10.6 9M950.3 724.7l10.6 9m0 -9l-10.6 9M960.4 724.5l10.6 9m0 -9l-10.6 9M970.5 724.5l10.6 9m0 -9l-10.6 9M980.6 725.2l10.6 9m0 -9l-10.6 9M990.7 724.6l10.6 9m0 -9l-10.6 9M1000.8 724.4l10.6 9m0 -9l-10.6 9M1010.9 724.4l10.6 9m0 -9l-10.6 9M1021 725.4l10.6 9m0 -9l-10.6 9M1031.1 725.3l10.6 9m0 -9l-10.6 9M1041.2 725.4l10.6 9m0 -9l-10.6 9M1051.3 725.5l10.6 9m0 -9l-10.6 9M1061.4 725.2l10.6 9m0 -9l-10.6 9M1071.5 724.8l10.6 9m0 -9l-10.6 9M1081.6 725.1l10.6 9m0 -9l-10.6 9M1091.7 724.9l10.6 9m0 -9l-10.6 9M1101.8 725l10.6 9m0 -9l-10.6 9M1111.9 723.4l10.6 9m0 -9l-10.6 9M1122 722.4l10.6 9m0 -9l-10.6 9M1132.1 720.3l10.6 9m0 -9l-10.6 9M1142.2 716.4l10.6 9m0 -9l-10.6 9M1152.3 712.6l10.6 9m0 -9l-10.6 9M1162.4 705.4l10.6 9m0 -9l-10.6 9M1172.5 691.6l10.6 9m0 -9l-10.6 9M1182.6 671.1l10.6 9m0 -9l-10.6 9M1192.7 652.1l10.6 9m0 -9l-10.6 9M1202.8 633.8l10.6 9m0 -9l-10.6 9M1212.9 616.1l10.6 9m0 -9l-10.6 9M1223 595.4l10.6 9m0 -9l-10.6 9M1233.1 574.1l10.6 9m0 -9l-10.6 9M1243.2 556.9l10.6 9m0 -9l-10.6 9M1253.3 542l10.6 9m0 -9l-10.6 9M1263.4 530.5l10.6 9m0 -9l-10.6 9M1273.5 520.1l10.6 9m0 -9l-10.6 9M1283.6 512.1l10.6 9m0 -9l-10.6 9M1293.7 504.9l10.6 9m0 -9l-10.6 9M1303.8 498.2l10.6 9m0 -9l-10.6 9" stroke="#f58d5a" stroke-width="1.2" fill="none"/>
</g>
<g>
<path d="M854.6 724.4 864.7 726.4 874.8 728 884.9 727.7 895 728.5 905.1 729 915.2 728.5 925.3 728.8 935.4 729.6 945.5 729.8 955.6 729.5 965.7 729.7 975.8 729.8 985.9 729.3 996 729.8 1006.1 728.8 1016.2 729.4 1026.3 729.8 1036.4 729.3 1046.5 729.3 1056.6 729.6 1066.7 729 1076.8 729.6 1086.9 728.8 1097 729.7 1107.1 729.5 1117.2 729.3 1127.3 729.6 1137.4 729.7 1147.5 728.9 1157.6 729.7 1167.7 728.9 1177.8 729.5 1187.9 729.5 1198 729.1 1208.1 729.7 1218.2 728.9 1228.3 729.6 1238.4 727.8 1248.5 726.7 1258.6 725.6 1268.7 723.4 1278.8 719 1288.9 711.7 1299 703.6 1309.1 692.8" stroke="#1c9029" stroke-width="1.7" fill="none" stroke-linejoin="round"/>
<path d="M849.3 719.9l10.6 9m0 -9l-10.6 9M859.4 721.9l10.6 9m0 -9l-10.6 9M869.5 723.5l10.6 9m0 -9l-10.6 9M879.6 723.2l10.6 9m0 -9l-10.6 9M889.7 724l10.6 9m0 -9l-10.6 9M899.8 724.5l10.6 9m0 -9l-10.6 9M909.9 724l10.6 9m0 -9l-10.6 9M920 724.3l10.6 9m0 -9l-10.6 9M930.1 725.1l10.6 9m0 -9l-10.6 9M940.2 725.3l10.6 9m0 -9l-10.6 9M950.3 725l10.6 9m0 -9l-10.6 9M960.4 725.2l10.6 9m0 -9l-10.6 9M970.5 725.3l10.6 9m0 -9l-10.6 9M980.6 724.8l10.6 9m0 -9l-10.6 9M990.7 725.3l10.6 9m0 -9l-10.6 9M1000.8 724.3l10.6 9m0 -9l-10.6 9M1010.9 724.9l10.6 9m0 -9l-10.6 9M1021 725.3l10.6 9m0 -9l-10.6 9M1031.1 724.8l10.6 9m0 -9l-10.6 9M1041.2 724.8l10.6 9m0 -9l-10.6 9M1051.3 725.1l10.6 9m0 -9l-10.6 9M1061.4 724.5l10.6 9m0 -9l-10.6 9M1071.5 725.1l10.6 9m0 -9l-10.6 9M1081.6 724.3l10.6 9m0 -9l-10.6 9M1091.7 725.2l10.6 9m0 -9l-10.6 9M1101.8 725l10.6 9m0 -9l-10.6 9M1111.9 724.8l10.6 9m0 -9l-10.6 9M1122 725.1l10.6 9m0 -9l-10.6 9M1132.1 725.2l10.6 9m0 -9l-10.6 9M1142.2 724.4l10.6 9m0 -9l-10.6 9M1152.3 725.2l10.6 9m0 -9l-10.6 9M1162.4 724.4l10.6 9m0 -9l-10.6 9M1172.5 725l10.6 9m0 -9l-10.6 9M1182.6 725l10.6 9m0 -9l-10.6 9M1192.7 724.6l10.6 9m0 -9l-10.6 9M1202.8 725.2l10.6 9m0 -9l-10.6 9M1212.9 724.4l10.6 9m0 -9l-10.6 9M1223 725.1l10.6 9m0 -9l-10.6 9M1233.1 723.3l10.6 9m0 -9l-10.6 9M1243.2 722.2l10.6 9m0 -9l-10.6 9M1253.3 721.1l10.6 9m0 -9l-10.6 9M1263.4 718.9l10.6 9m0 -9l-10.6 9M1273.5 714.5l10.6 9m0 -9l-10.6 9M1283.6 707.2l10.6 9m0 -9l-10.6 9M1293.7 699.1l10.6 9m0 -9l-10.6 9M1303.8 688.3l10.6 9m0 -9l-10.6 9" stroke="#1c9029" stroke-width="1.2" fill="none"/>
</g>
<g>
<path d="M854.6 725.2 864.7 725.9 874.8 728.1 884.9 728.4 895 728 905.1 728.7 915.2 729.1 925.3 729.6 935.4 729.7 945.5 729.9 955.6 728.9 965.7 729 975.8 729.2 985.9 729.9 996 729.8 1006.1 729.3 1016.2 729.4 1026.3 729.1 1036.4 728.9 1046.5 729 1056.6 729.5 1066.7 730 1076.8 728.9 1086.9 729.9 1097 729.6 1107.1 729.2 1117.2 729.5 1127.3 729.9 1137.4 728.8 1147.5 729.7 1157.6 729 1167.7 729.4 1177.8 729.4 1187.9 729.7 1198 729.6 1208.1 729.8 1218.2 729.7 1228.3 728.6 1238.4 727.3 1248.5 726.4 1258.6 724.3 1268.7 718.5 1278.8 711.6 1288.9 701.6 1299 689.9 1309.1 678" stroke="#1c9029" stroke-width="1.7" fill="none" stroke-linejoin="round"/>
<path d="M849.3 720.7l10.6 9m0 -9l-10.6 9M859.4 721.4l10.6 9m0 -9l-10.6 9M869.5 723.6l10.6 9m0 -9l-10.6 9M879.6 723.9l10.6 9m0 -9l-10.6 9M889.7 723.5l10.6 9m0 -9l-10.6 9M899.8 724.2l10.6 9m0 -9l-10.6 9M909.9 724.6l10.6 9m0 -9l-10.6 9M920 725.1l10.6 9m0 -9l-10.6 9M930.1 725.2l10.6 9m0 -9l-10.6 9M940.2 725.4l10.6 9m0 -9l-10.6 9M950.3 724.4l10.6 9m0 -9l-10.6 9M960.4 724.5l10.6 9m0 -9l-10.6 9M970.5 724.7l10.6 9m0 -9l-10.6 9M980.6 725.4l10.6 9m0 -9l-10.6 9M990.7 725.3l10.6 9m0 -9l-10.6 9M1000.8 724.8l10.6 9m0 -9l-10.6 9M1010.9 724.9l10.6 9m0 -9l-10.6 9M1021 724.6l10.6 9m0 -9l-10.6 9M1031.1 724.4l10.6 9m0 -9l-10.6 9M1041.2 724.5l10.6 9m0 -9l-10.6 9M1051.3 725l10.6 9m0 -9l-10.6 9M1061.4 725.5l10.6 9m0 -9l-10.6 9M1071.5 724.4l10.6 9m0 -9l-10.6 9M1081.6 725.4l10.6 9m0 -9l-10.6 9M1091.7 725.1l10.6 9m0 -9l-10.6 9M1101.8 724.7l10.6 9m0 -9l-10.6 9M1111.9 725l10.6 9m0 -9l-10.6 9M1122 725.4l10.6 9m0 -9l-10.6 9M1132.1 724.3l10.6 9m0 -9l-10.6 9M1142.2 725.2l10.6 9m0 -9l-10.6 9M1152.3 724.5l10.6 9m0 -9l-10.6 9M1162.4 724.9l10.6 9m0 -9l-10.6 9M1172.5 724.9l10.6 9m0 -9l-10.6 9M1182.6 725.2l10.6 9m0 -9l-10.6 9M1192.7 725.1l10.6 9m0 -9l-10.6 9M1202.8 725.3l10.6 9m0 -9l-10.6 9M1212.9 725.2l10.6 9m0 -9l-10.6 9M1223 724.1l10.6 9m0 -9l-10.6 9M1233.1 722.8l10.6 9m0 -9l-10.6 9M1243.2 721.9l10.6 9m0 -9l-10.6 9M1253.3 719.8l10.6 9m0 -9l-10.6 9M1263.4 714l10.6 9m0 -9l-10.6 9M1273.5 707.1l10.6 9m0 -9l-10.6 9M1283.6 697.1l10.6 9m0 -9l-10.6 9M1293.7 685.4l10.6 9m0 -9l-10.6 9M1303.8 673.5l10.6 9m0 -9l-10.6 9" stroke="#1c9029" stroke-width="1.2" fill="none"/>
</g>
<g>
<path d="M854.6 725.1 864.7 726.7 874.8 727.4 884.9 728.5 895 728.2 905.1 729 915.2 729.5 925.3 729.8 935.4 728.8 945.5 729.1 955.6 729 965.7 729 975.8 729.1 985.9 729.7 996 728.9 1006.1 729.3 1016.2 729.1 1026.3 729.1 1036.4 729.1 1046.5 729.3 1056.6 730 1066.7 729 1076.8 729.3 1086.9 729.3 1097 729.3 1107.1 730 1117.2 729.9 1127.3 729.2 1137.4 729.4 1147.5 728.7 1157.6 728.4 1167.7 727.6 1177.8 726 1187.9 723.5 1198 718.4 1208.1 713.8 1218.2 705.8 1228.3 690.1 1238.4 669.8 1248.5 645.4 1258.6 621.5 1268.7 597.3 1278.8 575.5 1288.9 556.2 1299 537.6 1309.1 520.3" stroke="#1c9029" stroke-width="1.7" fill="none" stroke-linejoin="round"/>
<path d="M849.3 720.6l10.6 9m0 -9l-10.6 9M859.4 722.2l10.6 9m0 -9l-10.6 9M869.5 722.9l10.6 9m0 -9l-10.6 9M879.6 724l10.6 9m0 -9l-10.6 9M889.7 723.7l10.6 9m0 -9l-10.6 9M899.8 724.5l10.6 9m0 -9l-10.6 9M909.9 725l10.6 9m0 -9l-10.6 9M920 725.3l10.6 9m0 -9l-10.6 9M930.1 724.3l10.6 9m0 -9l-10.6 9M940.2 724.6l10.6 9m0 -9l-10.6 9M950.3 724.5l10.6 9m0 -9l-10.6 9M960.4 724.5l10.6 9m0 -9l-10.6 9M970.5 724.6l10.6 9m0 -9l-10.6 9M980.6 725.2l10.6 9m0 -9l-10.6 9M990.7 724.4l10.6 9m0 -9l-10.6 9M1000.8 724.8l10.6 9m0 -9l-10.6 9M1010.9 724.6l10.6 9m0 -9l-10.6 9M1021 724.6l10.6 9m0 -9l-10.6 9M1031.1 724.6l10.6 9m0 -9l-10.6 9M1041.2 724.8l10.6 9m0 -9l-10.6 9M1051.3 725.5l10.6 9m0 -9l-10.6 9M1061.4 724.5l10.6 9m0 -9l-10.6 9M1071.5 724.8l10.6 9m0 -9l-10.6 9M1081.6 724.8l10.6 9m0 -9l-10.6 9M1091.7 724.8l10.6 9m0 -9l-10.6 9M1101.8 725.5l10.6 9m0 -9l-10.6 9M1111.9 725.4l10.6 9m0 -9l-10.6 9M1122 724.7l10.6 9m0 -9l-10.6 9M1132.1 724.9l10.6 9m0 -9l-10.6 9M1142.2 724.2l10.6 9m0 -9l-10.6 9M1152.3 723.9l10.6 9m0 -9l-10.6 9M1162.4 723.1l10.6 9m0 -9l-10.6 9M1172.5 721.5l10.6 9m0 -9l-10.6 9M1182.6 719l10.6 9m0 -9l-10.6 9M1192.7 713.9l10.6 9m0 -9l-10.6 9M1202.8 709.3l10.6 9m0 -9l-10.6 9M1212.9 701.3l10.6 9m0 -9l-10.6 9M1223 685.6l10.6 9m0 -9l-10.6 9M1233.1 665.3l10.6 9m0 -9l-10.6 9M1243.2 640.9l10.6 9m0 -9l-10.6 9M1253.3 617l10.6 9m0 -9l-10.6 9M1263.4 592.8l10.6 9m0 -9l-10.6 9M1273.5 571l10.6 9m0 -9l-10.6 9M1283.6 551.7l10.6 9m0 -9l-10.6 9M1293.7 533.1l10.6 9m0 -9l-10.6 9M1303.8 515.8l10.6 9m0 -9l-10.6 9" stroke="#1c9029" stroke-width="1.2" fill="none"/>
</g>
<g>
<path d="M854.6 725 864.7 726.2 874.8 728.1 884.9 727.6 895 729.1 905.1 729.3 915.2 729.5 925.3 729.2 935.4 729.8 945.5 729.1 955.6 729.5 965.7 728.8 975.8 729.4 985.9 729.2 996 729.6 1006.1 729.1 1016.2 729.5 1026.3 728.9 1036.4 729.6 1046.5 729.2 1056.6 729.7 1066.7 728.8 1076.8 729.1 1086.9 729.5 1097 728.8 1107.1 728.9 1117.2 730 1127.3 729.7 1137.4 729.8 1147.5 729.2 1157.6 728 1167.7 727.4 1177.8 725.1 1187.9 722 1198 716.9 1208.1 711 1218.2 700.3 1228.3 680.1 1238.4 658.3 1248.5 633.4 1258.6 609.6 1268.7 586.2 1278.8 565 1288.9 545 1299 529.7 1309.1 514.1" stroke="#1c9029" stroke-width="1.7" fill="none" stroke-linejoin="round"/>
<path d="M849.3 720.5l10.6 9m0 -9l-10.6 9M859.4 721.7l10.6 9m0 -9l-10.6 9M869.5 723.6l10.6 9m0 -9l-10.6 9M879.6 723.1l10.6 9m0 -9l-10.6 9M889.7 724.6l10.6 9m0 -9l-10.6 9M899.8 724.8l10.6 9m0 -9l-10.6 9M909.9 725l10.6 9m0 -9l-10.6 9M920 724.7l10.6 9m0 -9l-10.6 9M930.1 725.3l10.6 9m0 -9l-10.6 9M940.2 724.6l10.6 9m0 -9l-10.6 9M950.3 725l10.6 9m0 -9l-10.6 9M960.4 724.3l10.6 9m0 -9l-10.6 9M970.5 724.9l10.6 9m0 -9l-10.6 9M980.6 724.7l10.6 9m0 -9l-10.6 9M990.7 725.1l10.6 9m0 -9l-10.6 9M1000.8 724.6l10.6 9m0 -9l-10.6 9M1010.9 725l10.6 9m0 -9l-10.6 9M1021 724.4l10.6 9m0 -9l-10.6 9M1031.1 725.1l10.6 9m0 -9l-10.6 9M1041.2 724.7l10.6 9m0 -9l-10.6 9M1051.3 725.2l10.6 9m0 -9l-10.6 9M1061.4 724.3l10.6 9m0 -9l-10.6 9M1071.5 724.6l10.6 9m0 -9l-10.6 9M1081.6 725l10.6 9m0 -9l-10.6 9M1091.7 724.3l10.6 9m0 -9l-10.6 9M1101.8 724.4l10.6 9m0 -9l-10.6 9M1111.9 725.5l10.6 9m0 -9l-10.6 9M1122 725.2l10.6 9m0 -9l-10.6 9M1132.1 725.3l10.6 9m0 -9l-10.6 9M1142.2 724.7l10.6 9m0 -9l-10.6 9M1152.3 723.5l10.6 9m0 -9l-10.6 9M1162.4 722.9l10.6 9m0 -9l-10.6 9M1172.5 720.6l10.6 9m0 -9l-10.6 9M1182.6 717.5l10.6 9m0 -9l-10.6 9M1192.7 712.4l10.6 9m0 -9l-10.6 9M1202.8 706.5l10.6 9m0 -9l-10.6 9M1212.9 695.8l10.6 9m0 -9l-10.6 9M1223 675.6l10.6 9m0 -9l-10.6 9M1233.1 653.8l10.6 9m0 -9l-10.6 9M1243.2 628.9l10.6 9m0 -9l-10.6 9M1253.3 605.1l10.6 9m0 -9l-10.6 9M1263.4 581.7l10.6 9m0 -9l-10.6 9M1273.5 560.5l10.6 9m0 -9l-10.6 9M1283.6 540.5l10.6 9m0 -9l-10.6 9M1293.7 525.2l10.6 9m0 -9l-10.6 9M1303.8 509.6l10.6 9m0 -9l-10.6 9" stroke="#1c9029" stroke-width="1.2" fill="none"/>
</g>
<g>
<path d="M854.6 726.4 864.7 727.6 874.8 728.4 884.9 729.3 895 728.7 905.1 729.4 915.2 729 925.3 729.7 935.4 729 945.5 729.6 955.6 729.3 965.7 729.7 975.8 729 985.9 729.3 996 729.4 1006.1 728.8 1016.2 729.8 1026.3 729.7 1036.4 729.6 1046.5 729.8 1056.6 729.6 1066.7 729.6 1076.8 729.8 1086.9 729.4 1097 729.3 1107.1 728.4 1117.2 728.5 1127.3 729.1 1137.4 728.4 1147.5 728.7 1157.6 729.1 1167.7 728.1 1177.8 728.5 1187.9 727.6 1198 727.5 1208.1 727.8 1218.2 727.8 1228.3 727.2 1238.4 727.3 1248.5 727.3 1258.6 727.3 1268.7 727.5 1278.8 726.8 1288.9 726.8 1299 726 1309.1 726.9" stroke="#1c1c1c" stroke-width="2.2" fill="none" stroke-linejoin="round"/>
</g>
<path d="M854.6 709.2H1309.1" stroke="#b3121e" stroke-width="2.4" fill="none"/>
</g>
<rect x="1364" y="542.3" width="187.6" height="31" fill="#ff7c80"/>
<rect x="1364" y="573.3" width="187.6" height="32.9" fill="#ffc000"/>
<rect x="1364" y="606.2" width="187.6" height="31.7" fill="#00b050"/>
<rect x="1364" y="637.9" width="187.6" height="32.9" fill="#00b0f0"/>
<rect x="1364" y="670.8" width="187.6" height="62.2" fill="#a6a6a6"/>
<rect x="1364" y="733" width="187.6" height="31.7" fill="#000000"/>
<text x="1365.8" y="567" font-size="21.5" font-weight="normal" text-anchor="start" fill="#111" textLength="143" lengthAdjust="spacingAndGlyphs" stroke="#111" stroke-width="0.45">50,000 copies</text>
<text x="1365.8" y="597.3" font-size="21.5" font-weight="normal" text-anchor="start" fill="#111" textLength="129.7" lengthAdjust="spacingAndGlyphs" stroke="#111" stroke-width="0.45">5,000 copies</text>
<text x="1365.8" y="631" font-size="21.5" font-weight="normal" text-anchor="start" fill="#111" textLength="110.7" lengthAdjust="spacingAndGlyphs" stroke="#111" stroke-width="0.45">500 copies</text>
<text x="1365.8" y="662.7" font-size="21.5" font-weight="normal" text-anchor="start" fill="#111" textLength="96.8" lengthAdjust="spacingAndGlyphs" stroke="#111" stroke-width="0.45">50 copies</text>
<text x="1365.8" y="694.3" font-size="21.5" font-weight="normal" text-anchor="start" fill="#111" textLength="139.2" lengthAdjust="spacingAndGlyphs" stroke="#111" stroke-width="0.45">Wildtype neg</text>
<text x="1365.8" y="725.4" font-size="21.5" font-weight="normal" text-anchor="start" fill="#111" textLength="72.1" lengthAdjust="spacingAndGlyphs" stroke="#111" stroke-width="0.45">control</text>
<text x="1365.8" y="758.4" font-size="21.5" font-weight="normal" text-anchor="start" fill="#ffffff" textLength="165.8" lengthAdjust="spacingAndGlyphs" stroke="#ffffff" stroke-width="0.45">Water-only NTC</text>
<text x="1365.8" y="534" font-size="21.5" font-weight="bold" text-anchor="start" fill="#111" textLength="44.5" lengthAdjust="spacingAndGlyphs">Key:</text>
<rect x="1365.8" y="537.3" width="44.5" height="1.6" fill="#111"/>
<text x="1566" y="567.3" font-size="21.5" font-weight="bold" text-anchor="start" fill="#111" textLength="200.5" lengthAdjust="spacingAndGlyphs">O = Omicron gRNA</text>
<text x="1566" y="599" font-size="21.5" font-weight="bold" text-anchor="start" fill="#111" textLength="179.5" lengthAdjust="spacingAndGlyphs">X = B.1.1.7 gRNA</text>
</g>
</svg>
</body></html>
